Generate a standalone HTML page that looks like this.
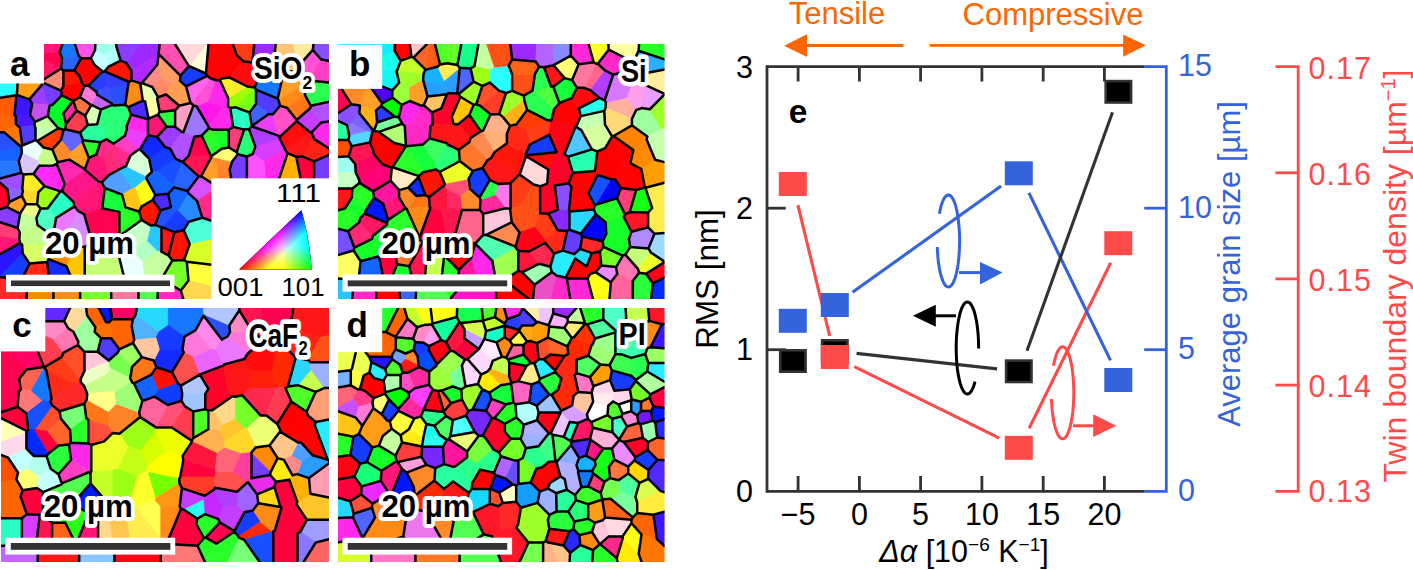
<!DOCTYPE html>
<html><head><meta charset="utf-8"><style>
html,body{margin:0;padding:0;background:#fff;}
body{width:1413px;height:570px;overflow:hidden;position:relative;font-family:"Liberation Sans",sans-serif;}
svg{position:absolute;left:0;top:0;}
</style></head><body>
<svg width="1413" height="570" viewBox="0 0 1413 570" shape-rendering="geometricPrecision">
<clipPath id="clipa"><rect x="0" y="44" width="329" height="255"/></clipPath>
<g clip-path="url(#clipa)">
<polygon points="59.7,52.1 33.9,55.3 16.3,52.8 8.9,44.0 62.4,44.0" fill="#ff1677" stroke="#ff1677" stroke-width="0.8"/>
<polygon points="62.0,58.5 61.1,68.7 60.8,68.7 33.9,55.3 59.7,52.1" fill="#ff0250" stroke="#ff0250" stroke-width="0.8"/>
<polygon points="19.0,59.3 42.0,80.5 60.8,68.7 33.9,55.3 16.3,52.8" fill="#ff1664" stroke="#ff1664" stroke-width="0.8"/>
<polygon points="62.0,58.5 61.1,68.7 63.4,70.4 74.3,70.4 81.1,58.3 78.3,55.2" fill="#2964ff" stroke="#2964ff" stroke-width="0.8"/>
<polygon points="62.0,58.5 78.3,55.2 74.9,44.0 62.4,44.0 59.7,52.1" fill="#1677ff" stroke="#1677ff" stroke-width="0.8"/>
<polygon points="78.3,55.2 74.9,44.0 95.4,44.0 95.0,50.2 90.9,58.3 81.1,58.3" fill="#ff50ec" stroke="#ff50ec" stroke-width="0.8"/>
<polygon points="106.4,54.7 108.6,66.7 104.6,71.4 104.4,71.5 102.4,71.3 94.8,65.1 90.9,58.3 95.0,50.2" fill="#c5ffff" stroke="#c5ffff" stroke-width="0.8"/>
<polygon points="116.4,44.0 95.4,44.0 95.0,50.2 106.4,54.7 116.2,46.0" fill="#9effec" stroke="#9effec" stroke-width="0.8"/>
<polygon points="79.7,76.4 81.9,83.0 84.5,85.8 88.2,85.6 102.4,71.3 94.8,65.1" fill="#ff0202" stroke="#ff0202" stroke-width="0.8"/>
<polygon points="74.3,70.4 81.1,58.3 90.9,58.3 94.8,65.1 79.7,76.4" fill="#ff0202" stroke="#ff0202" stroke-width="0.8"/>
<polygon points="74.3,70.4 63.4,70.4 63.4,86.1 81.9,83.0 79.7,76.4" fill="#ff1600" stroke="#ff1600" stroke-width="0.8"/>
<polygon points="73.0,100.9 61.9,95.3 60.9,90.6 63.4,86.1 81.9,83.0 84.5,85.8 79.8,97.1 73.3,100.9" fill="#ff0200" stroke="#ff0200" stroke-width="0.8"/>
<polygon points="60.8,68.7 61.1,68.7 63.4,70.4 63.4,86.1 60.9,90.6 42.5,82.4 42.0,80.5" fill="#ff8a77" stroke="#ff8a77" stroke-width="0.8"/>
<polygon points="107.5,86.4 104.4,71.5 102.4,71.3 88.2,85.6 96.6,91.9" fill="#293dff" stroke="#293dff" stroke-width="0.8"/>
<polygon points="107.5,86.4 96.6,91.9 97.2,94.8 111.8,103.5 110.1,88.6" fill="#3d50ff" stroke="#3d50ff" stroke-width="0.8"/>
<polygon points="97.2,94.8 92.0,105.1 91.2,105.3 79.8,97.1 84.5,85.8 88.2,85.6 96.6,91.9" fill="#ff77d8" stroke="#ff77d8" stroke-width="0.8"/>
<polygon points="111.8,103.5 112.5,104.9 100.9,109.5 92.0,105.1 97.2,94.8" fill="#c564ff" stroke="#c564ff" stroke-width="0.8"/>
<polygon points="0.0,44.0 8.9,44.0 16.3,52.8 19.0,59.3 16.9,94.9 16.4,95.3 0.0,97.7" fill="#29ffff" stroke="#29ffff" stroke-width="0.8"/>
<polygon points="19.0,59.3 16.9,94.9 29.4,99.4 41.8,84.9 42.5,82.4 42.0,80.5" fill="#ff9e16" stroke="#ff9e16" stroke-width="0.8"/>
<polygon points="0.0,97.7 16.4,95.3 14.4,114.9 0.0,114.9" fill="#ff5c02" stroke="#ff5c02" stroke-width="0.8"/>
<polygon points="15.8,124.1 15.8,116.5 14.4,114.9 0.0,114.9 -0.0,132.3 4.5,132.6" fill="#ff6402" stroke="#ff6402" stroke-width="0.8"/>
<polygon points="30.1,114.9 32.2,103.6 29.4,99.4 16.9,94.9 16.4,95.3 14.4,114.9 15.8,116.5" fill="#3d16ff" stroke="#3d16ff" stroke-width="0.8"/>
<polygon points="19.8,127.6 34.5,125.0 35.0,121.9 30.1,114.9 15.8,116.5 15.8,124.1" fill="#4916ff" stroke="#4916ff" stroke-width="0.8"/>
<polygon points="48.6,105.2 41.8,84.9 29.4,99.4 32.2,103.6" fill="#9e3dff" stroke="#9e3dff" stroke-width="0.8"/>
<polygon points="48.6,105.2 41.8,84.9 42.5,82.4 60.9,90.6 61.9,95.3 52.4,104.8 49.6,105.8" fill="#773dff" stroke="#773dff" stroke-width="0.8"/>
<polygon points="35.0,121.9 47.8,116.2 49.6,105.8 48.6,105.2 32.2,103.6 30.1,114.9" fill="#c550ec" stroke="#c550ec" stroke-width="0.8"/>
<polygon points="63.4,113.6 52.4,104.8 61.9,95.3 73.0,100.9" fill="#02ff29" stroke="#02ff29" stroke-width="0.8"/>
<polygon points="49.6,105.8 52.4,104.8 63.4,113.6 66.0,123.9 65.2,129.3 63.7,130.0 58.4,128.3 58.3,128.2 47.8,116.2" fill="#02ff29" stroke="#02ff29" stroke-width="0.8"/>
<polygon points="63.4,113.6 73.0,100.9 73.3,100.9 76.5,110.7 66.0,123.9" fill="#ff299e" stroke="#ff299e" stroke-width="0.8"/>
<polygon points="76.5,110.7 85.2,115.7 91.2,105.3 79.8,97.1 73.3,100.9" fill="#ff773d" stroke="#ff773d" stroke-width="0.8"/>
<polygon points="100.9,109.5 97.2,124.3 87.8,124.9 85.2,115.7 91.2,105.3 92.0,105.1" fill="#d8ffb1" stroke="#d8ffb1" stroke-width="0.8"/>
<polygon points="100.9,109.5 97.2,124.3 104.2,128.1 111.4,123.2 113.5,105.4 112.5,104.9" fill="#29ff77" stroke="#29ff77" stroke-width="0.8"/>
<polygon points="66.0,123.9 65.2,129.3 80.2,132.7 87.8,124.9 85.2,115.7 76.5,110.7" fill="#ff3d50" stroke="#ff3d50" stroke-width="0.8"/>
<polygon points="34.5,125.0 35.5,128.2 58.3,128.2 47.8,116.2 35.0,121.9" fill="#c5ff9e" stroke="#c5ff9e" stroke-width="0.8"/>
<polygon points="116.2,46.0 120.6,60.7 108.6,66.7 106.4,54.7" fill="#b1ffff" stroke="#b1ffff" stroke-width="0.8"/>
<polygon points="126.1,62.8 139.5,44.0 159.6,44.0 158.6,53.8 131.4,70.8" fill="#9e29ff" stroke="#9e29ff" stroke-width="0.8"/>
<polygon points="131.4,80.4 140.3,83.2 142.0,83.0 157.3,64.7 158.6,53.9 158.6,53.8 131.4,70.8" fill="#b129ff" stroke="#b129ff" stroke-width="0.8"/>
<polygon points="116.2,46.0 120.6,60.7 126.1,62.8 139.5,44.0 116.4,44.0" fill="#8a3dff" stroke="#8a3dff" stroke-width="0.8"/>
<polygon points="104.6,71.4 129.3,82.0 131.4,80.4 131.4,70.8 126.1,62.8 120.6,60.7 108.6,66.7" fill="#ff1602" stroke="#ff1602" stroke-width="0.8"/>
<polygon points="110.1,88.6 128.5,83.3 125.2,104.7 113.5,105.4 112.5,104.9 111.8,103.5" fill="#2950ff" stroke="#2950ff" stroke-width="0.8"/>
<polygon points="107.5,86.4 104.4,71.5 104.6,71.4 129.3,82.0 128.5,83.3 110.1,88.6" fill="#353dff" stroke="#353dff" stroke-width="0.8"/>
<polygon points="157.3,64.7 158.6,53.9 180.4,75.6 180.0,80.9 171.2,84.3 161.3,78.2" fill="#ff9e64" stroke="#ff9e64" stroke-width="0.8"/>
<polygon points="152.4,87.1 158.0,97.2 166.1,94.5 171.2,84.3 161.3,78.2" fill="#ff8a64" stroke="#ff8a64" stroke-width="0.8"/>
<polygon points="190.5,103.0 186.1,86.4 180.0,80.9 171.2,84.3 166.1,94.5 179.2,105.8" fill="#ff9e50" stroke="#ff9e50" stroke-width="0.8"/>
<polygon points="142.0,83.0 157.3,64.7 161.3,78.2 152.4,87.1" fill="#ff8a8a" stroke="#ff8a8a" stroke-width="0.8"/>
<polygon points="158.6,53.9 180.4,75.6 188.9,66.1 175.0,44.0 159.6,44.0 158.6,53.8" fill="#ff50b1" stroke="#ff50b1" stroke-width="0.8"/>
<polygon points="180.0,80.9 186.1,86.4 207.1,75.9 205.9,73.5 189.2,66.1 188.9,66.1 180.4,75.6" fill="#163dff" stroke="#163dff" stroke-width="0.8"/>
<polygon points="208.4,44.0 208.5,44.6 205.9,73.5 189.2,66.1 206.8,44.0" fill="#ffffd8" stroke="#ffffd8" stroke-width="0.8"/>
<polygon points="189.2,66.1 206.8,44.0 175.0,44.0 188.9,66.1" fill="#ffd8d8" stroke="#ffd8d8" stroke-width="0.8"/>
<polygon points="219.9,80.0 221.8,78.5 223.2,63.9 208.5,44.6 205.9,73.5 207.1,75.9 210.4,78.2 216.0,80.2" fill="#ff0202" stroke="#ff0202" stroke-width="0.8"/>
<polygon points="193.5,105.4 191.4,103.5 210.4,78.2 216.0,80.2 208.4,102.1 196.8,106.5" fill="#ff50d8" stroke="#ff50d8" stroke-width="0.8"/>
<polygon points="190.5,103.0 186.1,86.4 207.1,75.9 210.4,78.2 191.4,103.5" fill="#ff64ec" stroke="#ff64ec" stroke-width="0.8"/>
<polygon points="196.8,106.5 208.4,102.1 223.3,107.4 208.6,126.8" fill="#ff16ec" stroke="#ff16ec" stroke-width="0.8"/>
<polygon points="142.8,100.7 140.3,83.2 142.0,83.0 152.4,87.1 158.0,97.2 157.2,98.7 145.1,101.4" fill="#ecffb1" stroke="#ecffb1" stroke-width="0.8"/>
<polygon points="148.6,118.7 158.1,114.7 159.7,112.0 157.2,98.7 145.1,101.4" fill="#ffff9e" stroke="#ffff9e" stroke-width="0.8"/>
<polygon points="142.8,100.7 140.3,83.2 131.4,80.4 129.3,82.0 128.5,83.3 125.2,104.7 128.3,107.2" fill="#ff8a16" stroke="#ff8a16" stroke-width="0.8"/>
<polygon points="148.0,119.2 131.1,114.6 128.3,107.2 142.8,100.7 145.1,101.4 148.6,118.7" fill="#5029ff" stroke="#5029ff" stroke-width="0.8"/>
<polygon points="131.1,114.6 126.5,126.6 111.4,123.2 113.5,105.4 125.2,104.7 128.3,107.2" fill="#29ff77" stroke="#29ff77" stroke-width="0.8"/>
<polygon points="175.1,126.7 175.1,110.3 159.7,112.0 158.1,114.7 166.7,126.7" fill="#29ff3d" stroke="#29ff3d" stroke-width="0.8"/>
<polygon points="193.5,105.4 191.4,103.5 190.5,103.0 179.2,105.8 175.1,110.3 175.1,126.7 182.0,132.1 183.5,132.0" fill="#ff9ec5" stroke="#ff9ec5" stroke-width="0.8"/>
<polygon points="194.4,136.8 183.5,132.0 193.5,105.4 196.8,106.5 208.6,126.8 208.8,128.4 201.7,135.7" fill="#9e77ff" stroke="#9e77ff" stroke-width="0.8"/>
<polygon points="175.1,110.3 159.7,112.0 157.2,98.7 158.0,97.2 166.1,94.5 179.2,105.8" fill="#ff3d77" stroke="#ff3d77" stroke-width="0.8"/>
<polygon points="148.0,119.2 148.0,134.2 127.0,128.7 126.5,126.6 131.1,114.6" fill="#ff29ec" stroke="#ff29ec" stroke-width="0.8"/>
<polygon points="148.4,135.1 148.0,134.2 148.0,119.2 148.6,118.7 158.1,114.7 166.7,126.7 157.0,136.9" fill="#ff1677" stroke="#ff1677" stroke-width="0.8"/>
<polygon points="236.6,54.9 223.2,63.9 221.8,78.5 229.6,77.6 243.5,61.3" fill="#ff0202" stroke="#ff0202" stroke-width="0.8"/>
<polygon points="236.6,54.9 223.2,63.9 208.5,44.6 208.4,44.0 232.7,44.0" fill="#ff0202" stroke="#ff0202" stroke-width="0.8"/>
<polygon points="252.4,62.8 261.3,70.1 254.7,87.4 247.3,86.5 229.6,77.6 243.5,61.3" fill="#ff0c0c" stroke="#ff0c0c" stroke-width="0.8"/>
<polygon points="232.7,44.0 254.2,44.0 252.4,62.8 243.5,61.3 236.6,54.9" fill="#ff3d16" stroke="#ff3d16" stroke-width="0.8"/>
<polygon points="252.4,62.8 254.2,44.0 275.7,44.0 273.2,66.2 261.3,70.1" fill="#9e29ff" stroke="#9e29ff" stroke-width="0.8"/>
<polygon points="313.5,44.0 292.6,44.0 298.2,66.3 312.8,49.9" fill="#ffec9e" stroke="#ffec9e" stroke-width="0.8"/>
<polygon points="273.2,66.2 283.8,71.0 296.3,71.5 298.2,66.3 292.6,44.0 275.7,44.0" fill="#ffc577" stroke="#ffc577" stroke-width="0.8"/>
<polygon points="329.0,44.0 313.5,44.0 312.8,49.9 320.9,59.3 329.0,61.1" fill="#8a50ff" stroke="#8a50ff" stroke-width="0.8"/>
<polygon points="308.1,80.5 320.9,59.3 329.0,61.1 329.0,82.6" fill="#ff3dc5" stroke="#ff3dc5" stroke-width="0.8"/>
<polygon points="305.7,80.8 308.1,80.5 320.9,59.3 312.8,49.9 298.2,66.3 296.3,71.5" fill="#ff50d8" stroke="#ff50d8" stroke-width="0.8"/>
<polygon points="230.3,108.1 228.1,106.5 228.1,98.0 247.3,86.5 254.7,87.4 254.9,88.1 235.7,107.3" fill="#9eff02" stroke="#9eff02" stroke-width="0.8"/>
<polygon points="228.1,98.0 219.9,80.0 221.8,78.5 229.6,77.6 247.3,86.5" fill="#ffec29" stroke="#ffec29" stroke-width="0.8"/>
<polygon points="235.7,107.3 254.9,88.1 256.0,89.6 256.0,103.8 249.5,112.5" fill="#77ff16" stroke="#77ff16" stroke-width="0.8"/>
<polygon points="249.0,129.1 251.8,126.4 251.9,125.9 249.5,112.5 235.7,107.3 230.3,108.1 233.2,126.9 244.1,129.6" fill="#29ffc5" stroke="#29ffc5" stroke-width="0.8"/>
<polygon points="268.4,114.2 273.0,114.2 280.1,105.6 278.3,99.6 277.7,98.7 256.0,89.6 256.0,103.8" fill="#503dff" stroke="#503dff" stroke-width="0.8"/>
<polygon points="251.9,125.9 268.4,114.2 256.0,103.8 249.5,112.5" fill="#3d64ff" stroke="#3d64ff" stroke-width="0.8"/>
<polygon points="278.3,99.6 305.0,83.5 305.0,95.1 287.0,107.9 280.1,105.6" fill="#ff8a16" stroke="#ff8a16" stroke-width="0.8"/>
<polygon points="278.3,99.6 305.0,83.5 305.7,80.8 296.3,71.5 283.8,71.0 277.7,98.7" fill="#ff9e29" stroke="#ff9e29" stroke-width="0.8"/>
<polygon points="310.7,105.7 305.0,95.1 287.0,107.9 296.7,120.0 310.4,108.0" fill="#ff7716" stroke="#ff7716" stroke-width="0.8"/>
<polygon points="310.7,105.7 305.0,95.1 305.0,83.5 305.7,80.8 308.1,80.5 329.0,82.6 329.0,101.6" fill="#29ff50" stroke="#29ff50" stroke-width="0.8"/>
<polygon points="228.1,106.5 228.1,98.0 219.9,80.0 216.0,80.2 208.4,102.1 223.3,107.4" fill="#ff29ec" stroke="#ff29ec" stroke-width="0.8"/>
<polygon points="230.3,108.1 228.1,106.5 223.3,107.4 208.6,126.8 208.8,128.4 213.4,129.8 228.8,129.8 233.2,126.9" fill="#ff29ec" stroke="#ff29ec" stroke-width="0.8"/>
<polygon points="251.9,125.9 268.4,114.2 273.0,114.2 278.3,135.6 251.8,126.4" fill="#ec3dff" stroke="#ec3dff" stroke-width="0.8"/>
<polygon points="278.3,135.6 279.5,137.1 296.7,121.1 296.7,120.0 287.0,107.9 280.1,105.6 273.0,114.2" fill="#ff50c5" stroke="#ff50c5" stroke-width="0.8"/>
<polygon points="321.2,122.5 311.5,132.5 310.1,132.2 296.7,121.1 296.7,120.0 310.4,108.0" fill="#c53dff" stroke="#c53dff" stroke-width="0.8"/>
<polygon points="329.0,121.5 329.0,101.6 310.7,105.7 310.4,108.0 321.2,122.5" fill="#b150ff" stroke="#b150ff" stroke-width="0.8"/>
<polygon points="273.2,66.2 283.8,71.0 277.7,98.7 256.0,89.6 254.9,88.1 254.7,87.4 261.3,70.1" fill="#1677ff" stroke="#1677ff" stroke-width="0.8"/>
<polygon points="22.3,145.5 19.8,127.6 15.8,124.1 4.5,132.6 20.1,146.0 21.4,146.3" fill="#ff7702" stroke="#ff7702" stroke-width="0.8"/>
<polygon points="22.3,145.5 35.5,140.2 35.5,128.2 34.5,125.0 19.8,127.6" fill="#503dff" stroke="#503dff" stroke-width="0.8"/>
<polygon points="35.5,140.2 37.2,141.0 58.4,128.3 58.3,128.2 35.5,128.2" fill="#c5ffb1" stroke="#c5ffb1" stroke-width="0.8"/>
<polygon points="21.4,146.3 21.8,152.8 18.8,161.2 0.0,161.2 0.0,151.0 20.1,146.0" fill="#1664ff" stroke="#1664ff" stroke-width="0.8"/>
<polygon points="20.1,146.0 0.0,151.0 -0.0,132.3 4.5,132.6" fill="#2950ff" stroke="#2950ff" stroke-width="0.8"/>
<polygon points="18.8,161.2 0.0,161.2 0.0,178.6 21.3,172.8" fill="#2977ff" stroke="#2977ff" stroke-width="0.8"/>
<polygon points="22.3,145.5 35.5,140.2 37.2,141.0 43.6,147.5 37.9,160.9 21.8,152.8 21.4,146.3" fill="#ecffff" stroke="#ecffff" stroke-width="0.8"/>
<polygon points="39.3,165.7 37.9,160.9 43.6,147.5 52.3,149.5 57.6,162.3 56.7,164.0 52.7,165.7" fill="#c5ff8a" stroke="#c5ff8a" stroke-width="0.8"/>
<polygon points="18.8,161.2 21.3,172.8 23.5,174.5 33.6,173.8 39.3,165.7 37.9,160.9 21.8,152.8" fill="#d8c5ff" stroke="#d8c5ff" stroke-width="0.8"/>
<polygon points="37.2,141.0 43.6,147.5 52.3,149.5 60.9,139.8 63.7,130.0 58.4,128.3" fill="#ff3d02" stroke="#ff3d02" stroke-width="0.8"/>
<polygon points="83.0,140.2 80.2,132.7 65.2,129.3 63.7,130.0 60.9,139.8 70.9,152.3 82.7,142.4" fill="#6464ff" stroke="#6464ff" stroke-width="0.8"/>
<polygon points="70.9,152.3 69.4,159.6 57.6,162.3 52.3,149.5 60.9,139.8" fill="#ff8a29" stroke="#ff8a29" stroke-width="0.8"/>
<polygon points="88.9,157.8 84.8,169.3 69.4,159.6 70.9,152.3 82.7,142.4" fill="#ff9e29" stroke="#ff9e29" stroke-width="0.8"/>
<polygon points="83.0,140.2 80.2,132.7 87.8,124.9 97.2,124.3 104.2,128.1 106.6,139.2 100.3,142.3" fill="#29ff9e" stroke="#29ff9e" stroke-width="0.8"/>
<polygon points="109.1,174.8 101.8,182.4 98.6,181.6 84.9,169.6 84.8,169.3 88.9,157.8 96.3,154.5 103.6,156.6" fill="#ff1677" stroke="#ff1677" stroke-width="0.8"/>
<polygon points="112.5,148.5 113.6,144.3 113.5,143.7 106.6,139.2 100.3,142.3 96.3,154.5 103.6,156.6" fill="#ff298a" stroke="#ff298a" stroke-width="0.8"/>
<polygon points="96.3,154.5 100.3,142.3 83.0,140.2 82.7,142.4 88.9,157.8" fill="#29ff29" stroke="#29ff29" stroke-width="0.8"/>
<polygon points="60.4,191.4 62.0,191.1 64.6,183.8 56.7,164.0 52.7,165.7 44.5,186.1" fill="#ff29ec" stroke="#ff29ec" stroke-width="0.8"/>
<polygon points="33.6,173.8 39.3,165.7 52.7,165.7 44.5,186.1" fill="#ff29ff" stroke="#ff29ff" stroke-width="0.8"/>
<polygon points="73.4,201.8 62.0,191.1 64.6,183.8 84.9,169.6 98.6,181.6" fill="#ff168a" stroke="#ff168a" stroke-width="0.8"/>
<polygon points="57.6,162.3 69.4,159.6 84.8,169.3 84.9,169.6 64.6,183.8 56.7,164.0" fill="#ff29b1" stroke="#ff29b1" stroke-width="0.8"/>
<polygon points="78.4,211.2 84.1,214.2 102.3,208.0 104.7,188.0 101.8,182.4 98.6,181.6 73.4,201.8 74.4,206.4" fill="#ff1677" stroke="#ff1677" stroke-width="0.8"/>
<polygon points="7.4,189.1 0.0,182.6 0.0,178.6 21.3,172.8 23.5,174.5 22.3,189.1" fill="#9e50ff" stroke="#9e50ff" stroke-width="0.8"/>
<polygon points="21.9,195.9 9.3,202.2 7.4,189.1 22.3,189.1 22.9,190.4" fill="#8a64ff" stroke="#8a64ff" stroke-width="0.8"/>
<polygon points="6.9,207.0 9.3,202.2 7.4,189.1 0.0,182.6 0.0,209.4" fill="#ff0229" stroke="#ff0229" stroke-width="0.8"/>
<polygon points="38.3,192.3 22.9,190.4 22.3,189.1 23.5,174.5 33.6,173.8 44.5,186.1" fill="#ffec29" stroke="#ffec29" stroke-width="0.8"/>
<polygon points="38.3,192.3 22.9,190.4 21.9,195.9 26.0,204.2 37.1,204.2" fill="#ffd829" stroke="#ffd829" stroke-width="0.8"/>
<polygon points="60.4,191.4 47.5,208.5 40.7,208.6 37.1,204.2 38.3,192.3 44.5,186.1" fill="#9eff16" stroke="#9eff16" stroke-width="0.8"/>
<polygon points="60.4,191.4 62.0,191.1 73.4,201.8 74.4,206.4 56.0,218.0 47.5,208.5" fill="#29ffc5" stroke="#29ffc5" stroke-width="0.8"/>
<polygon points="21.9,195.9 9.3,202.2 6.9,207.0 20.1,213.7 26.0,204.2" fill="#ff9e29" stroke="#ff9e29" stroke-width="0.8"/>
<polygon points="37.1,204.2 26.0,204.2 20.1,213.7 20.1,213.8 36.4,218.1 40.7,208.6" fill="#ecff8a" stroke="#ecff8a" stroke-width="0.8"/>
<polygon points="127.0,128.7 126.5,126.6 111.4,123.2 104.2,128.1 106.6,139.2 113.5,143.7 124.8,135.8" fill="#29ff77" stroke="#29ff77" stroke-width="0.8"/>
<polygon points="130.5,155.6 138.7,149.6 124.8,135.8 113.5,143.7 113.6,144.3" fill="#ff3dc5" stroke="#ff3dc5" stroke-width="0.8"/>
<polygon points="140.0,149.5 138.7,149.6 124.8,135.8 127.0,128.7 148.0,134.2 148.4,135.1" fill="#ec3dff" stroke="#ec3dff" stroke-width="0.8"/>
<polygon points="118.5,169.7 126.1,166.1 130.5,155.6 113.6,144.3 112.5,148.5" fill="#ff298a" stroke="#ff298a" stroke-width="0.8"/>
<polygon points="165.2,147.1 149.1,158.6 151.8,171.8 157.5,171.8 175.8,159.0 170.3,148.8" fill="#163dff" stroke="#163dff" stroke-width="0.8"/>
<polygon points="165.2,147.1 157.0,136.9 148.4,135.1 140.0,149.5 149.1,158.6" fill="#0f29ff" stroke="#0f29ff" stroke-width="0.8"/>
<polygon points="175.8,159.0 182.5,161.9 173.5,185.8 157.5,171.8" fill="#1650ff" stroke="#1650ff" stroke-width="0.8"/>
<polygon points="157.5,171.8 173.5,185.8 174.1,187.4 168.2,193.8 155.3,194.9 146.4,178.7 147.0,176.5 151.8,171.8" fill="#1664ff" stroke="#1664ff" stroke-width="0.8"/>
<polygon points="173.5,185.8 182.5,161.9 182.7,161.9 198.6,176.4 187.7,191.0 174.1,187.4" fill="#2964ff" stroke="#2964ff" stroke-width="0.8"/>
<polygon points="165.2,147.1 157.0,136.9 166.7,126.7 175.1,126.7 182.0,132.1 170.3,148.8" fill="#9e3dff" stroke="#9e3dff" stroke-width="0.8"/>
<polygon points="170.3,148.8 182.0,132.1 183.5,132.0 194.4,136.8 188.7,155.9 182.7,161.9 182.5,161.9 175.8,159.0" fill="#b150ff" stroke="#b150ff" stroke-width="0.8"/>
<polygon points="210.9,155.9 201.7,135.7 194.4,136.8 188.7,155.9" fill="#ff0250" stroke="#ff0250" stroke-width="0.8"/>
<polygon points="198.6,176.4 201.1,176.2 211.3,157.5 211.4,156.5 211.3,156.3 210.9,155.9 188.7,155.9 182.7,161.9" fill="#ff1650" stroke="#ff1650" stroke-width="0.8"/>
<polygon points="211.3,156.3 210.9,155.9 201.7,135.7 208.8,128.4 213.4,129.8 221.7,148.7" fill="#29ff29" stroke="#29ff29" stroke-width="0.8"/>
<polygon points="211.3,157.5 201.1,176.2 217.8,186.9 217.8,164.8" fill="#ff9e29" stroke="#ff9e29" stroke-width="0.8"/>
<polygon points="147.0,176.5 126.1,166.1 118.5,169.7 118.2,170.0 132.8,188.2 135.0,188.1 146.4,178.7" fill="#29c5ff" stroke="#29c5ff" stroke-width="0.8"/>
<polygon points="151.8,171.8 147.0,176.5 126.1,166.1 130.5,155.6 138.7,149.6 140.0,149.5 149.1,158.6" fill="#d8ffd8" stroke="#d8ffd8" stroke-width="0.8"/>
<polygon points="118.2,170.0 132.8,188.2 122.1,194.7 104.7,188.0 101.8,182.4 109.1,174.8" fill="#509eff" stroke="#509eff" stroke-width="0.8"/>
<polygon points="146.4,178.7 135.0,188.1 141.8,206.3 152.7,200.0 155.3,194.9" fill="#ffff16" stroke="#ffff16" stroke-width="0.8"/>
<polygon points="132.8,188.2 122.1,194.7 125.5,207.4 139.0,211.5 141.8,206.3 135.0,188.1" fill="#ffc516" stroke="#ffc516" stroke-width="0.8"/>
<polygon points="118.5,169.7 112.5,148.5 103.6,156.6 109.1,174.8 118.2,170.0" fill="#ff2977" stroke="#ff2977" stroke-width="0.8"/>
<polygon points="104.7,188.0 122.1,194.7 125.5,207.4 119.4,211.9 102.9,208.5 102.3,208.0" fill="#16ff3d" stroke="#16ff3d" stroke-width="0.8"/>
<polygon points="174.1,187.4 187.7,191.0 188.5,193.3 178.2,211.3 175.6,210.8 170.9,207.1 168.2,193.8" fill="#1664ff" stroke="#1664ff" stroke-width="0.8"/>
<polygon points="178.2,211.3 188.5,193.3 197.0,200.9 202.2,217.7 188.9,221.7" fill="#298aff" stroke="#298aff" stroke-width="0.8"/>
<polygon points="168.2,193.8 170.9,207.1 160.5,210.4 152.7,200.0 155.3,194.9" fill="#5029ff" stroke="#5029ff" stroke-width="0.8"/>
<polygon points="187.7,191.0 188.5,193.3 197.0,200.9 217.9,187.0 217.8,186.9 201.1,176.2 198.6,176.4" fill="#d850ff" stroke="#d850ff" stroke-width="0.8"/>
<polygon points="246.9,206.1 265.4,232.7 266.4,235.4 248.3,232.5 202.2,217.7 197.0,200.9 217.9,187.0 233.8,193.8" fill="#ff298a" stroke="#ff298a" stroke-width="0.8"/>
<polygon points="160.5,210.4 155.0,224.9 150.6,225.4 141.5,219.9 139.0,211.5 141.8,206.3 152.7,200.0" fill="#ff1602" stroke="#ff1602" stroke-width="0.8"/>
<polygon points="221.7,148.7 213.4,129.8 228.8,129.8 228.8,147.4" fill="#16ff29" stroke="#16ff29" stroke-width="0.8"/>
<polygon points="236.6,152.3 228.8,147.4 228.8,129.8 233.2,126.9 244.1,129.6" fill="#ff3d77" stroke="#ff3d77" stroke-width="0.8"/>
<polygon points="237.9,154.2 246.9,156.5 252.7,154.0 255.3,146.6 249.0,129.1 244.1,129.6 236.6,152.3" fill="#29ff77" stroke="#29ff77" stroke-width="0.8"/>
<polygon points="252.7,154.0 263.8,161.0 285.3,150.3 285.0,148.9 279.6,138.5 255.3,146.6" fill="#d83dff" stroke="#d83dff" stroke-width="0.8"/>
<polygon points="255.3,146.6 279.6,138.5 279.5,137.1 278.3,135.6 251.8,126.4 249.0,129.1" fill="#b13dff" stroke="#b13dff" stroke-width="0.8"/>
<polygon points="268.1,211.7 287.6,153.2 285.3,150.3 263.8,161.0" fill="#ff29ec" stroke="#ff29ec" stroke-width="0.8"/>
<polygon points="246.9,156.5 246.9,206.1 265.4,232.7 268.1,211.7 263.8,161.0 252.7,154.0" fill="#ff50ff" stroke="#ff50ff" stroke-width="0.8"/>
<polygon points="302.1,156.3 296.3,156.9 287.6,153.2 285.3,150.3 285.0,148.9 310.1,132.2 311.5,132.5 314.3,139.1" fill="#ff1616" stroke="#ff1616" stroke-width="0.8"/>
<polygon points="302.1,156.3 314.3,139.1 329.0,148.5 329.0,155.0 314.1,161.3" fill="#ff2216" stroke="#ff2216" stroke-width="0.8"/>
<polygon points="279.6,138.5 285.0,148.9 310.1,132.2 296.7,121.1 279.5,137.1" fill="#ff0c0c" stroke="#ff0c0c" stroke-width="0.8"/>
<polygon points="321.2,122.5 329.0,121.5 329.0,148.5 314.3,139.1 311.5,132.5" fill="#ff29ec" stroke="#ff29ec" stroke-width="0.8"/>
<polygon points="211.4,156.5 232.1,161.6 229.7,169.5 217.8,164.8 211.3,157.5" fill="#ff8a29" stroke="#ff8a29" stroke-width="0.8"/>
<polygon points="237.9,154.2 232.1,161.6 211.4,156.5 211.3,156.3 221.7,148.7 228.8,147.4 236.6,152.3" fill="#ffff77" stroke="#ffff77" stroke-width="0.8"/>
<polygon points="217.8,164.8 217.8,186.9 217.9,187.0 233.8,193.8 229.7,169.5" fill="#ff8329" stroke="#ff8329" stroke-width="0.8"/>
<polygon points="237.9,154.2 232.1,161.6 229.7,169.5 233.8,193.8 246.9,206.1 246.9,156.5" fill="#773dff" stroke="#773dff" stroke-width="0.8"/>
<polygon points="302.1,156.3 296.3,156.9 314.1,245.7 314.1,161.3" fill="#ff023d" stroke="#ff023d" stroke-width="0.8"/>
<polygon points="314.1,161.3 314.1,245.7 318.7,291.9 324.8,299.0 329.0,299.0 329.0,155.0" fill="#773dff" stroke="#773dff" stroke-width="0.8"/>
<polygon points="268.1,211.7 287.6,153.2 296.3,156.9 314.1,245.7 318.7,291.9 300.3,275.2 266.4,235.4 265.4,232.7" fill="#ffb102" stroke="#ffb102" stroke-width="0.8"/>
<polygon points="6.9,207.0 0.0,209.4 -0.0,222.2 17.6,228.0 20.1,213.8 20.1,213.7" fill="#8a3dff" stroke="#8a3dff" stroke-width="0.8"/>
<polygon points="17.6,228.0 -0.0,222.2 0.0,236.4 19.2,239.2 19.9,232.7" fill="#ff3d77" stroke="#ff3d77" stroke-width="0.8"/>
<polygon points="20.2,242.9 19.2,239.2 0.0,236.4 0.0,254.1" fill="#ff1677" stroke="#ff1677" stroke-width="0.8"/>
<polygon points="22.7,253.4 22.1,244.8 20.2,242.9 0.0,254.1 -0.0,276.1" fill="#2916ff" stroke="#2916ff" stroke-width="0.8"/>
<polygon points="21.3,280.1 29.5,263.6 22.7,253.4 -0.0,276.1 0.0,277.0" fill="#163dff" stroke="#163dff" stroke-width="0.8"/>
<polygon points="55.0,240.6 51.4,244.8 22.1,244.8 20.2,242.9 19.2,239.2 19.9,232.7 37.5,224.9 53.1,236.3" fill="#c5ff8a" stroke="#c5ff8a" stroke-width="0.8"/>
<polygon points="48.6,259.1 51.4,244.8 22.1,244.8 22.7,253.4 29.5,263.6 47.1,262.0" fill="#d8ff64" stroke="#d8ff64" stroke-width="0.8"/>
<polygon points="20.1,213.8 17.6,228.0 19.9,232.7 37.5,224.9 36.4,218.1" fill="#c5ff9e" stroke="#c5ff9e" stroke-width="0.8"/>
<polygon points="61.5,240.9 78.4,211.2 74.4,206.4 56.0,218.0 53.1,236.3 55.0,240.6" fill="#ec77ff" stroke="#ec77ff" stroke-width="0.8"/>
<polygon points="61.5,240.9 74.6,245.7 84.7,246.9 92.2,242.5 84.1,214.2 78.4,211.2" fill="#d88aff" stroke="#d88aff" stroke-width="0.8"/>
<polygon points="84.1,214.2 92.2,242.5 109.8,242.5 102.9,208.5 102.3,208.0" fill="#ff0250" stroke="#ff0250" stroke-width="0.8"/>
<polygon points="47.5,208.5 56.0,218.0 53.1,236.3 37.5,224.9 36.4,218.1 40.7,208.6" fill="#50ffc5" stroke="#50ffc5" stroke-width="0.8"/>
<polygon points="84.7,246.9 84.7,278.0 80.1,280.9 72.4,280.1 66.4,266.2 74.6,245.7" fill="#ffc502" stroke="#ffc502" stroke-width="0.8"/>
<polygon points="61.5,240.9 74.6,245.7 66.4,266.2 48.6,259.1 51.4,244.8 55.0,240.6" fill="#ff8a02" stroke="#ff8a02" stroke-width="0.8"/>
<polygon points="53.4,285.4 72.4,280.1 66.4,266.2 48.6,259.1 47.1,262.0 49.5,282.1" fill="#1629ff" stroke="#1629ff" stroke-width="0.8"/>
<polygon points="84.7,246.9 84.7,278.0 99.4,280.8 114.4,244.2 114.3,244.0 109.8,242.5 92.2,242.5" fill="#c5ff77" stroke="#c5ff77" stroke-width="0.8"/>
<polygon points="49.5,282.1 47.1,262.0 29.5,263.6 21.3,280.1 27.1,284.9" fill="#ff2916" stroke="#ff2916" stroke-width="0.8"/>
<polygon points="27.1,284.9 26.6,299.0 0.0,299.0 0.0,277.0 21.3,280.1" fill="#ff2929" stroke="#ff2929" stroke-width="0.8"/>
<polygon points="53.4,285.4 49.5,282.1 27.1,284.9 26.6,299.0 53.4,299.0" fill="#ff8a02" stroke="#ff8a02" stroke-width="0.8"/>
<polygon points="53.4,285.4 53.4,299.0 80.1,299.0 80.1,280.9 72.4,280.1" fill="#ff8a16" stroke="#ff8a16" stroke-width="0.8"/>
<polygon points="80.1,280.9 80.1,299.0 111.3,299.0 111.1,290.3 99.4,280.8 84.7,278.0" fill="#77ff29" stroke="#77ff29" stroke-width="0.8"/>
<polygon points="119.4,211.9 119.4,235.9 114.3,244.0 109.8,242.5 102.9,208.5" fill="#ff0250" stroke="#ff0250" stroke-width="0.8"/>
<polygon points="139.0,211.5 125.5,207.4 119.4,211.9 119.4,235.9 141.5,219.9" fill="#29ff29" stroke="#29ff29" stroke-width="0.8"/>
<polygon points="178.2,211.3 188.9,221.7 183.8,230.2 174.3,232.2 162.5,227.3 175.6,210.8" fill="#163dff" stroke="#163dff" stroke-width="0.8"/>
<polygon points="175.6,210.8 170.9,207.1 160.5,210.4 155.0,224.9 161.4,227.3 162.5,227.3" fill="#2250ff" stroke="#2250ff" stroke-width="0.8"/>
<polygon points="158.0,251.3 142.0,261.3 129.6,248.9 146.9,240.2" fill="#b1ffc5" stroke="#b1ffc5" stroke-width="0.8"/>
<polygon points="161.4,251.7 158.0,251.3 146.9,240.2 150.6,225.4 155.0,224.9 161.4,227.3" fill="#29c5ff" stroke="#29c5ff" stroke-width="0.8"/>
<polygon points="150.6,225.4 146.9,240.2 129.6,248.9 116.2,245.5 114.4,244.2 114.3,244.0 119.4,235.9 141.5,219.9" fill="#c5ffc5" stroke="#c5ffc5" stroke-width="0.8"/>
<polygon points="161.4,251.7 158.0,251.3 142.0,261.3 144.1,277.4 158.1,280.7 161.4,279.2 172.4,260.4 168.5,255.5" fill="#c5ff9e" stroke="#c5ff9e" stroke-width="0.8"/>
<polygon points="129.6,248.9 116.2,245.5 124.9,280.3 138.5,280.3 144.1,277.4 142.0,261.3" fill="#ecffff" stroke="#ecffff" stroke-width="0.8"/>
<polygon points="183.8,230.2 189.7,244.2 184.1,259.9 172.4,260.4 168.5,255.5 174.3,232.2" fill="#ff1602" stroke="#ff1602" stroke-width="0.8"/>
<polygon points="174.3,232.2 168.5,255.5 161.4,251.7 161.4,227.3 162.5,227.3" fill="#ff1616" stroke="#ff1616" stroke-width="0.8"/>
<polygon points="188.9,221.7 202.2,217.7 248.3,232.5 189.7,244.2 183.8,230.2" fill="#50ffd8" stroke="#50ffd8" stroke-width="0.8"/>
<polygon points="189.7,244.2 184.1,259.9 186.8,261.8 300.3,275.2 266.4,235.4 248.3,232.5" fill="#d8ff29" stroke="#d8ff29" stroke-width="0.8"/>
<polygon points="188.5,280.6 262.2,299.0 324.8,299.0 318.7,291.9 300.3,275.2 186.8,261.8" fill="#ffff3d" stroke="#ffff3d" stroke-width="0.8"/>
<polygon points="180.8,290.5 188.5,280.6 262.2,299.0 183.4,299.0" fill="#ffd850" stroke="#ffd850" stroke-width="0.8"/>
<polygon points="111.1,290.3 124.9,280.3 116.2,245.5 114.4,244.2 99.4,280.8" fill="#c5ff77" stroke="#c5ff77" stroke-width="0.8"/>
<polygon points="180.8,290.5 161.4,279.2 172.4,260.4 184.1,259.9 186.8,261.8 188.5,280.6" fill="#77ff29" stroke="#77ff29" stroke-width="0.8"/>
<polygon points="138.5,299.0 111.3,299.0 111.1,290.3 124.9,280.3 138.5,280.3" fill="#ff779e" stroke="#ff779e" stroke-width="0.8"/>
<polygon points="138.5,299.0 138.5,280.3 144.1,277.4 158.1,280.7 157.5,299.0" fill="#50ff50" stroke="#50ff50" stroke-width="0.8"/>
<polygon points="157.5,299.0 183.4,299.0 180.8,290.5 161.4,279.2 158.1,280.7" fill="#ff29c5" stroke="#ff29c5" stroke-width="0.8"/>
<path d="M20.2,242.9L19.2,239.2M20.2,242.9L0.0,254.1M22.1,244.8L20.2,242.9M22.1,244.8L22.7,253.4M138.5,280.3L144.1,277.4M138.5,280.3L124.9,280.3M124.9,280.3L116.2,245.5M320.9,59.3L312.8,49.9M298.2,66.3L312.8,49.9M308.1,80.5L305.7,80.8M298.2,66.3L296.3,71.5M296.3,71.5L305.7,80.8M320.9,59.3L329.0,61.1M308.1,80.5L329.0,82.6M29.5,263.6L21.3,280.1M22.7,253.4L29.5,263.6M21.3,280.1L0.0,277.0M287.0,107.9L280.1,105.6M305.0,83.5L305.0,95.1M280.1,105.6L278.3,99.6M296.3,71.5L283.8,71.0M283.8,71.0L277.7,98.7M305.0,83.5L305.7,80.8M277.7,98.7L278.3,99.6M114.3,244.0L119.4,235.9M114.3,244.0L109.8,242.5M119.4,235.9L119.4,211.9M102.9,208.5L119.4,211.9M29.5,263.6L47.1,262.0M51.4,244.8L48.6,259.1M47.1,262.0L48.6,259.1M266.4,235.4L300.3,275.2M266.4,235.4L248.3,232.5M300.3,275.2L186.8,261.8M186.8,261.8L184.1,259.9M184.1,259.9L189.7,244.2M124.9,280.3L111.1,290.3M114.4,244.2L116.2,245.5M99.4,280.8L111.1,290.3M312.8,49.9L313.5,44.0M27.1,284.9L26.6,299.0M27.1,284.9L49.5,282.1M49.5,282.1L53.4,285.4M53.4,285.4L53.4,299.0M21.3,280.1L27.1,284.9M47.1,262.0L49.5,282.1M72.4,280.1L66.4,266.2M48.6,259.1L66.4,266.2M72.4,280.1L53.4,285.4M80.1,280.9L80.1,299.0M72.4,280.1L80.1,280.9M186.1,86.4L207.1,75.9M205.9,73.5L207.1,75.9M189.2,66.1L205.9,73.5M188.9,66.1L189.2,66.1M188.9,66.1L180.4,75.6M186.1,86.4L180.0,80.9M180.4,75.6L180.0,80.9M208.5,44.6L205.9,73.5M210.4,78.2L207.1,75.9M221.8,78.5L219.9,80.0M210.4,78.2L216.0,80.2M216.0,80.2L219.9,80.0M159.7,112.0L175.1,110.3M159.7,112.0L157.2,98.7M157.2,98.7L158.0,97.2M166.1,94.5L158.0,97.2M166.1,94.5L179.2,105.8M179.2,105.8L175.1,110.3M186.1,86.4L190.5,103.0M179.2,105.8L190.5,103.0M191.4,103.5L190.5,103.0M19.2,239.2L19.9,232.7M17.6,228.0L-0.0,222.2M19.9,232.7L17.6,228.0M125.5,207.4L139.0,211.5M119.4,235.9L141.5,219.9M141.5,219.9L139.0,211.5M114.4,244.2L114.3,244.0M141.5,219.9L150.6,225.4M84.7,278.0L80.1,280.9M84.7,278.0L84.7,246.9M74.6,245.7L84.7,246.9M109.8,242.5L92.2,242.5M99.4,280.8L84.7,278.0M92.2,242.5L84.7,246.9M300.3,275.2L318.7,291.9M318.7,291.9L324.8,299.0M186.8,261.8L188.5,280.6M161.4,279.2L180.8,290.5M161.4,279.2L172.4,260.4M172.4,260.4L184.1,259.9M188.5,280.6L180.8,290.5M155.0,224.9L150.6,225.4M155.0,224.9L161.4,227.3M161.4,227.3L161.4,251.7M158.1,280.7L144.1,277.4M172.4,260.4L168.5,255.5M158.1,280.7L161.4,279.2M168.5,255.5L161.4,251.7M69.4,159.6L57.6,162.3M69.4,159.6L84.8,169.3M84.8,169.3L84.9,169.6M64.6,183.8L56.7,164.0M56.7,164.0L57.6,162.3M314.1,161.3L329.0,155.0M314.3,139.1L329.0,148.5M314.1,161.3L302.1,156.3M314.1,245.7L314.1,161.3M314.1,245.7L318.7,291.9M311.5,132.5L314.3,139.1M311.5,132.5L310.1,132.2M285.0,148.9L285.3,150.3M287.6,153.2L285.3,150.3M296.3,156.9L302.1,156.3M296.3,156.9L287.6,153.2M314.1,245.7L296.3,156.9M310.7,105.7L329.0,101.6M310.4,108.0L310.7,105.7M321.2,122.5L329.0,121.5M305.0,95.1L310.7,105.7M296.7,120.0L287.0,107.9M296.7,120.0L310.4,108.0M311.5,132.5L321.2,122.5M310.1,132.2L296.7,121.1M296.7,120.0L296.7,121.1M219.9,80.0L228.1,98.0M229.6,77.6L221.8,78.5M229.6,77.6L247.3,86.5M175.0,44.0L188.9,66.1M159.6,44.0L158.6,53.8M180.4,75.6L158.6,53.9M158.6,53.8L158.6,53.9M158.1,114.7L166.7,126.7M159.7,112.0L158.1,114.7M175.1,110.3L175.1,126.7M166.7,126.7L175.1,126.7M296.7,121.1L279.5,137.1M285.0,148.9L279.6,138.5M279.5,137.1L279.6,138.5M287.6,153.2L268.1,211.7M266.4,235.4L265.4,232.7M265.4,232.7L268.1,211.7M37.5,224.9L36.4,218.1M17.6,228.0L20.1,213.8M102.9,208.5L102.3,208.0M92.2,242.5L84.1,214.2M125.5,207.4L122.1,194.7M122.1,194.7L104.7,188.0M102.3,208.0L104.7,188.0M84.9,169.6L98.6,181.6M62.0,191.1L73.4,201.8M62.0,191.1L64.6,183.8M180.8,290.5L183.4,299.0M141.8,206.3L139.0,211.5M141.8,206.3L152.7,200.0M155.0,224.9L160.5,210.4M152.7,200.0L160.5,210.4M162.5,227.3L174.3,232.2M174.3,232.2L183.8,230.2M183.8,230.2L188.9,221.7M161.4,227.3L162.5,227.3M168.5,255.5L174.3,232.2M160.5,210.4L170.9,207.1M189.7,244.2L183.8,230.2M248.3,232.5L202.2,217.7M202.2,217.7L188.9,221.7M197.0,200.9L188.5,193.3M202.2,217.7L197.0,200.9M97.2,124.3L100.9,109.5M113.5,105.4L112.5,104.9M112.5,104.9L100.9,109.5M91.2,105.3L92.0,105.1M91.2,105.3L85.2,115.7M85.2,115.7L87.8,124.9M87.8,124.9L97.2,124.3M92.0,105.1L100.9,109.5M57.6,162.3L52.3,149.5M43.6,147.5L52.3,149.5M56.7,164.0L52.7,165.7M52.7,165.7L39.3,165.7M52.3,149.5L60.9,139.8M42.0,80.5L60.8,68.7M42.0,80.5L19.0,59.3M16.3,52.8L19.0,59.3M63.4,70.4L61.1,68.7M61.1,68.7L60.8,68.7M42.5,82.4L60.9,90.6M42.5,82.4L42.0,80.5M63.4,86.1L60.9,90.6M63.4,86.1L63.4,70.4M41.8,84.9L29.4,99.4M16.9,94.9L29.4,99.4M42.5,82.4L41.8,84.9M16.9,94.9L19.0,59.3M208.5,44.6L208.4,44.0M256.0,89.6L254.9,88.1M277.7,98.7L256.0,89.6M283.8,71.0L273.2,66.2M254.7,87.4L254.9,88.1M254.7,87.4L261.3,70.1M261.3,70.1L273.2,66.2M273.2,66.2L275.7,44.0M39.3,165.7L33.6,173.8M23.5,174.5L33.6,173.8M23.5,174.5L21.3,172.8M21.3,172.8L18.8,161.2M21.8,152.8L18.8,161.2M21.3,172.8L0.0,178.6M228.1,98.0L228.1,106.5M157.3,64.7L142.0,83.0M152.4,87.1L142.0,83.0M158.6,53.9L157.3,64.7M158.0,97.2L152.4,87.1M131.4,70.8L131.4,80.4M131.4,70.8L126.1,62.8M129.3,82.0L131.4,80.4M129.3,82.0L104.6,71.4M126.1,62.8L120.6,60.7M120.6,60.7L108.6,66.7M108.6,66.7L104.6,71.4M140.3,83.2L142.0,83.0M140.3,83.2L131.4,80.4M126.5,126.6L127.0,128.7M106.6,139.2L113.5,143.7M113.5,143.7L124.8,135.8M124.8,135.8L127.0,128.7M128.3,107.2L142.8,100.7M128.3,107.2L131.1,114.6M131.1,114.6L148.0,119.2M145.1,101.4L142.8,100.7M145.1,101.4L148.6,118.7M148.6,118.7L148.0,119.2M125.2,104.7L128.3,107.2M125.2,104.7L128.5,83.3M140.3,83.2L142.8,100.7M128.5,83.3L129.3,82.0M113.5,105.4L125.2,104.7M126.5,126.6L131.1,114.6M148.0,134.2L148.0,119.2M158.1,114.7L148.6,118.7M94.8,65.1L90.9,58.3M90.9,58.3L81.1,58.3M81.1,58.3L74.3,70.4M79.7,76.4L74.3,70.4M84.5,85.8L88.2,85.6M81.9,83.0L84.5,85.8M81.9,83.0L79.7,76.4M88.2,85.6L102.4,71.3M102.4,71.3L94.8,65.1M63.4,70.4L74.3,70.4M95.0,50.2L95.4,44.0M116.2,46.0L116.4,44.0M102.4,71.3L104.4,71.5M104.4,71.5L104.6,71.4M90.9,58.3L95.0,50.2M120.6,60.7L116.2,46.0M73.3,100.9L73.0,100.9M73.3,100.9L76.5,110.7M73.0,100.9L63.4,113.6M76.5,110.7L66.0,123.9M66.0,123.9L63.4,113.6M60.9,90.6L61.9,95.3M79.8,97.1L84.5,85.8M79.8,97.1L73.3,100.9M61.9,95.3L73.0,100.9M85.2,115.7L76.5,110.7M91.2,105.3L79.8,97.1M52.4,104.8L61.9,95.3M65.2,129.3L80.2,132.7M87.8,124.9L80.2,132.7M65.2,129.3L66.0,123.9M78.3,55.2L74.9,44.0M59.7,52.1L62.4,44.0M59.7,52.1L62.0,58.5M81.1,58.3L78.3,55.2M61.1,68.7L62.0,58.5M8.9,44.0L16.3,52.8M280.1,105.6L273.0,114.2M279.5,137.1L278.3,135.6M265.4,232.7L246.9,206.1M217.9,187.0L233.8,193.8M233.8,193.8L246.9,206.1M7.4,189.1L0.0,182.6M7.4,189.1L9.3,202.2M9.3,202.2L6.9,207.0M6.9,207.0L0.0,209.4M23.5,174.5L22.3,189.1M20.1,213.8L20.1,213.7M20.1,213.7L6.9,207.0M9.3,202.2L21.9,195.9M20.1,213.7L26.0,204.2M26.0,204.2L21.9,195.9M22.3,189.1L22.9,190.4M22.9,190.4L21.9,195.9M74.4,206.4L78.4,211.2M74.4,206.4L56.0,218.0M56.0,218.0L53.1,236.3M53.1,236.3L55.0,240.6M55.0,240.6L61.5,240.9M104.7,188.0L101.8,182.4M84.1,214.2L78.4,211.2M101.8,182.4L98.6,181.6M73.4,201.8L74.4,206.4M74.6,245.7L61.5,240.9M51.4,244.8L55.0,240.6M37.5,224.9L53.1,236.3M96.6,91.9L97.2,94.8M97.2,94.8L111.8,103.5M88.2,85.6L96.6,91.9M112.5,104.9L111.8,103.5M100.3,142.3L96.3,154.5M100.3,142.3L83.0,140.2M82.7,142.4L83.0,140.2M82.7,142.4L88.9,157.8M88.9,157.8L96.3,154.5M80.2,132.7L83.0,140.2M106.6,139.2L100.3,142.3M60.9,139.8L63.7,130.0M65.2,129.3L63.7,130.0M84.8,169.3L88.9,157.8M138.7,149.6L130.5,155.6M16.4,95.3L14.4,114.9M16.4,95.3L0.0,97.7M16.9,94.9L16.4,95.3M63.7,130.0L58.4,128.3M43.6,147.5L37.2,141.0M58.4,128.3L37.2,141.0M29.4,99.4L32.2,103.6M58.4,128.3L58.3,128.2M58.3,128.2L47.8,116.2M52.4,104.8L49.6,105.8M47.8,116.2L49.6,105.8M37.2,141.0L35.5,140.2M35.5,128.2L35.5,140.2M111.1,290.3L111.3,299.0M166.7,126.7L157.0,136.9M148.0,134.2L148.4,135.1M157.0,136.9L148.4,135.1M138.7,149.6L140.0,149.5M148.4,135.1L140.0,149.5M182.0,132.1L183.5,132.0M175.1,126.7L182.0,132.1M191.4,103.5L193.5,105.4M183.5,132.0L193.5,105.4M208.6,126.8L196.8,106.5M196.8,106.5L193.5,105.4M208.8,128.4L208.6,126.8M208.8,128.4L201.7,135.7M201.7,135.7L194.4,136.8M194.4,136.8L188.7,155.9M201.7,135.7L210.9,155.9M256.0,89.6L256.0,103.8M273.0,114.2L268.4,114.2M40.7,208.6L37.1,204.2M40.7,208.6L47.5,208.5M37.1,204.2L38.3,192.3M47.5,208.5L60.4,191.4M38.3,192.3L44.5,186.1M60.4,191.4L44.5,186.1M36.4,218.1L40.7,208.6M26.0,204.2L37.1,204.2M62.0,191.1L60.4,191.4M33.6,173.8L44.5,186.1M109.1,174.8L118.2,170.0M118.2,170.0L118.5,169.7M101.8,182.4L109.1,174.8M126.1,166.1L118.5,169.7M130.5,155.6L126.1,166.1M14.4,114.9L15.8,116.5M32.2,103.6L30.1,114.9M47.8,116.2L35.0,121.9M30.1,114.9L35.0,121.9M35.5,128.2L34.5,125.0M35.0,121.9L34.5,125.0M4.5,132.6L20.1,146.0M15.8,124.1L19.8,127.6M19.8,127.6L22.3,145.5M20.1,146.0L21.4,146.3M21.4,146.3L22.3,145.5M-0.0,132.3L4.5,132.6M15.8,116.5L15.8,124.1M35.5,140.2L22.3,145.5M21.8,152.8L21.4,146.3M252.4,62.8L254.2,44.0M243.5,61.3L236.6,54.9M243.5,61.3L252.4,62.8M236.6,54.9L232.7,44.0M261.3,70.1L252.4,62.8M254.7,87.4L247.3,86.5M158.1,280.7L157.5,299.0M138.5,280.3L138.5,299.0M213.4,129.8L228.8,129.8M228.8,129.8L228.8,147.4M228.8,147.4L221.7,148.7M213.4,129.8L208.8,128.4M210.9,155.9L211.3,156.3M221.7,148.7L211.3,156.3M256.0,103.8L249.5,112.5M268.4,114.2L251.9,125.9M249.5,112.5L251.9,125.9M249.5,112.5L235.7,107.3M228.1,106.5L230.3,108.1M228.8,129.8L233.2,126.9M233.2,126.9L230.3,108.1M235.7,107.3L230.3,108.1M278.3,135.6L251.8,126.4M251.8,126.4L251.9,125.9M229.7,169.5L232.1,161.6M211.3,157.5L211.4,156.5M217.9,187.0L217.8,186.9M233.8,193.8L229.7,169.5M201.1,176.2L211.3,157.5M217.8,186.9L201.1,176.2M211.3,156.3L211.4,156.5M188.7,155.9L182.7,161.9M201.1,176.2L198.6,176.4M182.7,161.9L198.6,176.4M188.5,193.3L187.7,191.0M198.6,176.4L187.7,191.0M152.7,200.0L155.3,194.9M170.9,207.1L168.2,193.8M155.3,194.9L168.2,193.8M155.3,194.9L146.4,178.7M187.7,191.0L174.1,187.4M168.2,193.8L174.1,187.4M146.4,178.7L147.0,176.5M182.7,161.9L182.5,161.9M149.1,158.6L151.8,171.8M175.8,159.0L170.3,148.8M170.3,148.8L165.2,147.1M157.0,136.9L165.2,147.1M140.0,149.5L149.1,158.6M147.0,176.5L151.8,171.8M182.5,161.9L175.8,159.0M244.1,129.6L249.0,129.1M244.1,129.6L236.6,152.3M249.0,129.1L255.3,146.6M255.3,146.6L252.7,154.0M252.7,154.0L246.9,156.5M246.9,156.5L237.9,154.2M236.6,152.3L237.9,154.2M233.2,126.9L244.1,129.6M251.8,126.4L249.0,129.1M228.8,147.4L236.6,152.3M246.9,206.1L246.9,156.5M232.1,161.6L237.9,154.2" fill="none" stroke="#000" stroke-width="2.5" stroke-linecap="round"/>
</g>
<clipPath id="clipb"><rect x="338" y="44" width="326.5" height="255"/></clipPath>
<g clip-path="url(#clipb)">
<polygon points="394.5,50.6 360.4,65.2 363.8,68.8 396.5,70.9 397.3,70.1 400.6,60.8" fill="#16ffec" stroke="#16ffec" stroke-width="0.8"/>
<polygon points="392.3,90.3 399.1,82.7 396.5,70.9 363.8,68.8 368.2,81.2" fill="#16f5f5" stroke="#16f5f5" stroke-width="0.8"/>
<polygon points="395.0,44.0 338.0,44.0 338.0,49.5 360.4,65.2 394.5,50.6" fill="#16ecff" stroke="#16ecff" stroke-width="0.8"/>
<polygon points="409.8,44.0 411.4,56.9 400.6,60.8 394.5,50.6 395.0,44.0" fill="#ff0202" stroke="#ff0202" stroke-width="0.8"/>
<polygon points="409.8,44.0 427.0,44.0 413.4,57.6 411.4,56.9" fill="#ffc5c5" stroke="#ffc5c5" stroke-width="0.8"/>
<polygon points="437.8,66.5 425.2,69.9 424.8,68.9 428.9,44.0 434.9,44.0 440.1,64.5" fill="#ff5c16" stroke="#ff5c16" stroke-width="0.8"/>
<polygon points="427.0,44.0 413.4,57.6 424.8,68.9 428.9,44.0" fill="#ff6429" stroke="#ff6429" stroke-width="0.8"/>
<polygon points="440.1,64.5 434.9,44.0 447.3,44.0 447.3,63.3" fill="#50ff29" stroke="#50ff29" stroke-width="0.8"/>
<polygon points="423.5,73.9 397.3,70.1 396.5,70.9 399.1,82.7 409.7,87.5 423.1,80.2" fill="#9eff29" stroke="#9eff29" stroke-width="0.8"/>
<polygon points="392.3,97.6 401.7,104.9 409.7,101.0 409.7,87.5 399.1,82.7 392.3,90.3" fill="#9eff3d" stroke="#9eff3d" stroke-width="0.8"/>
<polygon points="411.4,56.9 413.4,57.6 424.8,68.9 425.2,69.9 423.5,73.9 397.3,70.1 400.6,60.8" fill="#c5ff29" stroke="#c5ff29" stroke-width="0.8"/>
<polygon points="409.7,101.0 409.7,87.5 423.1,80.2 423.2,80.3 427.6,96.6 423.7,105.2 421.1,105.7" fill="#ff9e29" stroke="#ff9e29" stroke-width="0.8"/>
<polygon points="437.8,66.5 425.2,69.9 423.5,73.9 423.1,80.2 423.2,80.3 444.3,86.3 444.3,80.5" fill="#16b1ff" stroke="#16b1ff" stroke-width="0.8"/>
<polygon points="448.5,92.9 446.9,94.3 427.6,96.6 423.2,80.3 444.3,86.3" fill="#299eff" stroke="#299eff" stroke-width="0.8"/>
<polygon points="441.4,108.3 446.9,94.3 427.6,96.6 423.7,105.2 431.9,112.3" fill="#ffc564" stroke="#ffc564" stroke-width="0.8"/>
<polygon points="451.8,116.8 441.4,108.3 431.9,112.3 432.8,123.7 451.4,125.4 453.5,123.9" fill="#ff0229" stroke="#ff0229" stroke-width="0.8"/>
<polygon points="404.8,126.2 402.2,123.7 398.8,117.4 401.7,104.9 409.7,101.0 421.1,105.7 412.6,122.5" fill="#ff29ec" stroke="#ff29ec" stroke-width="0.8"/>
<polygon points="430.4,126.6 432.8,123.7 431.9,112.3 423.7,105.2 421.1,105.7 412.6,122.5" fill="#ff29c5" stroke="#ff29c5" stroke-width="0.8"/>
<polygon points="382.1,103.3 392.3,97.6 392.3,90.3 368.2,81.2 368.2,83.8" fill="#5002ff" stroke="#5002ff" stroke-width="0.8"/>
<polygon points="382.1,103.3 392.3,97.6 401.7,104.9 398.8,117.4 394.7,116.6 381.2,105.9" fill="#02ff02" stroke="#02ff02" stroke-width="0.8"/>
<polygon points="351.3,104.3 359.8,105.5 368.2,83.8 368.2,81.2 363.8,68.8 360.4,65.2 338.0,49.5 338.0,83.1" fill="#ff8a29" stroke="#ff8a29" stroke-width="0.8"/>
<polygon points="360.0,105.7 376.0,110.5 381.2,105.9 382.1,103.3 368.2,83.8 359.8,105.5" fill="#ff9e29" stroke="#ff9e29" stroke-width="0.8"/>
<polygon points="360.0,105.7 376.0,110.5 377.1,122.5 373.9,130.8 373.6,130.9 359.3,113.1" fill="#ffb116" stroke="#ffb116" stroke-width="0.8"/>
<polygon points="338.0,113.2 338.0,83.1 351.3,104.3" fill="#ff0250" stroke="#ff0250" stroke-width="0.8"/>
<polygon points="351.3,104.3 359.8,105.5 360.0,105.7 359.3,113.1 352.0,123.4 347.1,125.2 338.0,120.9 338.0,113.2" fill="#8a50ff" stroke="#8a50ff" stroke-width="0.8"/>
<polygon points="352.0,123.4 367.3,131.4 372.2,132.5 373.6,130.9 359.3,113.1" fill="#7764ff" stroke="#7764ff" stroke-width="0.8"/>
<polygon points="373.9,130.8 377.1,122.5 394.7,116.6 398.8,117.4 402.2,123.7 378.8,131.9" fill="#77ff9e" stroke="#77ff9e" stroke-width="0.8"/>
<polygon points="381.2,105.9 394.7,116.6 377.1,122.5 376.0,110.5" fill="#293dff" stroke="#293dff" stroke-width="0.8"/>
<polygon points="447.3,63.3 447.3,44.0 461.3,44.0 457.4,65.1" fill="#64ff29" stroke="#64ff29" stroke-width="0.8"/>
<polygon points="459.7,67.7 459.8,67.7 470.6,68.4 474.4,66.2 478.4,44.0 461.3,44.0 457.4,65.1" fill="#16ff8a" stroke="#16ff8a" stroke-width="0.8"/>
<polygon points="494.5,67.2 490.8,70.4 474.4,66.2 478.4,44.0 486.7,44.0" fill="#c5ff9e" stroke="#c5ff9e" stroke-width="0.8"/>
<polygon points="470.6,68.4 474.4,66.2 490.8,70.4 489.9,82.6 482.3,86.0 473.6,81.7" fill="#9eff16" stroke="#9eff16" stroke-width="0.8"/>
<polygon points="512.1,74.2 508.7,65.5 494.5,67.2 490.8,70.4 489.9,82.6 498.9,90.6 506.1,93.0 512.1,90.8" fill="#29ffff" stroke="#29ffff" stroke-width="0.8"/>
<polygon points="512.1,59.6 510.4,44.0 486.7,44.0 494.5,67.2 508.7,65.5" fill="#ff5016" stroke="#ff5016" stroke-width="0.8"/>
<polygon points="512.1,59.6 510.4,44.0 536.8,44.0 535.7,61.6" fill="#9e29ff" stroke="#9e29ff" stroke-width="0.8"/>
<polygon points="544.0,67.2 553.6,65.2 553.6,44.0 536.8,44.0 535.7,61.6 539.2,66.7" fill="#b164ff" stroke="#b164ff" stroke-width="0.8"/>
<polygon points="534.9,74.2 512.1,74.2 512.1,90.8 523.8,95.7 532.5,90.6" fill="#ff5016" stroke="#ff5016" stroke-width="0.8"/>
<polygon points="539.2,66.7 535.7,61.6 512.1,59.6 508.7,65.5 512.1,74.2 534.9,74.2" fill="#ff6416" stroke="#ff6416" stroke-width="0.8"/>
<polygon points="544.0,67.2 550.9,86.2 536.4,91.7 532.5,90.6 534.9,74.2 539.2,66.7" fill="#29ff50" stroke="#29ff50" stroke-width="0.8"/>
<polygon points="536.4,91.7 554.0,109.3 551.5,120.0 550.7,120.6 547.8,120.3 527.1,109.9 524.3,100.1 523.8,95.7 532.5,90.6" fill="#29ff50" stroke="#29ff50" stroke-width="0.8"/>
<polygon points="550.9,86.2 553.3,86.8 559.4,103.0 554.0,109.3 536.4,91.7" fill="#50ff3d" stroke="#50ff3d" stroke-width="0.8"/>
<polygon points="544.0,67.2 553.6,65.2 553.6,65.2 564.6,78.1 553.3,86.8 550.9,86.2" fill="#ff1616" stroke="#ff1616" stroke-width="0.8"/>
<polygon points="444.3,80.5 444.3,86.3 448.5,92.9 457.2,93.4 459.8,67.7 459.7,67.7" fill="#299eff" stroke="#299eff" stroke-width="0.8"/>
<polygon points="437.8,66.5 444.3,80.5 459.7,67.7 457.4,65.1 447.3,63.3 440.1,64.5" fill="#ffec50" stroke="#ffec50" stroke-width="0.8"/>
<polygon points="459.8,67.7 457.2,93.4 458.5,94.2 473.6,81.7 470.6,68.4" fill="#5064ff" stroke="#5064ff" stroke-width="0.8"/>
<polygon points="473.7,104.7 460.4,96.7 458.5,94.2 473.6,81.7 482.3,86.0 476.2,104.3" fill="#9eff29" stroke="#9eff29" stroke-width="0.8"/>
<polygon points="480.1,105.7 498.9,90.6 506.1,93.0 499.2,113.9 490.5,114.4" fill="#ff3d29" stroke="#ff3d29" stroke-width="0.8"/>
<polygon points="476.2,104.3 482.3,86.0 489.9,82.6 498.9,90.6 480.1,105.7" fill="#ff5029" stroke="#ff5029" stroke-width="0.8"/>
<polygon points="460.4,96.7 458.5,94.2 457.2,93.4 448.5,92.9 446.9,94.3 441.4,108.3 451.8,116.8" fill="#ff0229" stroke="#ff0229" stroke-width="0.8"/>
<polygon points="473.7,104.7 460.4,96.7 451.8,116.8 453.5,123.9 458.0,124.4 469.4,115.0" fill="#ffc502" stroke="#ffc502" stroke-width="0.8"/>
<polygon points="523.8,95.7 524.3,100.1 503.0,117.1 499.2,113.9 506.1,93.0 512.1,90.8" fill="#9eff29" stroke="#9eff29" stroke-width="0.8"/>
<polygon points="510.0,125.8 516.3,124.4 527.1,109.9 524.3,100.1 503.0,117.1" fill="#ffb116" stroke="#ffb116" stroke-width="0.8"/>
<polygon points="473.7,104.7 469.4,115.0 480.8,131.2 482.7,130.8 483.2,130.4 490.5,114.4 480.1,105.7 476.2,104.3" fill="#16ff29" stroke="#16ff29" stroke-width="0.8"/>
<polygon points="480.8,131.2 470.4,138.1 458.0,124.4 469.4,115.0" fill="#ff0216" stroke="#ff0216" stroke-width="0.8"/>
<polygon points="547.8,120.3 527.1,109.9 516.3,124.4 527.1,131.1" fill="#ff3d02" stroke="#ff3d02" stroke-width="0.8"/>
<polygon points="483.2,130.4 506.9,133.9 510.0,125.8 503.0,117.1 499.2,113.9 490.5,114.4" fill="#ffb18a" stroke="#ffb18a" stroke-width="0.8"/>
<polygon points="553.6,65.2 570.8,55.7 570.8,44.0 553.6,44.0 553.6,65.2" fill="#8a8aff" stroke="#8a8aff" stroke-width="0.8"/>
<polygon points="564.6,78.1 572.1,80.1 578.7,64.3 570.8,55.7 553.6,65.2" fill="#ffff77" stroke="#ffff77" stroke-width="0.8"/>
<polygon points="578.7,64.3 593.6,62.2 588.6,44.0 570.8,44.0 570.8,55.7" fill="#ff29d8" stroke="#ff29d8" stroke-width="0.8"/>
<polygon points="639.1,44.0 608.3,44.0 608.7,49.7 633.4,62.1 638.6,50.7" fill="#ffff9e" stroke="#ffff9e" stroke-width="0.8"/>
<polygon points="608.7,49.7 608.3,44.0 588.6,44.0 593.6,62.2 596.1,63.6 597.8,63.8" fill="#ffff29" stroke="#ffff29" stroke-width="0.8"/>
<polygon points="638.6,50.7 639.1,44.0 664.5,44.0 664.5,59.4" fill="#29ff29" stroke="#29ff29" stroke-width="0.8"/>
<polygon points="633.4,62.1 632.4,70.8 613.2,74.6 605.1,70.5 597.8,63.8 608.7,49.7" fill="#ff29c5" stroke="#ff29c5" stroke-width="0.8"/>
<polygon points="590.3,90.2 605.1,70.5 597.8,63.8 596.1,63.6 584.0,87.8" fill="#ff648a" stroke="#ff648a" stroke-width="0.8"/>
<polygon points="590.3,90.2 605.1,70.5 613.2,74.6 604.6,100.5 599.5,97.9" fill="#b13dff" stroke="#b13dff" stroke-width="0.8"/>
<polygon points="578.7,64.3 593.6,62.2 596.1,63.6 584.0,87.8 576.9,87.8 572.1,80.1" fill="#ff779e" stroke="#ff779e" stroke-width="0.8"/>
<polygon points="559.4,103.0 571.7,98.1 576.9,87.8 572.1,80.1 564.6,78.1 553.3,86.8" fill="#16ff3d" stroke="#16ff3d" stroke-width="0.8"/>
<polygon points="559.4,103.0 571.7,98.1 578.8,108.3 580.8,116.1 576.1,126.9 575.3,127.2 551.5,120.0 554.0,109.3" fill="#ff0202" stroke="#ff0202" stroke-width="0.8"/>
<polygon points="590.3,90.2 584.0,87.8 576.9,87.8 571.7,98.1 578.8,108.3 599.5,97.9" fill="#ff0c0c" stroke="#ff0c0c" stroke-width="0.8"/>
<polygon points="599.5,97.9 604.6,100.5 605.8,102.5 605.6,107.7 604.3,110.9 580.8,116.1 578.8,108.3" fill="#29ffec" stroke="#29ffec" stroke-width="0.8"/>
<polygon points="576.1,126.9 580.8,116.1 604.3,110.9 605.0,124.7 581.3,130.1" fill="#c5ffb1" stroke="#c5ffb1" stroke-width="0.8"/>
<polygon points="605.8,102.5 605.6,107.7 631.9,119.0 636.2,110.0 626.4,97.7" fill="#ffb19e" stroke="#ffb19e" stroke-width="0.8"/>
<polygon points="631.9,125.3 631.9,119.0 605.6,107.7 604.3,110.9 605.0,124.7 612.1,136.3 613.6,136.0" fill="#ffd877" stroke="#ffd877" stroke-width="0.8"/>
<polygon points="626.4,97.7 636.2,110.0 641.8,108.1 645.1,84.8 636.2,75.1 635.2,74.7" fill="#ff9eec" stroke="#ff9eec" stroke-width="0.8"/>
<polygon points="645.1,84.8 664.5,93.8 664.5,94.4 649.7,109.3 641.8,108.1" fill="#ec9eff" stroke="#ec9eff" stroke-width="0.8"/>
<polygon points="605.8,102.5 626.4,97.7 635.2,74.7 632.4,70.8 613.2,74.6 604.6,100.5" fill="#d877ff" stroke="#d877ff" stroke-width="0.8"/>
<polygon points="638.6,50.7 664.5,59.4 664.5,69.5 636.2,75.1 635.2,74.7 632.4,70.8 633.4,62.1" fill="#29b1ff" stroke="#29b1ff" stroke-width="0.8"/>
<polygon points="664.5,69.5 636.2,75.1 645.1,84.8 664.5,93.8" fill="#ffec9e" stroke="#ffec9e" stroke-width="0.8"/>
<polygon points="631.9,125.3 631.9,119.0 636.2,110.0 641.8,108.1 649.7,109.3 661.5,129.0 647.3,136.6" fill="#9eff9e" stroke="#9eff9e" stroke-width="0.8"/>
<polygon points="649.7,109.3 664.5,94.4 664.5,129.0 661.5,129.0" fill="#9eff29" stroke="#9eff29" stroke-width="0.8"/>
<polygon points="347.1,125.2 352.0,123.4 367.3,131.4 349.2,135.9" fill="#8a77ff" stroke="#8a77ff" stroke-width="0.8"/>
<polygon points="348.5,140.1 349.2,135.9 367.3,131.4 372.2,132.5 369.9,142.4 351.8,146.1" fill="#50d8ff" stroke="#50d8ff" stroke-width="0.8"/>
<polygon points="404.8,126.2 402.2,123.7 378.8,131.9 394.3,143.0 405.9,145.9" fill="#b1ff77" stroke="#b1ff77" stroke-width="0.8"/>
<polygon points="406.6,146.2 423.1,144.4 429.6,138.4 430.4,126.6 412.6,122.5 404.8,126.2 405.9,145.9 405.9,146.0" fill="#ff29c5" stroke="#ff29c5" stroke-width="0.8"/>
<polygon points="429.6,138.4 446.6,143.1 451.4,125.4 432.8,123.7 430.4,126.6" fill="#ff1616" stroke="#ff1616" stroke-width="0.8"/>
<polygon points="348.5,140.1 338.0,140.1 338.0,120.9 347.1,125.2 349.2,135.9" fill="#29ff9e" stroke="#29ff9e" stroke-width="0.8"/>
<polygon points="338.0,140.1 338.0,156.9 348.7,156.2 351.8,146.1 348.5,140.1" fill="#ff5002" stroke="#ff5002" stroke-width="0.8"/>
<polygon points="348.7,156.2 355.2,164.0 355.7,172.5 338.0,172.5 338.0,156.9" fill="#9effec" stroke="#9effec" stroke-width="0.8"/>
<polygon points="352.5,188.4 359.4,182.9 359.3,180.1 355.7,172.5 338.0,172.5 338.0,188.4" fill="#c5ffc5" stroke="#c5ffc5" stroke-width="0.8"/>
<polygon points="355.2,164.0 373.6,153.8 382.0,163.9 359.3,180.1 355.7,172.5" fill="#ff0264" stroke="#ff0264" stroke-width="0.8"/>
<polygon points="351.8,146.1 369.9,142.4 373.5,151.4 373.6,153.8 355.2,164.0 348.7,156.2" fill="#ff1650" stroke="#ff1650" stroke-width="0.8"/>
<polygon points="391.8,167.9 382.0,163.9 359.3,180.1 359.4,182.9 373.1,191.4 390.5,180.7" fill="#ff0277" stroke="#ff0277" stroke-width="0.8"/>
<polygon points="392.6,167.3 405.9,146.0 405.9,145.9 394.3,143.0 373.5,151.4 373.6,153.8 382.0,163.9 391.8,167.9" fill="#ff0200" stroke="#ff0200" stroke-width="0.8"/>
<polygon points="373.9,130.8 373.6,130.9 372.2,132.5 369.9,142.4 373.5,151.4 394.3,143.0 378.8,131.9" fill="#ff0200" stroke="#ff0200" stroke-width="0.8"/>
<polygon points="406.6,146.2 423.1,144.4 435.6,163.1 436.0,169.4 422.9,172.3" fill="#16ff3d" stroke="#16ff3d" stroke-width="0.8"/>
<polygon points="392.6,167.3 405.9,146.0 406.6,146.2 422.9,172.3 418.9,176.1" fill="#29ff29" stroke="#29ff29" stroke-width="0.8"/>
<polygon points="435.6,163.1 447.4,144.5 446.6,143.1 429.6,138.4 423.1,144.4" fill="#3dff64" stroke="#3dff64" stroke-width="0.8"/>
<polygon points="408.2,187.6 399.1,190.1 390.5,180.7 391.8,167.9 392.6,167.3 418.9,176.1 418.6,177.2" fill="#ffecc5" stroke="#ffecc5" stroke-width="0.8"/>
<polygon points="425.2,194.9 429.0,197.3 444.5,184.9 444.6,183.6 439.7,172.0 436.0,169.4 422.9,172.3 418.9,176.1 418.6,177.2" fill="#ff1602" stroke="#ff1602" stroke-width="0.8"/>
<polygon points="416.5,196.0 408.2,187.6 418.6,177.2 425.2,194.9" fill="#1629ff" stroke="#1629ff" stroke-width="0.8"/>
<polygon points="416.5,196.0 406.5,208.6 406.6,208.7 429.7,206.8 429.0,197.3 425.2,194.9" fill="#ff7716" stroke="#ff7716" stroke-width="0.8"/>
<polygon points="416.5,196.0 406.5,208.6 405.5,208.3 399.1,197.3 399.1,190.1 408.2,187.6" fill="#ff8a29" stroke="#ff8a29" stroke-width="0.8"/>
<polygon points="390.5,180.7 373.1,191.4 374.1,197.6 383.4,204.0 399.1,197.3 399.1,190.1" fill="#ff169e" stroke="#ff169e" stroke-width="0.8"/>
<polygon points="383.4,204.0 388.1,219.9 405.5,208.3 399.1,197.3" fill="#ff1677" stroke="#ff1677" stroke-width="0.8"/>
<polygon points="351.8,197.6 365.4,211.2 374.1,197.6 373.1,191.4 359.4,182.9 352.5,188.4" fill="#29ff29" stroke="#29ff29" stroke-width="0.8"/>
<polygon points="344.9,208.5 360.1,218.2 364.9,213.6 365.4,211.2 351.8,197.6" fill="#16ff29" stroke="#16ff29" stroke-width="0.8"/>
<polygon points="338.0,210.2 338.0,188.4 352.5,188.4 351.8,197.6 344.9,208.5" fill="#ff1616" stroke="#ff1616" stroke-width="0.8"/>
<polygon points="447.3,207.5 442.0,211.0 430.4,208.0 429.7,206.8 429.0,197.3 444.5,184.9 447.3,189.5" fill="#ff163d" stroke="#ff163d" stroke-width="0.8"/>
<polygon points="374.1,197.6 365.4,211.2 364.9,213.6 386.9,222.9 388.1,219.9 383.4,204.0" fill="#0216ff" stroke="#0216ff" stroke-width="0.8"/>
<polygon points="458.9,149.8 447.4,144.5 446.6,143.1 451.4,125.4 453.5,123.9 458.0,124.4 470.4,138.1 469.5,141.9" fill="#ff1616" stroke="#ff1616" stroke-width="0.8"/>
<polygon points="482.7,130.8 494.8,151.9 491.1,158.1 487.6,160.0 469.5,141.9 470.4,138.1 480.8,131.2" fill="#ff8a50" stroke="#ff8a50" stroke-width="0.8"/>
<polygon points="483.2,130.4 506.9,133.9 506.9,143.3 494.8,151.9 482.7,130.8" fill="#ffb177" stroke="#ffb177" stroke-width="0.8"/>
<polygon points="459.7,161.1 458.9,149.8 469.5,141.9 487.6,160.0 482.6,168.0 472.8,170.9" fill="#ff7729" stroke="#ff7729" stroke-width="0.8"/>
<polygon points="526.1,155.3 525.7,154.0 506.9,143.3 494.8,151.9 491.1,158.1 518.9,174.8 519.6,174.6 526.0,156.1" fill="#ff160c" stroke="#ff160c" stroke-width="0.8"/>
<polygon points="506.9,133.9 506.9,143.3 525.7,154.0 529.8,144.5 527.1,131.1 516.3,124.4 510.0,125.8" fill="#ff2916" stroke="#ff2916" stroke-width="0.8"/>
<polygon points="487.6,160.0 491.1,158.1 518.9,174.8 510.6,183.1 498.1,184.0 489.8,179.8 482.6,168.0" fill="#ff1616" stroke="#ff1616" stroke-width="0.8"/>
<polygon points="529.8,144.5 527.1,131.1 547.8,120.3 550.7,120.6 549.1,134.8" fill="#ff3d16" stroke="#ff3d16" stroke-width="0.8"/>
<polygon points="526.1,155.3 525.7,154.0 529.8,144.5 549.1,134.8 556.6,152.2" fill="#163dff" stroke="#163dff" stroke-width="0.8"/>
<polygon points="526.1,155.3 556.6,152.2 558.0,153.3 548.3,169.5 526.0,156.1" fill="#ff0c0c" stroke="#ff0c0c" stroke-width="0.8"/>
<polygon points="526.0,156.1 519.6,174.6 533.6,184.5 540.1,186.3 547.2,183.6 548.3,169.5" fill="#ffd8d8" stroke="#ffd8d8" stroke-width="0.8"/>
<polygon points="439.7,172.0 436.0,169.4 435.6,163.1 447.4,144.5 458.9,149.8 459.7,161.1" fill="#29ff77" stroke="#29ff77" stroke-width="0.8"/>
<polygon points="444.6,183.6 444.5,184.9 447.3,189.5 460.4,196.1 470.2,189.1 468.7,178.8" fill="#ff5077" stroke="#ff5077" stroke-width="0.8"/>
<polygon points="444.6,183.6 468.7,178.8 472.8,170.9 459.7,161.1 439.7,172.0" fill="#ecff29" stroke="#ecff29" stroke-width="0.8"/>
<polygon points="462.0,210.1 479.9,209.9 480.5,199.7 479.7,197.5 470.2,189.1 460.4,196.1" fill="#ff8a29" stroke="#ff8a29" stroke-width="0.8"/>
<polygon points="462.0,210.1 460.4,196.1 447.3,189.5 447.3,207.5 461.9,210.2" fill="#ff2964" stroke="#ff2964" stroke-width="0.8"/>
<polygon points="495.0,194.8 498.1,184.0 510.6,183.1 510.6,208.2 510.1,208.7 505.8,208.3" fill="#ff77ec" stroke="#ff77ec" stroke-width="0.8"/>
<polygon points="479.9,209.9 480.5,199.7 495.0,194.8 505.8,208.3 483.2,213.9" fill="#ff299e" stroke="#ff299e" stroke-width="0.8"/>
<polygon points="495.0,194.8 498.1,184.0 489.8,179.8 479.7,197.5 480.5,199.7" fill="#29ff50" stroke="#29ff50" stroke-width="0.8"/>
<polygon points="533.6,184.5 518.7,206.9 540.1,213.1 540.1,186.3" fill="#ff5016" stroke="#ff5016" stroke-width="0.8"/>
<polygon points="518.9,174.8 519.6,174.6 533.6,184.5 518.7,206.9 510.6,208.2 510.6,183.1" fill="#ff3d16" stroke="#ff3d16" stroke-width="0.8"/>
<polygon points="547.2,183.6 554.8,185.4 557.8,209.6 548.3,213.7 540.1,213.2 540.1,213.1 540.1,186.3" fill="#ff0229" stroke="#ff0229" stroke-width="0.8"/>
<polygon points="472.8,170.9 482.6,168.0 489.8,179.8 479.7,197.5 470.2,189.1 468.7,178.8" fill="#163dff" stroke="#163dff" stroke-width="0.8"/>
<polygon points="556.6,152.2 549.1,134.8 550.7,120.6 551.5,120.0 575.3,127.2 564.4,154.2 558.0,153.3" fill="#ff0216" stroke="#ff0216" stroke-width="0.8"/>
<polygon points="575.3,127.2 564.4,154.2 568.0,156.8 591.9,149.4 581.3,130.1 576.1,126.9" fill="#50c5ff" stroke="#50c5ff" stroke-width="0.8"/>
<polygon points="581.3,130.1 605.0,124.7 612.1,136.3 605.2,148.1 597.3,151.5 591.9,149.4" fill="#d8ff9e" stroke="#d8ff9e" stroke-width="0.8"/>
<polygon points="605.2,148.1 597.3,151.5 594.9,170.9 597.6,174.9 610.8,179.3 615.1,179.3 622.5,165.4" fill="#ff0000" stroke="#ff0000" stroke-width="0.8"/>
<polygon points="568.6,183.3 571.4,186.8 588.4,193.3 597.6,174.9 594.9,170.9 572.7,172.7" fill="#ff0202" stroke="#ff0202" stroke-width="0.8"/>
<polygon points="613.6,136.0 612.1,136.3 605.2,148.1 622.5,165.4 630.3,163.2 633.3,150.1" fill="#ff0202" stroke="#ff0202" stroke-width="0.8"/>
<polygon points="630.3,163.2 641.3,169.0 644.8,187.5 636.1,190.1 620.9,188.0 615.1,179.3 622.5,165.4" fill="#ff0202" stroke="#ff0202" stroke-width="0.8"/>
<polygon points="568.9,211.1 571.4,186.8 588.4,193.3 594.7,205.3 593.8,209.5 569.5,211.6" fill="#ff0202" stroke="#ff0202" stroke-width="0.8"/>
<polygon points="620.9,188.0 615.1,179.3 610.8,179.3 595.5,204.8 617.0,198.4" fill="#0202ff" stroke="#0202ff" stroke-width="0.8"/>
<polygon points="594.7,205.3 595.5,204.8 610.8,179.3 597.6,174.9 588.4,193.3" fill="#1650ff" stroke="#1650ff" stroke-width="0.8"/>
<polygon points="633.3,150.1 630.3,163.2 641.3,169.0 655.1,159.8 646.6,139.5" fill="#ff8a02" stroke="#ff8a02" stroke-width="0.8"/>
<polygon points="645.4,187.8 644.8,187.5 641.3,169.0 655.1,159.8 664.5,162.1 664.5,182.7" fill="#ff9e02" stroke="#ff9e02" stroke-width="0.8"/>
<polygon points="631.9,125.3 647.3,136.6 646.6,139.5 633.3,150.1 613.6,136.0" fill="#ff8302" stroke="#ff8302" stroke-width="0.8"/>
<polygon points="664.5,182.7 664.5,208.9 652.1,208.0 645.4,187.8" fill="#ffec50" stroke="#ffec50" stroke-width="0.8"/>
<polygon points="647.3,136.6 661.5,129.0 664.5,129.0 664.5,162.1 655.1,159.8 646.6,139.5" fill="#c5ffb1" stroke="#c5ffb1" stroke-width="0.8"/>
<polygon points="548.3,169.5 547.2,183.6 554.8,185.4 568.6,183.3 572.7,172.7 568.0,156.8 564.4,154.2 558.0,153.3" fill="#ff0229" stroke="#ff0229" stroke-width="0.8"/>
<polygon points="557.8,209.6 554.8,185.4 568.6,183.3 571.4,186.8 568.9,211.1" fill="#8a50ff" stroke="#8a50ff" stroke-width="0.8"/>
<polygon points="629.8,212.0 636.1,190.1 644.8,187.5 645.4,187.8 652.1,208.0 648.1,212.6" fill="#16ff16" stroke="#16ff16" stroke-width="0.8"/>
<polygon points="625.0,214.4 617.0,198.4 595.5,204.8 594.7,205.3 593.8,209.5 595.8,214.3 605.6,222.2 623.7,216.7" fill="#29ff29" stroke="#29ff29" stroke-width="0.8"/>
<polygon points="625.0,214.4 617.0,198.4 620.9,188.0 636.1,190.1 629.8,212.0" fill="#ff3d77" stroke="#ff3d77" stroke-width="0.8"/>
<polygon points="568.0,156.8 572.7,172.7 594.9,170.9 597.3,151.5 591.9,149.4" fill="#29ffb1" stroke="#29ffb1" stroke-width="0.8"/>
<polygon points="344.9,208.5 338.0,210.2 338.0,228.8 348.1,231.3 359.1,222.4 360.1,218.2" fill="#29ff29" stroke="#29ff29" stroke-width="0.8"/>
<polygon points="354.4,247.7 372.0,238.9 372.6,235.9 359.1,222.4 348.1,231.3" fill="#ff2977" stroke="#ff2977" stroke-width="0.8"/>
<polygon points="364.9,213.6 360.1,218.2 359.1,222.4 372.6,235.9 387.0,224.4 386.9,222.9" fill="#ff1664" stroke="#ff1664" stroke-width="0.8"/>
<polygon points="381.6,252.5 394.5,250.1 403.6,241.0 387.0,224.4 372.6,235.9 372.0,238.9" fill="#16ff29" stroke="#16ff29" stroke-width="0.8"/>
<polygon points="353.6,250.5 360.6,261.3 378.9,256.3 381.6,252.5 372.0,238.9 354.4,247.7" fill="#16ff29" stroke="#16ff29" stroke-width="0.8"/>
<polygon points="406.5,208.6 406.6,208.7 419.7,237.5 419.8,239.8 403.6,241.0 387.0,224.4 386.9,222.9 388.1,219.9 405.5,208.3" fill="#29ff29" stroke="#29ff29" stroke-width="0.8"/>
<polygon points="338.0,228.8 348.1,231.3 354.4,247.7 353.6,250.5 338.0,255.0" fill="#7750ff" stroke="#7750ff" stroke-width="0.8"/>
<polygon points="353.6,250.5 360.6,261.3 358.7,277.9 353.9,280.0 338.0,278.4 338.0,255.0" fill="#ffff64" stroke="#ffff64" stroke-width="0.8"/>
<polygon points="381.6,252.5 394.5,250.1 397.1,264.2 390.8,279.8 383.8,280.5 378.9,256.3" fill="#ff023d" stroke="#ff023d" stroke-width="0.8"/>
<polygon points="409.2,266.2 397.1,264.2 394.5,250.1 403.6,241.0 419.8,239.8 422.9,242.1" fill="#ff7729" stroke="#ff7729" stroke-width="0.8"/>
<polygon points="378.9,256.3 383.8,280.5 376.2,285.3 358.7,277.9 360.6,261.3" fill="#1664ff" stroke="#1664ff" stroke-width="0.8"/>
<polygon points="399.3,283.8 390.8,279.8 397.1,264.2 409.2,266.2 412.9,281.3" fill="#16ff29" stroke="#16ff29" stroke-width="0.8"/>
<polygon points="416.5,282.3 424.8,280.1 427.6,244.1 422.9,242.1 409.2,266.2 412.9,281.3" fill="#ff1650" stroke="#ff1650" stroke-width="0.8"/>
<polygon points="430.4,208.0 442.0,211.0 447.7,240.0 440.4,244.1 427.6,244.1 422.9,242.1 419.8,239.8 419.7,237.5" fill="#ff023d" stroke="#ff023d" stroke-width="0.8"/>
<polygon points="429.7,206.8 406.6,208.7 419.7,237.5 430.4,208.0" fill="#ff8a16" stroke="#ff8a16" stroke-width="0.8"/>
<polygon points="424.8,280.1 427.6,244.1 440.4,244.1 444.2,255.4 440.7,287.1" fill="#c5ff50" stroke="#c5ff50" stroke-width="0.8"/>
<polygon points="376.2,299.0 352.2,299.0 353.9,280.0 358.7,277.9 376.2,285.3" fill="#ff29c5" stroke="#ff29c5" stroke-width="0.8"/>
<polygon points="400.0,299.0 376.2,299.0 376.2,285.3 383.8,280.5 390.8,279.8 399.3,283.8" fill="#ff0202" stroke="#ff0202" stroke-width="0.8"/>
<polygon points="415.7,299.0 416.5,282.3 412.9,281.3 399.3,283.8 400.0,299.0" fill="#3d64ff" stroke="#3d64ff" stroke-width="0.8"/>
<polygon points="415.7,299.0 451.1,299.0 451.1,297.6 440.7,287.1 424.8,280.1 416.5,282.3" fill="#50ff50" stroke="#50ff50" stroke-width="0.8"/>
<polygon points="338.0,299.0 338.0,278.4 353.9,280.0 352.2,299.0" fill="#29c5ff" stroke="#29c5ff" stroke-width="0.8"/>
<polygon points="462.0,210.1 479.9,209.9 483.2,213.9 483.2,234.9 475.2,243.7 475.2,243.7 454.0,238.9 461.9,210.2" fill="#ff648a" stroke="#ff648a" stroke-width="0.8"/>
<polygon points="461.9,210.2 454.0,238.9 447.7,240.0 442.0,211.0 447.3,207.5" fill="#ff1650" stroke="#ff1650" stroke-width="0.8"/>
<polygon points="483.2,213.9 483.2,234.9 486.2,234.9 511.7,222.2 510.1,208.7 505.8,208.3" fill="#ffc5d8" stroke="#ffc5d8" stroke-width="0.8"/>
<polygon points="519.6,232.4 511.7,222.2 510.1,208.7 510.6,208.2 518.7,206.9 540.1,213.1 540.1,213.2 534.8,227.3" fill="#ff5016" stroke="#ff5016" stroke-width="0.8"/>
<polygon points="548.3,213.7 540.1,213.2 534.8,227.3 545.0,239.8 557.6,230.2" fill="#ff3d16" stroke="#ff3d16" stroke-width="0.8"/>
<polygon points="515.9,247.9 518.3,250.8 529.2,251.5 545.2,242.7 545.0,239.8 534.8,227.3 519.6,232.4 515.6,246.7" fill="#ff0216" stroke="#ff0216" stroke-width="0.8"/>
<polygon points="475.2,243.7 492.4,261.0 515.9,247.9 515.6,246.7 486.2,234.9 483.2,234.9" fill="#50ffb1" stroke="#50ffb1" stroke-width="0.8"/>
<polygon points="515.9,247.9 518.3,250.8 518.3,270.8 504.3,280.1 496.1,282.0 492.4,261.0" fill="#9eff50" stroke="#9eff50" stroke-width="0.8"/>
<polygon points="515.6,246.7 519.6,232.4 511.7,222.2 486.2,234.9" fill="#ff8a50" stroke="#ff8a50" stroke-width="0.8"/>
<polygon points="475.2,243.7 492.4,261.0 496.1,282.0 496.1,282.0 477.1,280.9 471.3,257.5 475.2,243.7" fill="#ff29ec" stroke="#ff29ec" stroke-width="0.8"/>
<polygon points="458.7,288.7 458.7,270.0 471.3,257.5 477.1,280.9" fill="#ff169e" stroke="#ff169e" stroke-width="0.8"/>
<polygon points="475.2,243.7 471.3,257.5 458.7,270.0 444.2,255.4 440.4,244.1 447.7,240.0 454.0,238.9" fill="#ff0202" stroke="#ff0202" stroke-width="0.8"/>
<polygon points="458.7,288.7 451.1,297.6 440.7,287.1 444.2,255.4 458.7,270.0" fill="#29ff29" stroke="#29ff29" stroke-width="0.8"/>
<polygon points="518.3,250.8 518.3,270.8 522.1,272.3 539.3,263.7 529.2,251.5" fill="#ff163d" stroke="#ff163d" stroke-width="0.8"/>
<polygon points="529.2,251.5 539.3,263.7 550.3,266.7 554.1,253.5 545.2,242.7" fill="#ff2950" stroke="#ff2950" stroke-width="0.8"/>
<polygon points="522.1,272.3 539.3,263.7 550.3,266.7 551.9,272.1 534.5,284.7" fill="#9effb1" stroke="#9effb1" stroke-width="0.8"/>
<polygon points="522.1,272.3 518.3,270.8 504.3,280.1 528.9,299.0 532.9,299.0 534.5,284.7" fill="#ff0202" stroke="#ff0202" stroke-width="0.8"/>
<polygon points="534.5,284.7 532.9,299.0 551.2,299.0 556.9,275.7 551.9,272.1" fill="#ec50c5" stroke="#ec50c5" stroke-width="0.8"/>
<polygon points="451.1,297.6 458.7,288.7 477.1,280.9 496.1,282.0 496.1,299.0 451.1,299.0" fill="#ff16c5" stroke="#ff16c5" stroke-width="0.8"/>
<polygon points="496.1,299.0 496.1,282.0 496.1,282.0 504.3,280.1 528.9,299.0" fill="#ff0202" stroke="#ff0202" stroke-width="0.8"/>
<polygon points="567.1,231.0 557.6,230.2 548.3,213.7 557.8,209.6 568.9,211.1 569.5,211.6 569.5,229.7" fill="#8a29ff" stroke="#8a29ff" stroke-width="0.8"/>
<polygon points="567.1,231.0 562.8,250.6 554.1,253.5 545.2,242.7 545.0,239.8 557.6,230.2" fill="#ff2916" stroke="#ff2916" stroke-width="0.8"/>
<polygon points="569.5,229.7 580.7,233.7 595.8,214.3 593.8,209.5 569.5,211.6" fill="#29d8ff" stroke="#29d8ff" stroke-width="0.8"/>
<polygon points="602.7,241.2 582.2,236.6 580.7,233.7 595.8,214.3 605.6,222.2 606.3,233.6" fill="#0202ff" stroke="#0202ff" stroke-width="0.8"/>
<polygon points="623.7,216.7 605.6,222.2 606.3,233.6 628.9,239.2 631.3,231.8" fill="#16ff29" stroke="#16ff29" stroke-width="0.8"/>
<polygon points="602.7,241.2 603.4,246.9 622.8,255.7 625.4,254.7 630.2,247.0 628.9,239.2 606.3,233.6" fill="#16ff29" stroke="#16ff29" stroke-width="0.8"/>
<polygon points="625.0,214.4 629.8,212.0 648.1,212.6 648.1,227.3 631.3,231.8 623.7,216.7" fill="#ff1629" stroke="#ff1629" stroke-width="0.8"/>
<polygon points="631.3,231.8 628.9,239.2 630.2,247.0 648.4,248.4 654.5,233.7 648.1,227.3" fill="#b18aff" stroke="#b18aff" stroke-width="0.8"/>
<polygon points="648.1,227.3 654.5,233.7 664.5,233.1 664.5,208.9 652.1,208.0 648.1,212.6" fill="#ffec50" stroke="#ffec50" stroke-width="0.8"/>
<polygon points="664.5,261.6 664.5,233.1 654.5,233.7 648.4,248.4 650.9,252.5" fill="#9ed8ff" stroke="#9ed8ff" stroke-width="0.8"/>
<polygon points="567.1,231.0 562.8,250.6 574.2,254.1 580.2,248.8 582.2,236.6 580.7,233.7 569.5,229.7" fill="#643dff" stroke="#643dff" stroke-width="0.8"/>
<polygon points="602.7,241.2 582.2,236.6 580.2,248.8 591.8,253.2 599.9,251.5 603.4,246.9" fill="#ff2929" stroke="#ff2929" stroke-width="0.8"/>
<polygon points="554.1,253.5 550.3,266.7 551.9,272.1 556.9,275.7 565.7,277.5 575.2,258.5 574.2,254.1 562.8,250.6" fill="#29ecff" stroke="#29ecff" stroke-width="0.8"/>
<polygon points="575.2,258.5 574.2,254.1 580.2,248.8 591.8,253.2 586.5,266.5" fill="#29d8ff" stroke="#29d8ff" stroke-width="0.8"/>
<polygon points="590.2,274.0 586.5,266.5 575.2,258.5 565.7,277.5 566.8,278.4 587.5,278.4" fill="#ff0202" stroke="#ff0202" stroke-width="0.8"/>
<polygon points="590.2,274.0 586.5,266.5 591.8,253.2 599.9,251.5 601.3,265.5 595.5,272.1" fill="#ff0202" stroke="#ff0202" stroke-width="0.8"/>
<polygon points="603.4,246.9 599.9,251.5 601.3,265.5 616.1,267.1 622.8,255.7" fill="#77ff29" stroke="#77ff29" stroke-width="0.8"/>
<polygon points="637.9,268.8 625.4,254.7 622.8,255.7 616.1,267.1 617.2,274.0 632.8,280.9 639.1,272.7" fill="#ff77b1" stroke="#ff77b1" stroke-width="0.8"/>
<polygon points="610.8,282.2 617.2,274.0 632.8,280.9 632.8,299.0 609.5,299.0" fill="#ff649e" stroke="#ff649e" stroke-width="0.8"/>
<polygon points="595.5,272.1 601.3,265.5 616.1,267.1 617.2,274.0 610.8,282.2" fill="#ec8aff" stroke="#ec8aff" stroke-width="0.8"/>
<polygon points="637.9,268.8 625.4,254.7 630.2,247.0 648.4,248.4 650.9,252.5" fill="#c5ff77" stroke="#c5ff77" stroke-width="0.8"/>
<polygon points="664.5,261.6 664.5,262.1 646.0,273.7 639.1,272.7 637.9,268.8 650.9,252.5" fill="#ecff29" stroke="#ecff29" stroke-width="0.8"/>
<polygon points="639.1,272.7 632.8,280.9 632.8,299.0 651.2,299.0 652.8,283.3 646.0,273.7" fill="#29ff3d" stroke="#29ff3d" stroke-width="0.8"/>
<polygon points="590.2,274.0 587.5,278.4 593.0,299.0 609.5,299.0 610.8,282.2 595.5,272.1" fill="#ffff16" stroke="#ffff16" stroke-width="0.8"/>
<polygon points="587.5,278.4 566.8,278.4 570.3,299.0 593.0,299.0" fill="#ff29d8" stroke="#ff29d8" stroke-width="0.8"/>
<polygon points="570.3,299.0 551.2,299.0 556.9,275.7 565.7,277.5 566.8,278.4" fill="#ff29c5" stroke="#ff29c5" stroke-width="0.8"/>
<polygon points="664.5,299.0 651.2,299.0 652.8,283.3 664.5,277.4" fill="#0229ff" stroke="#0229ff" stroke-width="0.8"/>
<polygon points="646.0,273.7 652.8,283.3 664.5,277.4 664.5,262.1" fill="#ff0216" stroke="#ff0216" stroke-width="0.8"/>
<path d="M396.5,70.9L397.3,70.1M399.1,82.7L396.5,70.9M423.1,80.2L423.5,73.9M363.8,68.8L360.4,65.2M397.3,70.1L400.6,60.8M400.6,60.8L394.5,50.6M425.2,69.9L423.5,73.9M425.2,69.9L424.8,68.9M424.8,68.9L413.4,57.6M413.4,57.6L411.4,56.9M400.6,60.8L411.4,56.9M597.6,174.9L588.4,193.3M610.8,179.3L597.6,174.9M595.5,204.8L594.7,205.3M588.4,193.3L594.7,205.3M353.9,280.0L352.2,299.0M353.9,280.0L358.7,277.9M358.7,277.9L376.2,285.3M376.2,285.3L376.2,299.0M427.6,96.6L423.2,80.3M423.1,80.2L423.2,80.3M423.7,105.2L427.6,96.6M423.7,105.2L421.1,105.7M421.1,105.7L409.7,101.0M399.1,82.7L392.3,90.3M363.8,68.8L368.2,81.2M368.2,81.2L392.3,90.3M401.7,104.9L409.7,101.0M401.7,104.9L392.3,97.6M392.3,90.3L392.3,97.6M413.4,57.6L427.0,44.0M474.4,66.2L478.4,44.0M394.5,250.1L403.6,241.0M403.6,241.0L419.8,239.8M419.8,239.8L422.9,242.1M397.1,264.2L409.2,266.2M394.5,250.1L397.1,264.2M422.9,242.1L409.2,266.2M615.1,179.3L620.9,188.0M615.1,179.3L610.8,179.3M595.5,204.8L617.0,198.4M617.0,198.4L620.9,188.0M644.8,187.5L636.1,190.1M644.8,187.5L641.3,169.0M620.9,188.0L636.1,190.1M641.3,169.0L630.3,163.2M594.9,170.9L597.3,151.5M597.3,151.5L605.2,148.1M383.8,280.5L376.2,285.3M383.8,280.5L378.9,256.3M358.7,277.9L360.6,261.3M360.6,261.3L378.9,256.3M372.6,235.9L387.0,224.4M372.6,235.9L372.0,238.9M394.5,250.1L381.6,252.5M390.8,279.8L397.1,264.2M383.8,280.5L390.8,279.8M378.9,256.3L381.6,252.5M353.9,280.0L338.0,278.4M402.2,123.7L398.8,117.4M402.2,123.7L378.8,131.9M377.1,122.5L373.9,130.8M377.1,122.5L394.7,116.6M394.7,116.6L398.8,117.4M378.8,131.9L373.9,130.8M394.3,143.0L378.8,131.9M369.9,142.4L373.5,151.4M369.9,142.4L372.2,132.5M372.2,132.5L373.6,130.9M373.6,130.9L373.9,130.8M427.6,96.6L446.9,94.3M446.9,94.3L448.5,92.9M423.7,105.2L431.9,112.3M446.9,94.3L441.4,108.3M431.9,112.3L441.4,108.3M392.3,97.6L382.1,103.3M368.2,81.2L368.2,83.8M368.2,83.8L382.1,103.3M394.7,116.6L381.2,105.9M377.1,122.5L376.0,110.5M376.0,110.5L381.2,105.9M401.7,104.9L398.8,117.4M381.2,105.9L382.1,103.3M373.6,130.9L359.3,113.1M359.3,113.1L360.0,105.7M359.8,105.5L360.0,105.7M411.4,56.9L409.8,44.0M394.5,50.6L395.0,44.0M360.4,65.2L338.0,49.5M427.6,244.1L424.8,280.1M427.6,244.1L440.4,244.1M440.4,244.1L444.2,255.4M444.2,255.4L440.7,287.1M440.7,287.1L424.8,280.1M471.3,257.5L458.7,270.0M458.7,270.0L458.7,288.7M477.1,280.9L458.7,288.7M451.1,297.6L458.7,288.7M444.2,255.4L458.7,270.0M580.2,248.8L574.2,254.1M580.2,248.8L591.8,253.2M591.8,253.2L586.5,266.5M586.5,266.5L575.2,258.5M551.9,272.1L550.3,266.7M551.9,272.1L534.5,284.7M550.3,266.7L539.3,263.7M539.3,263.7L522.1,272.3M534.5,284.7L522.1,272.3M575.2,258.5L565.7,277.5M556.9,275.7L565.7,277.5M556.9,275.7L551.9,272.1M574.2,254.1L562.8,250.6M550.3,266.7L554.1,253.5M562.8,250.6L554.1,253.5M510.1,208.7L511.7,222.2M511.7,222.2L519.6,232.4M510.6,208.2L510.1,208.7M540.1,213.2L540.1,213.1M554.1,253.5L545.2,242.7M545.2,242.7L529.2,251.5M518.3,270.8L522.1,272.3M518.3,270.8L518.3,250.8M529.2,251.5L518.3,250.8M594.9,170.9L572.7,172.7M571.4,186.8L568.6,183.3M572.7,172.7L568.6,183.3M557.6,230.2L567.1,231.0M557.6,230.2L548.3,213.7M569.5,211.6L568.9,211.1M569.5,211.6L569.5,229.7M548.3,213.7L557.8,209.6M569.5,229.7L567.1,231.0M562.8,250.6L567.1,231.0M540.1,213.2L548.3,213.7M593.8,209.5L594.7,205.3M593.8,209.5L569.5,211.6M571.4,186.8L568.9,211.1M593.8,209.5L595.8,214.3M595.8,214.3L580.7,233.7M580.7,233.7L569.5,229.7M568.6,183.3L554.8,185.4M554.8,185.4L557.8,209.6M580.7,233.7L582.2,236.6M580.2,248.8L582.2,236.6M518.3,270.8L504.3,280.1M496.1,282.0L504.3,280.1M518.3,250.8L515.9,247.9M496.1,282.0L492.4,261.0M519.6,232.4L515.6,246.7M511.7,222.2L486.2,234.9M486.2,234.9L515.6,246.7M515.6,246.7L515.9,247.9M591.9,149.4L568.0,156.8M591.9,149.4L581.3,130.1M581.3,130.1L576.1,126.9M568.0,156.8L564.4,154.2M564.4,154.2L575.3,127.2M576.1,126.9L575.3,127.2M597.3,151.5L591.9,149.4M572.7,172.7L568.0,156.8M605.2,148.1L612.1,136.3M605.0,124.7L612.1,136.3M580.8,116.1L604.3,110.9M605.0,124.7L604.3,110.9M580.8,116.1L576.1,126.9M516.3,124.4L527.1,109.9M527.1,109.9L547.8,120.3M625.4,254.7L630.2,247.0M625.4,254.7L622.8,255.7M622.8,255.7L603.4,246.9M630.2,247.0L628.9,239.2M603.4,246.9L602.7,241.2M606.3,233.6L602.7,241.2M616.1,267.1L622.8,255.7M616.1,267.1L601.3,265.5M601.3,265.5L599.9,251.5M599.9,251.5L603.4,246.9M582.2,236.6L602.7,241.2M591.8,253.2L599.9,251.5M605.6,222.2L595.8,214.3M605.6,222.2L606.3,233.6M504.3,280.1L528.9,299.0M532.9,299.0L534.5,284.7M652.1,208.0L645.4,187.8M645.4,187.8L664.5,182.7M664.5,162.1L655.1,159.8M644.8,187.5L645.4,187.8M648.1,212.6L648.1,227.3M648.1,212.6L629.8,212.0M648.1,227.3L631.3,231.8M631.3,231.8L623.7,216.7M629.8,212.0L625.0,214.4M623.7,216.7L625.0,214.4M636.1,190.1L629.8,212.0M652.1,208.0L648.1,212.6M648.4,248.4L654.5,233.7M654.5,233.7L648.1,227.3M628.9,239.2L631.3,231.8M630.2,247.0L648.4,248.4M617.0,198.4L625.0,214.4M645.1,84.8L664.5,93.8M649.7,109.3L641.8,108.1M649.7,109.3L664.5,94.4M645.1,84.8L636.2,75.1M636.2,75.1L664.5,69.5M646.6,139.5L647.3,136.6M647.3,136.6L631.9,125.3M633.3,150.1L613.6,136.0M613.6,136.0L631.9,125.3M655.1,159.8L646.6,139.5M630.3,163.2L633.3,150.1M631.9,119.0L636.2,110.0M631.9,119.0L631.9,125.3M641.8,108.1L636.2,110.0M612.1,136.3L613.6,136.0M604.3,110.9L605.6,107.7M458.5,94.2L457.2,93.4M458.5,94.2L473.6,81.7M457.2,93.4L459.8,67.7M473.6,81.7L470.6,68.4M470.6,68.4L459.8,67.7M474.4,66.2L470.6,68.4M482.3,86.0L489.9,82.6M482.3,86.0L473.6,81.7M457.4,65.1L447.3,63.3M457.4,65.1L459.7,67.7M447.3,63.3L440.1,64.5M440.1,64.5L437.8,66.5M461.3,44.0L457.4,65.1M459.8,67.7L459.7,67.7M448.5,92.9L457.2,93.4M434.9,44.0L440.1,64.5M425.2,69.9L437.8,66.5M432.8,123.7L431.9,112.3M453.5,123.9L451.8,116.8M458.5,94.2L460.4,96.7M451.8,116.8L460.4,96.7M382.0,163.9L373.6,153.8M359.3,180.1L355.7,172.5M355.7,172.5L355.2,164.0M349.2,135.9L347.1,125.2M359.1,222.4L360.1,218.2M360.1,218.2L364.9,213.6M387.0,224.4L386.9,222.9M386.9,222.9L364.9,213.6M394.3,143.0L405.9,145.9M402.2,123.7L404.8,126.2M405.9,145.9L404.8,126.2M432.8,123.7L430.4,126.6M446.6,143.1L429.6,138.4M430.4,126.6L429.6,138.4M419.7,237.5L430.4,208.0M419.7,237.5L406.6,208.7M430.4,208.0L429.7,206.8M427.6,244.1L422.9,242.1M419.8,239.8L419.7,237.5M447.7,240.0L440.4,244.1M406.6,208.7L406.5,208.6M386.9,222.9L388.1,219.9M388.1,219.9L405.5,208.3M405.5,208.3L406.5,208.6M409.2,266.2L412.9,281.3M424.8,280.1L416.5,282.3M412.9,281.3L416.5,282.3M390.8,279.8L399.3,283.8M412.9,281.3L399.3,283.8M540.1,213.1L540.1,186.3M540.1,186.3L533.6,184.5M540.1,186.3L547.2,183.6M510.6,208.2L510.6,183.1M533.6,184.5L519.6,174.6M519.6,174.6L518.9,174.8M510.6,183.1L518.9,174.8M566.8,278.4L565.7,277.5M566.8,278.4L570.3,299.0M566.8,278.4L587.5,278.4M587.5,278.4L593.0,299.0M587.5,278.4L590.2,274.0M601.3,265.5L595.5,272.1M617.2,274.0L610.8,282.2M616.1,267.1L617.2,274.0M610.8,282.2L595.5,272.1M595.5,272.1L590.2,274.0M652.8,283.3L651.2,299.0M652.8,283.3L664.5,277.4M648.4,248.4L650.9,252.5M625.4,254.7L637.9,268.8M632.8,280.9L639.1,272.7M639.1,272.7L637.9,268.8M652.8,283.3L646.0,273.7M646.0,273.7L664.5,262.1M635.2,74.7L632.4,70.8M632.4,70.8L613.2,74.6M613.2,74.6L604.6,100.5M604.6,100.5L605.8,102.5M636.2,75.1L635.2,74.7M605.6,107.7L605.8,102.5M576.9,87.8L584.0,87.8M576.9,87.8L571.7,98.1M578.8,108.3L599.5,97.9M584.0,87.8L590.3,90.2M599.5,97.9L590.3,90.2M604.6,100.5L599.5,97.9M580.8,116.1L578.8,108.3M605.1,70.5L597.8,63.8M597.8,63.8L596.1,63.6M613.2,74.6L605.1,70.5M593.6,62.2L596.1,63.6M593.6,62.2L578.7,64.3M576.9,87.8L572.1,80.1M572.1,80.1L578.7,64.3M593.6,62.2L588.6,44.0M570.8,44.0L570.8,55.7M570.8,55.7L578.7,64.3M372.0,238.9L354.4,247.7M359.1,222.4L348.1,231.3M348.1,231.3L354.4,247.7M360.6,261.3L353.6,250.5M354.4,247.7L353.6,250.5M348.7,156.2L338.0,156.9M348.7,156.2L351.8,146.1M351.8,146.1L348.5,140.1M348.5,140.1L338.0,140.1M355.2,164.0L348.7,156.2M373.5,151.4L373.6,153.8M369.9,142.4L351.8,146.1M349.2,135.9L348.5,140.1M347.1,125.2L338.0,120.9M351.3,104.3L338.0,83.1M351.3,104.3L338.0,113.2M359.8,105.5L351.3,104.3M446.6,143.1L447.4,144.5M429.6,138.4L423.1,144.4M405.5,208.3L399.1,197.3M388.1,219.9L383.4,204.0M365.4,211.2L364.9,213.6M365.4,211.2L374.1,197.6M383.4,204.0L374.1,197.6M416.5,282.3L415.7,299.0M399.3,283.8L400.0,299.0M547.8,120.3L550.7,120.6M549.1,134.8L529.8,144.5M492.4,261.0L475.2,243.7M486.2,234.9L483.2,234.9M483.2,234.9L475.2,243.7M447.7,240.0L454.0,238.9M471.3,257.5L475.2,243.7M454.0,238.9L475.2,243.7M496.1,282.0L477.1,280.9M496.1,282.0L496.1,282.0M475.2,243.7L475.2,243.7M480.5,199.7L479.9,209.9M505.8,208.3L483.2,213.9M483.2,213.9L479.9,209.9M489.8,179.8L498.1,184.0M479.7,197.5L480.5,199.7M479.7,197.5L489.8,179.8M510.1,208.7L505.8,208.3M483.2,234.9L483.2,213.9M498.1,184.0L510.6,183.1M491.1,158.1L487.6,160.0M489.8,179.8L482.6,168.0M482.6,168.0L487.6,160.0M458.0,124.4L453.5,123.9M470.4,138.1L469.5,141.9M447.4,144.5L458.9,149.8M469.5,141.9L458.9,149.8M527.1,109.9L524.3,100.1M516.3,124.4L510.0,125.8M503.0,117.1L510.0,125.8M506.9,143.3L506.9,133.9M529.8,144.5L525.7,154.0M510.0,125.8L506.9,133.9M632.8,280.9L632.8,299.0M610.8,282.2L609.5,299.0M646.0,273.7L639.1,272.7M496.1,282.0L496.1,299.0M451.1,297.6L451.1,299.0M654.5,233.7L664.5,233.1M650.9,252.5L664.5,261.6M608.7,49.7L608.3,44.0M608.7,49.7L633.4,62.1M633.4,62.1L638.6,50.7M638.6,50.7L639.1,44.0M597.8,63.8L608.7,49.7M632.4,70.8L633.4,62.1M664.5,59.4L638.6,50.7M512.1,59.6L510.4,44.0M512.1,59.6L535.7,61.6M508.7,65.5L512.1,59.6M506.1,93.0L499.2,113.9M506.1,93.0L512.1,90.8M524.3,100.1L523.8,95.7M499.2,113.9L503.0,117.1M512.1,90.8L523.8,95.7M498.9,90.6L506.1,93.0M489.9,82.6L498.9,90.6M508.7,65.5L512.1,74.2M512.1,90.8L512.1,74.2M353.6,250.5L338.0,255.0M359.4,182.9L359.3,180.1M359.4,182.9L352.5,188.4M352.5,188.4L338.0,188.4M359.4,182.9L373.1,191.4M373.1,191.4L374.1,197.6M352.5,188.4L351.8,197.6M351.8,197.6L344.9,208.5M344.9,208.5L338.0,210.2M348.1,231.3L338.0,228.8M423.1,144.4L406.6,146.2M436.0,169.4L422.9,172.3M405.9,145.9L405.9,146.0M405.9,146.0L406.6,146.2M556.6,152.2L526.1,155.3M548.3,169.5L526.0,156.1M547.2,183.6L548.3,169.5M551.5,120.0L550.7,120.6M549.1,134.8L556.6,152.2M525.7,154.0L526.1,155.3M519.6,174.6L526.0,156.1M506.9,143.3L494.8,151.9M491.1,158.1L494.8,151.9M461.9,210.2L462.0,210.1M429.0,197.3L429.7,206.8M429.0,197.3L444.5,184.9M479.7,197.5L470.2,189.1M479.9,209.9L462.0,210.1M454.0,238.9L461.9,210.2M468.7,178.8L472.8,170.9M472.8,170.9L459.7,161.1M459.7,161.1L439.7,172.0M439.7,172.0L444.6,183.6M444.5,184.9L444.6,183.6M470.2,189.1L468.7,178.8M482.6,168.0L472.8,170.9M458.9,149.8L459.7,161.1M436.0,169.4L439.7,172.0M490.5,114.4L483.2,130.4M490.5,114.4L480.1,105.7M469.4,115.0L473.7,104.7M469.4,115.0L480.8,131.2M480.8,131.2L482.7,130.8M480.1,105.7L476.2,104.3M482.7,130.8L483.2,130.4M476.2,104.3L473.7,104.7M499.2,113.9L490.5,114.4M458.0,124.4L469.4,115.0M460.4,96.7L473.7,104.7M470.4,138.1L480.8,131.2M482.3,86.0L476.2,104.3M570.8,55.7L553.6,65.2M553.6,65.2L553.6,65.2M572.1,80.1L564.6,78.1M553.6,65.2L564.6,78.1M399.1,197.3L399.1,190.1M373.1,191.4L390.5,180.7M399.1,190.1L390.5,180.7M405.9,146.0L392.6,167.3M422.9,172.3L418.9,176.1M418.9,176.1L392.6,167.3M382.0,163.9L391.8,167.9M390.5,180.7L391.8,167.9M391.8,167.9L392.6,167.3M571.7,98.1L559.4,103.0M564.6,78.1L553.3,86.8M553.3,86.8L559.4,103.0M551.5,120.0L554.0,109.3M554.0,109.3L559.4,103.0M418.6,177.2L408.2,187.6M418.6,177.2L425.2,194.9M408.2,187.6L416.5,196.0M425.2,194.9L416.5,196.0M399.1,190.1L408.2,187.6M418.9,176.1L418.6,177.2M429.0,197.3L425.2,194.9M532.5,90.6L534.9,74.2M550.9,86.2L544.0,67.2M534.9,74.2L539.2,66.7M539.2,66.7L544.0,67.2M523.8,95.7L532.5,90.6M553.3,86.8L550.9,86.2M553.6,65.2L544.0,67.2M535.7,61.6L539.2,66.7" fill="none" stroke="#000" stroke-width="2.5" stroke-linecap="round"/>
</g>
<clipPath id="clipc"><rect x="1" y="308" width="328" height="254"/></clipPath>
<g clip-path="url(#clipc)">
<polygon points="64.0,321.2 70.0,308.0 1.4,308.0 21.5,321.2" fill="#6429ff" stroke="#6429ff" stroke-width="0.8"/>
<polygon points="68.1,328.2 53.7,339.7 28.9,329.4 21.5,321.2 64.0,321.2" fill="#ff8ac5" stroke="#ff8ac5" stroke-width="0.8"/>
<polygon points="28.9,329.4 44.0,367.1 44.4,367.3 61.5,357.1 63.7,352.6 53.7,339.7" fill="#ff3d50" stroke="#ff3d50" stroke-width="0.8"/>
<polygon points="78.3,341.6 73.4,331.8 68.1,328.2 53.7,339.7 63.7,352.6 77.8,345.0" fill="#ff77b1" stroke="#ff77b1" stroke-width="0.8"/>
<polygon points="78.3,341.6 73.4,331.8 87.1,315.3 95.3,327.1 94.7,331.8" fill="#9eff9e" stroke="#9eff9e" stroke-width="0.8"/>
<polygon points="68.1,328.2 73.4,331.8 87.1,315.3 86.2,308.0 70.0,308.0 64.0,321.2" fill="#ffd89e" stroke="#ffd89e" stroke-width="0.8"/>
<polygon points="97.7,351.8 84.5,351.8 77.8,345.0 78.3,341.6 94.7,331.8 101.1,338.2" fill="#9eff9e" stroke="#9eff9e" stroke-width="0.8"/>
<polygon points="106.0,322.3 95.3,327.1 87.1,315.3 86.2,308.0 98.8,308.0" fill="#ff6402" stroke="#ff6402" stroke-width="0.8"/>
<polygon points="106.0,322.3 95.3,327.1 94.7,331.8 101.1,338.2 111.2,338.2 113.0,332.5 108.9,322.3" fill="#ff7002" stroke="#ff7002" stroke-width="0.8"/>
<polygon points="106.0,322.3 98.8,308.0 110.6,308.0 112.1,319.3 108.9,322.3" fill="#0216ff" stroke="#0216ff" stroke-width="0.8"/>
<polygon points="119.3,349.3 111.2,338.2 101.1,338.2 97.7,351.8 108.7,360.6 117.8,352.5" fill="#503dff" stroke="#503dff" stroke-width="0.8"/>
<polygon points="1.0,371.5 19.2,378.7 26.6,369.4 1.0,340.1" fill="#ff0250" stroke="#ff0250" stroke-width="0.8"/>
<polygon points="28.9,329.4 44.0,367.1 26.6,369.4 1.0,340.1 1.0,308.0 1.4,308.0 21.5,321.2" fill="#ff0264" stroke="#ff0264" stroke-width="0.8"/>
<polygon points="19.2,378.7 20.7,389.6 18.8,391.5 1.0,391.5 1.0,371.5" fill="#ff0250" stroke="#ff0250" stroke-width="0.8"/>
<polygon points="44.5,367.6 44.4,367.3 61.5,357.1 80.7,379.0 80.7,382.1 72.6,383.5 46.4,370.4" fill="#ff3d16" stroke="#ff3d16" stroke-width="0.8"/>
<polygon points="84.5,351.8 77.8,345.0 63.7,352.6 61.5,357.1 80.7,379.0 84.5,370.9" fill="#ff5029" stroke="#ff5029" stroke-width="0.8"/>
<polygon points="51.5,398.7 72.6,383.5 46.4,370.4" fill="#ff2916" stroke="#ff2916" stroke-width="0.8"/>
<polygon points="108.7,360.6 110.6,368.5 107.8,374.1 84.1,385.9 80.7,382.1 80.7,379.0 84.5,370.9" fill="#ecffc5" stroke="#ecffc5" stroke-width="0.8"/>
<polygon points="97.7,351.8 84.5,351.8 84.5,370.9 108.7,360.6 108.7,360.6" fill="#ffc5d8" stroke="#ffc5d8" stroke-width="0.8"/>
<polygon points="107.8,374.1 112.4,391.6 87.2,393.8 84.1,385.9" fill="#c5ff8a" stroke="#c5ff8a" stroke-width="0.8"/>
<polygon points="44.5,367.6 44.4,367.3 44.0,367.1 26.6,369.4 19.2,378.7 20.7,389.6 31.1,391.1" fill="#ff6450" stroke="#ff6450" stroke-width="0.8"/>
<polygon points="51.5,398.7 46.4,370.4 44.5,367.6 31.1,391.1 41.5,400.8 50.3,401.7" fill="#1677ff" stroke="#1677ff" stroke-width="0.8"/>
<polygon points="112.1,319.3 132.8,319.3 135.4,315.3 136.9,308.0 110.6,308.0" fill="#ff0264" stroke="#ff0264" stroke-width="0.8"/>
<polygon points="119.3,349.3 132.9,343.0 134.2,340.0 131.7,326.2 113.0,332.5 111.2,338.2" fill="#ff6402" stroke="#ff6402" stroke-width="0.8"/>
<polygon points="108.9,322.3 113.0,332.5 131.7,326.2 132.8,319.3 112.1,319.3" fill="#ff6402" stroke="#ff6402" stroke-width="0.8"/>
<polygon points="135.4,315.3 158.8,332.0 168.4,325.2 168.4,308.0 136.9,308.0" fill="#29d8ff" stroke="#29d8ff" stroke-width="0.8"/>
<polygon points="203.6,315.7 195.6,330.2 184.4,336.7 168.4,325.2 168.4,308.0 203.5,308.0 203.9,314.3" fill="#1677ff" stroke="#1677ff" stroke-width="0.8"/>
<polygon points="156.4,367.3 153.8,360.5 159.3,349.5 182.5,349.5 183.7,352.3 172.1,372.2" fill="#1629ff" stroke="#1629ff" stroke-width="0.8"/>
<polygon points="132.8,319.3 131.7,326.2 134.2,340.0 156.0,338.1 158.8,332.0 135.4,315.3" fill="#50b1ff" stroke="#50b1ff" stroke-width="0.8"/>
<polygon points="184.4,336.7 168.4,325.2 158.8,332.0 156.0,338.1 159.3,349.5 182.5,349.5" fill="#163dff" stroke="#163dff" stroke-width="0.8"/>
<polygon points="132.9,343.0 141.9,357.1 153.8,360.5 159.3,349.5 156.0,338.1 134.2,340.0" fill="#ffc59e" stroke="#ffc59e" stroke-width="0.8"/>
<polygon points="184.4,336.7 182.5,349.5 183.7,352.3 193.6,357.6 211.7,348.6 195.6,330.2" fill="#ff77d8" stroke="#ff77d8" stroke-width="0.8"/>
<polygon points="178.0,383.3 180.8,385.6 199.9,374.7 200.0,374.4 193.6,357.6 183.7,352.3 172.1,372.2" fill="#ff5050" stroke="#ff5050" stroke-width="0.8"/>
<polygon points="211.7,348.6 216.0,349.3 224.2,364.4 223.8,365.3 200.0,374.4 193.6,357.6" fill="#ec64ff" stroke="#ec64ff" stroke-width="0.8"/>
<polygon points="203.6,315.7 195.6,330.2 211.7,348.6 216.0,349.3 221.8,339.6" fill="#ff8aec" stroke="#ff8aec" stroke-width="0.8"/>
<polygon points="117.8,352.5 132.1,366.8 130.2,378.3 110.6,368.5 108.7,360.6 108.7,360.6" fill="#77ff50" stroke="#77ff50" stroke-width="0.8"/>
<polygon points="119.3,349.3 132.9,343.0 141.9,357.1 132.1,366.8 117.8,352.5" fill="#9eff64" stroke="#9eff64" stroke-width="0.8"/>
<polygon points="110.6,368.5 130.2,378.3 132.2,382.4 114.9,392.8 112.4,391.6 107.8,374.1" fill="#c5ff8a" stroke="#c5ff8a" stroke-width="0.8"/>
<polygon points="156.4,367.3 153.8,360.5 141.9,357.1 132.1,366.8 130.2,378.3 132.2,382.4 133.9,383.3 151.4,374.6" fill="#ff7716" stroke="#ff7716" stroke-width="0.8"/>
<polygon points="156.4,367.3 172.1,372.2 178.0,383.3 158.1,390.2 151.4,374.6" fill="#ff0f02" stroke="#ff0f02" stroke-width="0.8"/>
<polygon points="154.5,396.6 158.1,390.2 151.4,374.6 133.9,383.3 142.4,401.0" fill="#1664ff" stroke="#1664ff" stroke-width="0.8"/>
<polygon points="208.4,388.8 228.4,390.6 223.8,365.3 200.0,374.4 199.9,374.7" fill="#ff0229" stroke="#ff0229" stroke-width="0.8"/>
<polygon points="205.3,393.8 182.2,393.8 180.8,385.6 199.9,374.7 208.4,388.8" fill="#b1c5ff" stroke="#b1c5ff" stroke-width="0.8"/>
<polygon points="230.0,332.1 227.5,336.5 221.8,339.6 203.6,315.7 203.9,314.3 229.4,325.2" fill="#2950ff" stroke="#2950ff" stroke-width="0.8"/>
<polygon points="229.4,325.2 203.9,314.3 203.5,308.0 239.4,308.0 239.4,310.3" fill="#b1c5ff" stroke="#b1c5ff" stroke-width="0.8"/>
<polygon points="230.0,332.1 227.5,336.5 247.8,353.5 263.8,340.2 263.6,340.1 252.5,332.1" fill="#ff77d8" stroke="#ff77d8" stroke-width="0.8"/>
<polygon points="227.5,336.5 221.8,339.6 216.0,349.3 224.2,364.4 244.5,359.0 247.8,353.5" fill="#ec77ff" stroke="#ec77ff" stroke-width="0.8"/>
<polygon points="230.0,332.1 252.5,332.1 239.4,310.3 229.4,325.2" fill="#ff8ac5" stroke="#ff8ac5" stroke-width="0.8"/>
<polygon points="263.6,340.1 263.8,340.2 275.9,342.1 279.3,341.1 290.0,327.7 293.3,308.0 260.4,308.0" fill="#ff0250" stroke="#ff0250" stroke-width="0.8"/>
<polygon points="252.5,332.1 263.6,340.1 260.4,308.0 239.4,308.0 239.4,310.3" fill="#ff1650" stroke="#ff1650" stroke-width="0.8"/>
<polygon points="320.0,337.6 329.0,335.4 329.0,308.0 293.3,308.0 290.0,327.7" fill="#ff1616" stroke="#ff1616" stroke-width="0.8"/>
<polygon points="308.6,360.4 295.7,357.6 279.3,341.1 290.0,327.7 320.0,337.6" fill="#ff2216" stroke="#ff2216" stroke-width="0.8"/>
<polygon points="310.4,362.3 308.6,360.4 320.0,337.6 329.0,335.4 329.0,362.3" fill="#ff5016" stroke="#ff5016" stroke-width="0.8"/>
<polygon points="249.9,370.6 272.1,370.6 277.6,387.3 275.5,388.5 249.9,388.5" fill="#ff200c" stroke="#ff200c" stroke-width="0.8"/>
<polygon points="272.1,370.6 275.9,342.1 279.3,341.1 295.7,357.6 287.9,386.5 285.5,388.2 277.6,387.3" fill="#ff2902" stroke="#ff2902" stroke-width="0.8"/>
<polygon points="232.9,396.0 234.9,396.7 242.4,395.3 249.9,388.5 249.9,370.6 244.5,359.0 224.2,364.4 223.8,365.3 228.4,390.6" fill="#ff1616" stroke="#ff1616" stroke-width="0.8"/>
<polygon points="249.9,370.6 244.5,359.0 247.8,353.5 263.8,340.2 275.9,342.1 272.1,370.6" fill="#ff0c0c" stroke="#ff0c0c" stroke-width="0.8"/>
<polygon points="324.6,387.9 315.6,391.9 297.9,385.2 310.9,369.6" fill="#c5ff50" stroke="#c5ff50" stroke-width="0.8"/>
<polygon points="310.4,362.3 308.6,360.4 295.7,357.6 287.9,386.5 297.9,385.2 310.9,369.6" fill="#29d8ff" stroke="#29d8ff" stroke-width="0.8"/>
<polygon points="329.0,388.1 329.0,362.3 310.4,362.3 310.9,369.6 324.6,387.9" fill="#9eb1ff" stroke="#9eb1ff" stroke-width="0.8"/>
<polygon points="1.0,391.5 1.0,412.3 17.6,406.8 18.8,391.5" fill="#ff0250" stroke="#ff0250" stroke-width="0.8"/>
<polygon points="28.2,429.7 26.0,412.9 17.6,406.8 1.0,412.3 1.0,418.1 26.7,431.0" fill="#ff023d" stroke="#ff023d" stroke-width="0.8"/>
<polygon points="35.2,429.3 52.3,405.4 59.6,411.3 60.9,418.6 48.1,431.4" fill="#ff5029" stroke="#ff5029" stroke-width="0.8"/>
<polygon points="35.2,429.3 52.3,405.4 50.3,401.7 41.5,400.8 26.0,412.9 28.2,429.7 33.8,429.7" fill="#1650ff" stroke="#1650ff" stroke-width="0.8"/>
<polygon points="35.2,429.3 48.1,431.4 58.7,445.6 48.2,453.7 33.8,429.7" fill="#ff023d" stroke="#ff023d" stroke-width="0.8"/>
<polygon points="46.5,456.1 48.2,453.7 33.8,429.7 28.2,429.7 26.7,431.0 26.4,431.5 26.4,448.6 33.9,456.1" fill="#0229ff" stroke="#0229ff" stroke-width="0.8"/>
<polygon points="48.1,431.4 60.9,418.6 70.1,429.9 70.9,442.7 68.9,444.5 58.7,445.6" fill="#ff6429" stroke="#ff6429" stroke-width="0.8"/>
<polygon points="41.5,400.8 26.0,412.9 17.6,406.8 18.8,391.5 20.7,389.6 31.1,391.1" fill="#ff7777" stroke="#ff7777" stroke-width="0.8"/>
<polygon points="52.3,405.4 50.3,401.7 51.5,398.7 72.6,383.5 80.7,382.1 84.1,385.9 87.2,393.8 86.8,399.5 84.4,403.7 59.6,411.3" fill="#ff2929" stroke="#ff2929" stroke-width="0.8"/>
<polygon points="70.1,429.9 60.9,418.6 59.6,411.3 84.4,403.7 86.2,417.9" fill="#77ff77" stroke="#77ff77" stroke-width="0.8"/>
<polygon points="88.3,443.6 88.3,419.9 86.2,417.9 70.1,429.9 70.9,442.7" fill="#29ff29" stroke="#29ff29" stroke-width="0.8"/>
<polygon points="88.3,419.9 109.1,426.2 109.1,411.9 86.8,399.5 84.4,403.7 86.2,417.9" fill="#ff7716" stroke="#ff7716" stroke-width="0.8"/>
<polygon points="88.3,443.6 91.3,445.0 104.2,441.4 112.9,432.9 109.1,426.2 88.3,419.9" fill="#ff503d" stroke="#ff503d" stroke-width="0.8"/>
<polygon points="86.8,399.5 109.1,411.9 116.5,403.9 114.9,392.8 112.4,391.6 87.2,393.8" fill="#ffff8a" stroke="#ffff8a" stroke-width="0.8"/>
<polygon points="26.4,448.6 26.4,431.5 1.0,441.7 1.0,455.0 8.1,457.7" fill="#ffd8ec" stroke="#ffd8ec" stroke-width="0.8"/>
<polygon points="26.7,431.0 1.0,418.1 1.0,441.7 26.4,431.5" fill="#ffffb1" stroke="#ffffb1" stroke-width="0.8"/>
<polygon points="33.9,456.1 26.4,448.6 8.1,457.7 18.1,472.7 27.5,469.0" fill="#c5ffff" stroke="#c5ffff" stroke-width="0.8"/>
<polygon points="46.5,456.1 33.9,456.1 27.5,469.0 38.1,475.9 50.7,468.7" fill="#b1ffec" stroke="#b1ffec" stroke-width="0.8"/>
<polygon points="46.5,456.1 48.2,453.7 58.7,445.6 68.9,444.5 71.1,459.8 58.4,474.3 50.7,468.7" fill="#29ff3d" stroke="#29ff3d" stroke-width="0.8"/>
<polygon points="71.1,459.8 89.4,472.0 90.5,472.1 91.3,471.5 91.3,445.0 88.3,443.6 70.9,442.7 68.9,444.5" fill="#ff29ec" stroke="#ff29ec" stroke-width="0.8"/>
<polygon points="58.4,474.3 61.8,483.4 89.4,472.0 71.1,459.8" fill="#ff3dc5" stroke="#ff3dc5" stroke-width="0.8"/>
<polygon points="112.8,470.4 91.3,471.5 91.3,445.0 104.2,441.4 113.2,470.1" fill="#ecff29" stroke="#ecff29" stroke-width="0.8"/>
<polygon points="16.3,479.3 1.0,482.9 1.0,455.0 8.1,457.7 18.1,472.7" fill="#ff5002" stroke="#ff5002" stroke-width="0.8"/>
<polygon points="140.2,417.1 119.4,433.7 112.9,432.9 109.1,426.2 109.1,411.9 116.5,403.9 139.2,412.2" fill="#ff8329" stroke="#ff8329" stroke-width="0.8"/>
<polygon points="139.2,412.2 116.5,403.9 114.9,392.8 132.2,382.4 133.9,383.3 142.4,401.0" fill="#9eff77" stroke="#9eff77" stroke-width="0.8"/>
<polygon points="154.5,396.6 158.1,390.2 178.0,383.3 180.8,385.6 182.2,393.8 181.5,400.8 167.8,405.0" fill="#0f3dff" stroke="#0f3dff" stroke-width="0.8"/>
<polygon points="184.9,406.3 181.5,400.8 167.8,405.0 155.6,427.1 155.8,427.5 171.7,427.5" fill="#ff5077" stroke="#ff5077" stroke-width="0.8"/>
<polygon points="140.2,417.1 155.6,427.1 167.8,405.0 154.5,396.6 142.4,401.0 139.2,412.2" fill="#ff649e" stroke="#ff649e" stroke-width="0.8"/>
<polygon points="191.9,440.9 171.7,427.5 184.9,406.3 193.2,411.5 193.2,438.3" fill="#ff3d50" stroke="#ff3d50" stroke-width="0.8"/>
<polygon points="193.2,411.5 205.3,409.3 205.3,393.8 182.2,393.8 181.5,400.8 184.9,406.3" fill="#9ec5ff" stroke="#9ec5ff" stroke-width="0.8"/>
<polygon points="208.3,410.4 205.3,409.3 205.3,393.8 208.4,388.8 228.4,390.6 232.9,396.0 212.3,410.1" fill="#ff0229" stroke="#ff0229" stroke-width="0.8"/>
<polygon points="193.2,438.3 208.3,429.3 208.3,410.4 205.3,409.3 193.2,411.5" fill="#50ff29" stroke="#50ff29" stroke-width="0.8"/>
<polygon points="208.3,410.4 208.3,429.3 220.4,430.5 223.1,424.3 212.3,410.1" fill="#ffc564" stroke="#ffc564" stroke-width="0.8"/>
<polygon points="191.9,440.9 191.9,441.6 217.1,453.4 224.3,448.1 225.0,442.0 220.4,430.5 208.3,429.3 193.2,438.3" fill="#ffb150" stroke="#ffb150" stroke-width="0.8"/>
<polygon points="147.4,466.4 140.0,450.4 155.5,431.1 165.8,451.7" fill="#d8ff02" stroke="#d8ff02" stroke-width="0.8"/>
<polygon points="140.2,417.1 119.4,433.7 127.9,446.4 140.0,450.4 155.5,431.1 155.8,427.5 155.6,427.1" fill="#9eff16" stroke="#9eff16" stroke-width="0.8"/>
<polygon points="182.7,455.9 191.9,441.6 191.9,440.9 171.7,427.5 155.8,427.5 155.5,431.1 165.8,451.7" fill="#ecff02" stroke="#ecff02" stroke-width="0.8"/>
<polygon points="146.8,471.3 137.7,475.7 116.5,469.4 127.9,446.4 140.0,450.4 147.4,466.4" fill="#c5ff16" stroke="#c5ff16" stroke-width="0.8"/>
<polygon points="182.7,455.9 165.8,451.7 147.4,466.4 146.8,471.3 148.4,472.5 179.2,478.8 180.2,477.0 183.2,460.4" fill="#ffff02" stroke="#ffff02" stroke-width="0.8"/>
<polygon points="127.9,446.4 119.4,433.7 112.9,432.9 104.2,441.4 113.2,470.1 116.5,469.4" fill="#ecff29" stroke="#ecff29" stroke-width="0.8"/>
<polygon points="182.7,455.9 191.9,441.6 217.1,453.4 215.5,469.6 183.2,460.4" fill="#ff163d" stroke="#ff163d" stroke-width="0.8"/>
<polygon points="183.2,460.4 215.5,469.6 216.1,472.5 214.5,477.0 180.2,477.0" fill="#ff023d" stroke="#ff023d" stroke-width="0.8"/>
<polygon points="242.4,395.3 249.9,388.5 275.5,388.5 266.5,415.4 260.5,415.4" fill="#ff2950" stroke="#ff2950" stroke-width="0.8"/>
<polygon points="277.6,387.3 285.5,388.2 291.3,401.5 277.2,423.9 266.5,415.4 275.5,388.5" fill="#ff3d50" stroke="#ff3d50" stroke-width="0.8"/>
<polygon points="223.1,424.3 234.9,418.4 244.5,428.1 225.0,442.0 220.4,430.5" fill="#ffc529" stroke="#ffc529" stroke-width="0.8"/>
<polygon points="244.5,428.1 247.1,428.8 260.5,415.4 242.4,395.3 234.9,396.7 234.9,418.4" fill="#77ff29" stroke="#77ff29" stroke-width="0.8"/>
<polygon points="260.5,415.4 266.5,415.4 277.2,423.9 280.1,429.7 280.1,431.6 269.5,445.5 255.7,447.4 247.1,428.8" fill="#ecff77" stroke="#ecff77" stroke-width="0.8"/>
<polygon points="241.3,453.7 224.3,448.1 225.0,442.0 244.5,428.1 247.1,428.8 255.7,447.4 251.4,452.6" fill="#ffd829" stroke="#ffd829" stroke-width="0.8"/>
<polygon points="212.3,410.1 232.9,396.0 234.9,396.7 234.9,418.4 223.1,424.3" fill="#ffd88a" stroke="#ffd88a" stroke-width="0.8"/>
<polygon points="306.6,411.7 291.3,401.5 285.5,388.2 287.9,386.5 297.9,385.2 315.6,391.9" fill="#50ff29" stroke="#50ff29" stroke-width="0.8"/>
<polygon points="324.6,387.9 315.6,391.9 306.6,411.7 308.1,415.7 315.8,422.0 329.0,419.6 329.0,388.1" fill="#ff9e77" stroke="#ff9e77" stroke-width="0.8"/>
<polygon points="308.1,415.7 280.1,429.7 280.1,431.6 297.9,442.5 301.1,442.5 314.8,425.4 315.8,422.0" fill="#ff0200" stroke="#ff0200" stroke-width="0.8"/>
<polygon points="306.6,411.7 291.3,401.5 277.2,423.9 280.1,429.7 308.1,415.7" fill="#ff0000" stroke="#ff0000" stroke-width="0.8"/>
<polygon points="314.8,425.4 301.1,442.5 312.6,455.3 327.7,459.7" fill="#ff0202" stroke="#ff0202" stroke-width="0.8"/>
<polygon points="291.2,455.8 297.9,442.5 301.1,442.5 312.6,455.3 301.6,462.1" fill="#509eff" stroke="#509eff" stroke-width="0.8"/>
<polygon points="291.2,455.8 297.9,442.5 280.1,431.6 269.5,445.5 277.6,458.1 283.9,459.9" fill="#ffc58a" stroke="#ffc58a" stroke-width="0.8"/>
<polygon points="327.7,459.7 329.0,460.6 329.0,463.2 309.0,478.1 297.2,474.1 301.6,462.1 312.6,455.3" fill="#299eff" stroke="#299eff" stroke-width="0.8"/>
<polygon points="292.5,475.3 283.9,459.9 291.2,455.8 301.6,462.1 297.2,474.1" fill="#ff8a8a" stroke="#ff8a8a" stroke-width="0.8"/>
<polygon points="270.6,472.2 277.6,458.1 269.5,445.5 255.7,447.4 251.4,452.6 251.5,453.1" fill="#ff8a02" stroke="#ff8a02" stroke-width="0.8"/>
<polygon points="270.6,472.2 251.5,453.1 251.5,478.2 270.1,475.0" fill="#773dff" stroke="#773dff" stroke-width="0.8"/>
<polygon points="241.3,453.7 224.3,448.1 217.1,453.4 215.5,469.6 216.1,472.5 233.2,472.5" fill="#ff6477" stroke="#ff6477" stroke-width="0.8"/>
<polygon points="251.5,453.1 251.4,452.6 241.3,453.7 233.2,472.5 247.2,482.6 248.2,482.4 251.5,478.2" fill="#ff3d9e" stroke="#ff3d9e" stroke-width="0.8"/>
<polygon points="270.6,472.2 277.6,458.1 283.9,459.9 292.5,475.3 289.2,479.8 276.0,481.7 270.1,475.0" fill="#ffec16" stroke="#ffec16" stroke-width="0.8"/>
<polygon points="315.8,422.0 314.8,425.4 327.7,459.7 329.0,460.6 329.0,419.6" fill="#29ecff" stroke="#29ecff" stroke-width="0.8"/>
<polygon points="26.8,514.2 20.6,496.6 1.0,500.5 1.0,518.2 21.9,518.2" fill="#ff6402" stroke="#ff6402" stroke-width="0.8"/>
<polygon points="20.6,496.6 22.6,490.2 16.3,479.3 1.0,482.9 1.0,500.5" fill="#ff6402" stroke="#ff6402" stroke-width="0.8"/>
<polygon points="50.7,468.7 58.4,474.3 61.8,483.4 61.7,484.3 43.0,492.1 36.9,488.0 38.1,475.9" fill="#c5ffff" stroke="#c5ffff" stroke-width="0.8"/>
<polygon points="27.5,469.0 18.1,472.7 16.3,479.3 22.6,490.2 36.9,488.0 38.1,475.9" fill="#ffff77" stroke="#ffff77" stroke-width="0.8"/>
<polygon points="26.8,514.2 39.8,514.8 42.4,514.0 43.0,513.0 43.0,492.1 36.9,488.0 22.6,490.2 20.6,496.6" fill="#ff023d" stroke="#ff023d" stroke-width="0.8"/>
<polygon points="69.7,499.6 74.0,502.3 76.6,506.6 65.3,522.8 52.1,522.8 42.4,514.0 43.0,513.0" fill="#29ff29" stroke="#29ff29" stroke-width="0.8"/>
<polygon points="76.6,506.6 88.7,513.0 76.1,544.5 65.3,522.8" fill="#29ff16" stroke="#29ff16" stroke-width="0.8"/>
<polygon points="69.7,499.6 43.0,513.0 43.0,492.1 61.7,484.3" fill="#50ff50" stroke="#50ff50" stroke-width="0.8"/>
<polygon points="89.4,472.0 90.5,472.1 90.5,483.4 74.0,502.3 69.7,499.6 61.7,484.3 61.8,483.4" fill="#50ff50" stroke="#50ff50" stroke-width="0.8"/>
<polygon points="112.8,470.4 112.8,505.9 110.8,506.6 90.5,483.4 90.5,472.1 91.3,471.5" fill="#c5ff29" stroke="#c5ff29" stroke-width="0.8"/>
<polygon points="110.8,506.6 108.5,508.4 98.1,513.0 88.7,513.0 76.6,506.6 74.0,502.3 90.5,483.4" fill="#0216ff" stroke="#0216ff" stroke-width="0.8"/>
<polygon points="21.9,518.2 21.9,543.8 1.0,546.0 1.0,518.2" fill="#29ffc5" stroke="#29ffc5" stroke-width="0.8"/>
<polygon points="26.8,514.2 39.8,514.8 35.2,551.5 21.9,543.8 21.9,518.2" fill="#d83dff" stroke="#d83dff" stroke-width="0.8"/>
<polygon points="42.4,514.0 39.8,514.8 35.2,551.5 37.7,554.2 52.1,545.4 52.1,522.8" fill="#ff1650" stroke="#ff1650" stroke-width="0.8"/>
<polygon points="65.3,522.8 76.1,544.5 76.2,545.4 52.1,545.4 52.1,522.8" fill="#ff6416" stroke="#ff6416" stroke-width="0.8"/>
<polygon points="79.2,548.6 76.2,545.4 76.1,544.5 88.7,513.0 98.1,513.0 98.1,543.7" fill="#ff1677" stroke="#ff1677" stroke-width="0.8"/>
<polygon points="98.1,543.7 98.1,513.0 108.5,508.4 113.7,547.8" fill="#ffd88a" stroke="#ffd88a" stroke-width="0.8"/>
<polygon points="35.2,551.5 37.7,554.2 37.7,562.0 1.0,562.0 1.0,546.0 21.9,543.8" fill="#c564ff" stroke="#c564ff" stroke-width="0.8"/>
<polygon points="79.2,548.6 76.2,545.4 52.1,545.4 37.7,554.2 37.7,562.0 79.2,562.0" fill="#ff1616" stroke="#ff1616" stroke-width="0.8"/>
<polygon points="79.2,562.0 114.4,562.0 114.4,548.2 113.7,547.8 98.1,543.7 79.2,548.6" fill="#8ac5ff" stroke="#8ac5ff" stroke-width="0.8"/>
<polygon points="116.5,469.4 113.2,470.1 112.8,470.4 112.8,505.9 124.8,507.6 129.7,505.8 137.7,475.7" fill="#9eff16" stroke="#9eff16" stroke-width="0.8"/>
<polygon points="146.8,471.3 137.7,475.7 129.7,505.8 135.6,507.0 155.1,500.5 156.0,498.0 148.4,472.5" fill="#ffff29" stroke="#ffff29" stroke-width="0.8"/>
<polygon points="179.2,478.8 179.5,483.3 156.0,498.0 148.4,472.5" fill="#77ff02" stroke="#77ff02" stroke-width="0.8"/>
<polygon points="155.1,500.5 135.6,507.0 160.8,538.6 160.8,506.2" fill="#ffff50" stroke="#ffff50" stroke-width="0.8"/>
<polygon points="181.0,508.9 169.1,537.5 164.1,543.7 163.0,544.2 160.8,538.6 160.8,506.2 179.7,506.2" fill="#ff8a16" stroke="#ff8a16" stroke-width="0.8"/>
<polygon points="160.6,548.3 129.6,541.3 124.8,507.6 129.7,505.8 135.6,507.0 160.8,538.6 163.0,544.2" fill="#ffec50" stroke="#ffec50" stroke-width="0.8"/>
<polygon points="113.7,547.8 108.5,508.4 110.8,506.6 112.8,505.9 124.8,507.6 129.6,541.3 114.4,548.2" fill="#ffc550" stroke="#ffc550" stroke-width="0.8"/>
<polygon points="179.7,506.2 160.8,506.2 155.1,500.5 156.0,498.0 179.5,483.3 181.9,488.1" fill="#ff9716" stroke="#ff9716" stroke-width="0.8"/>
<polygon points="179.2,478.8 179.5,483.3 181.9,488.1 204.8,495.7 214.1,489.5 215.0,487.7 214.5,477.0 180.2,477.0" fill="#ff3d29" stroke="#ff3d29" stroke-width="0.8"/>
<polygon points="183.9,509.7 204.0,499.7 204.8,495.7 181.9,488.1 179.7,506.2 181.0,508.9" fill="#c53dff" stroke="#c53dff" stroke-width="0.8"/>
<polygon points="197.4,518.7 183.9,509.7 204.0,499.7 205.2,514.2" fill="#29ffec" stroke="#29ffec" stroke-width="0.8"/>
<polygon points="223.5,507.4 218.3,519.2 205.2,514.2 204.0,499.7 204.8,495.7 214.1,489.5" fill="#c529ff" stroke="#c529ff" stroke-width="0.8"/>
<polygon points="204.0,538.0 197.5,545.8 164.1,543.7 169.1,537.5 196.2,524.0" fill="#ff023d" stroke="#ff023d" stroke-width="0.8"/>
<polygon points="197.4,518.7 183.9,509.7 181.0,508.9 169.1,537.5 196.2,524.0" fill="#ff023d" stroke="#ff023d" stroke-width="0.8"/>
<polygon points="216.3,543.7 220.6,562.0 205.0,562.0 197.5,545.8 204.0,538.0 205.7,537.6" fill="#29ff29" stroke="#29ff29" stroke-width="0.8"/>
<polygon points="218.3,519.2 205.2,514.2 197.4,518.7 196.2,524.0 204.0,538.0 205.7,537.6 219.8,522.4" fill="#29ff29" stroke="#29ff29" stroke-width="0.8"/>
<polygon points="160.6,548.3 129.6,541.3 114.4,548.2 114.4,562.0 160.9,562.0" fill="#ff0216" stroke="#ff0216" stroke-width="0.8"/>
<polygon points="197.5,545.8 164.1,543.7 163.0,544.2 160.6,548.3 160.9,562.0 205.0,562.0" fill="#ff7777" stroke="#ff7777" stroke-width="0.8"/>
<polygon points="247.2,482.6 233.2,472.5 216.1,472.5 214.5,477.0 215.0,487.7 237.1,491.7" fill="#ff5050" stroke="#ff5050" stroke-width="0.8"/>
<polygon points="244.6,512.1 234.4,531.1 219.8,522.4 218.3,519.2 223.5,507.4 237.1,504.7" fill="#c53dff" stroke="#c53dff" stroke-width="0.8"/>
<polygon points="252.5,510.7 258.3,503.2 257.1,494.4 248.2,482.4 247.2,482.6 237.1,491.7 237.1,504.7 244.6,512.1" fill="#9e64ff" stroke="#9e64ff" stroke-width="0.8"/>
<polygon points="237.1,504.7 223.5,507.4 214.1,489.5 215.0,487.7 237.1,491.7" fill="#b13dff" stroke="#b13dff" stroke-width="0.8"/>
<polygon points="270.1,475.0 276.0,481.7 274.4,487.0 257.1,494.4 248.2,482.4 251.5,478.2" fill="#ec29ec" stroke="#ec29ec" stroke-width="0.8"/>
<polygon points="258.3,503.2 280.4,506.9 274.4,487.0 257.1,494.4" fill="#ffd816" stroke="#ffd816" stroke-width="0.8"/>
<polygon points="274.8,530.6 281.5,507.7 296.3,504.0 306.8,519.8 300.5,531.6 297.5,533.6" fill="#ff003d" stroke="#ff003d" stroke-width="0.8"/>
<polygon points="289.2,479.8 276.0,481.7 274.4,487.0 280.4,506.9 281.5,507.7 296.3,504.0 297.3,502.0" fill="#ff023d" stroke="#ff023d" stroke-width="0.8"/>
<polygon points="273.3,531.6 273.3,562.0 297.5,562.0 297.5,533.6 274.8,530.6" fill="#ff023d" stroke="#ff023d" stroke-width="0.8"/>
<polygon points="238.0,536.0 259.9,521.4 272.4,531.4 244.2,539.9 239.0,537.7" fill="#ff2902" stroke="#ff2902" stroke-width="0.8"/>
<polygon points="252.5,510.7 259.9,521.4 272.4,531.4 273.3,531.6 274.8,530.6 281.5,507.7 280.4,506.9 258.3,503.2" fill="#ff8a16" stroke="#ff8a16" stroke-width="0.8"/>
<polygon points="273.3,531.6 273.3,562.0 259.7,562.0 244.2,539.9 272.4,531.4" fill="#1650ff" stroke="#1650ff" stroke-width="0.8"/>
<polygon points="252.5,510.7 259.9,521.4 238.0,536.0 234.5,531.5 234.4,531.1 244.6,512.1" fill="#163dff" stroke="#163dff" stroke-width="0.8"/>
<polygon points="329.0,497.4 310.3,493.7 297.3,502.0 296.3,504.0 306.8,519.8 329.0,519.8" fill="#ffc529" stroke="#ffc529" stroke-width="0.8"/>
<polygon points="292.5,475.3 297.2,474.1 309.0,478.1 310.3,493.7 297.3,502.0 289.2,479.8" fill="#ffb102" stroke="#ffb102" stroke-width="0.8"/>
<polygon points="329.0,497.4 310.3,493.7 309.0,478.1 329.0,463.2" fill="#ff9eb1" stroke="#ff9eb1" stroke-width="0.8"/>
<polygon points="315.8,542.5 300.5,531.6 306.8,519.8 329.0,519.8 329.0,539.2" fill="#9e9eff" stroke="#9e9eff" stroke-width="0.8"/>
<polygon points="315.8,542.5 300.5,531.6 297.5,533.6 297.5,562.0 303.6,562.0" fill="#8a77ff" stroke="#8a77ff" stroke-width="0.8"/>
<polygon points="315.8,542.5 303.6,562.0 329.0,562.0 329.0,539.2" fill="#ff6464" stroke="#ff6464" stroke-width="0.8"/>
<polygon points="238.0,536.0 234.5,531.5 216.3,543.7 220.6,562.0 227.8,562.0 239.0,537.7" fill="#29ff29" stroke="#29ff29" stroke-width="0.8"/>
<polygon points="239.0,537.7 244.2,539.9 259.7,562.0 227.8,562.0" fill="#77ff77" stroke="#77ff77" stroke-width="0.8"/>
<polygon points="234.5,531.5 234.4,531.1 219.8,522.4 205.7,537.6 216.3,543.7" fill="#ff0250" stroke="#ff0250" stroke-width="0.8"/>
<path d="M37.7,554.2L37.7,562.0M37.7,554.2L35.2,551.5M1.0,546.0L21.9,543.8M21.9,543.8L35.2,551.5M76.1,544.5L65.3,522.8M76.2,545.4L76.1,544.5M52.1,545.4L76.2,545.4M52.1,545.4L52.1,522.8M52.1,522.8L65.3,522.8M52.1,545.4L37.7,554.2M39.8,514.8L35.2,551.5M39.8,514.8L42.4,514.0M52.1,522.8L42.4,514.0M88.7,513.0L76.6,506.6M76.1,544.5L88.7,513.0M273.3,531.6L273.3,562.0M244.2,539.9L259.7,562.0M306.8,519.8L300.5,531.6M300.5,531.6L297.5,533.6M296.3,504.0L306.8,519.8M281.5,507.7L274.8,530.6M98.1,513.0L108.5,508.4M108.5,508.4L110.8,506.6M74.0,502.3L90.5,483.4M76.6,506.6L74.0,502.3M88.7,513.0L98.1,513.0M90.5,483.4L110.8,506.6M297.5,533.6L297.5,562.0M274.8,530.6L273.3,531.6M315.8,542.5L303.6,562.0M315.8,542.5L329.0,539.2M114.4,548.2L114.4,562.0M114.4,548.2L113.7,547.8M113.7,547.8L98.1,543.7M98.1,543.7L79.2,548.6M79.2,548.6L79.2,562.0M129.6,541.3L114.4,548.2M98.1,513.0L98.1,543.7M76.2,545.4L79.2,548.6M87.2,393.8L86.8,399.5M43.0,492.1L43.0,513.0M43.0,492.1L61.7,484.3M42.4,514.0L43.0,513.0M301.1,442.5L312.6,455.3M297.9,442.5L301.1,442.5M280.1,431.6L269.5,445.5M280.1,431.6L297.9,442.5M269.5,445.5L277.6,458.1M277.6,458.1L283.9,459.9M309.0,478.1L297.2,474.1M309.0,478.1L310.3,493.7M297.3,502.0L289.2,479.8M297.2,474.1L292.5,475.3M276.0,481.7L274.4,487.0M276.0,481.7L289.2,479.8M274.4,487.0L280.4,506.9M281.5,507.7L280.4,506.9M296.3,504.0L297.3,502.0M283.9,459.9L292.5,475.3M312.6,455.3L327.7,459.7M327.7,459.7L314.8,425.4M327.7,459.7L329.0,460.6M309.0,478.1L329.0,463.2M90.5,483.4L90.5,472.1M90.5,472.1L89.4,472.0M61.7,484.3L61.8,483.4M61.8,483.4L89.4,472.0M91.3,471.5L91.3,445.0M104.2,441.4L91.3,445.0M90.5,472.1L91.3,471.5M87.2,393.8L84.1,385.9M132.2,382.4L130.2,378.3M183.7,352.3L182.5,349.5M182.5,349.5L184.4,336.7M195.6,330.2L184.4,336.7M200.0,374.4L223.8,365.3M223.8,365.3L224.2,364.4M129.6,541.3L160.6,548.3M163.0,544.2L160.6,548.3M160.6,548.3L160.9,562.0M287.9,386.5L285.5,388.2M291.3,401.5L285.5,388.2M291.3,401.5L306.6,411.7M297.9,385.2L315.6,391.9M297.9,385.2L287.9,386.5M315.6,391.9L306.6,411.7M314.8,425.4L315.8,422.0M315.8,422.0L329.0,419.6M280.1,431.6L280.1,429.7M315.8,422.0L308.1,415.7M280.1,429.7L277.2,423.9M277.2,423.9L291.3,401.5M308.1,415.7L306.6,411.7M195.6,330.2L203.6,315.7M221.8,339.6L203.6,315.7M244.5,359.0L224.2,364.4M221.8,339.6L227.5,336.5M244.5,359.0L247.8,353.5M295.7,357.6L279.3,341.1M290.0,327.7L279.3,341.1M295.7,357.6L308.6,360.4M26.6,369.4L19.2,378.7M46.4,370.4L44.5,367.6M46.4,370.4L51.5,398.7M50.3,401.7L51.5,398.7M44.4,367.3L44.5,367.6M44.0,367.1L44.4,367.3M20.7,389.6L19.2,378.7M44.0,367.1L26.6,369.4M18.8,391.5L17.6,406.8M18.8,391.5L20.7,389.6M17.6,406.8L26.0,412.9M80.7,382.1L80.7,379.0M61.5,357.1L44.4,367.3M84.4,403.7L86.8,399.5M84.4,403.7L59.6,411.3M84.1,385.9L80.7,382.1M50.3,401.7L52.3,405.4M59.6,411.3L52.3,405.4M86.2,417.9L88.3,419.9M88.3,419.9L88.3,443.6M70.1,429.9L70.9,442.7M70.9,442.7L88.3,443.6M84.4,403.7L86.2,417.9M60.9,418.6L59.6,411.3M60.9,418.6L70.1,429.9M91.3,445.0L88.3,443.6M112.9,432.9L104.2,441.4M290.0,327.7L293.3,308.0M266.5,415.4L277.2,423.9M295.7,357.6L287.9,386.5M275.9,342.1L279.3,341.1M275.9,342.1L263.8,340.2M247.8,353.5L263.8,340.2M269.5,445.5L255.7,447.4M266.5,415.4L260.5,415.4M260.5,415.4L242.4,395.3M242.4,395.3L234.9,396.7M234.9,396.7L232.9,396.0M199.9,374.7L208.4,388.8M199.9,374.7L180.8,385.6M180.8,385.6L182.2,393.8M208.4,388.8L205.3,393.8M200.0,374.4L199.9,374.7M181.9,488.1L179.7,506.2M181.9,488.1L204.8,495.7M179.7,506.2L181.0,508.9M181.0,508.9L183.9,509.7M179.5,483.3L181.9,488.1M163.0,544.2L164.1,543.7M169.1,537.5L164.1,543.7M169.1,537.5L181.0,508.9M205.2,514.2L218.3,519.2M205.2,514.2L197.4,518.7M196.2,524.0L204.0,538.0M196.2,524.0L197.4,518.7M205.7,537.6L219.8,522.4M219.8,522.4L218.3,519.2M183.9,509.7L197.4,518.7M164.1,543.7L197.5,545.8M197.5,545.8L204.0,538.0M204.8,495.7L214.1,489.5M119.4,433.7L112.9,432.9M306.8,519.8L329.0,519.8M310.3,493.7L329.0,497.4M70.9,442.7L68.9,444.5M68.9,444.5L71.1,459.8M61.8,483.4L58.4,474.3M71.1,459.8L58.4,474.3M172.1,372.2L156.4,367.3M172.1,372.2L178.0,383.3M151.4,374.6L156.4,367.3M153.8,360.5L156.4,367.3M183.7,352.3L172.1,372.2M180.8,385.6L178.0,383.3M132.1,366.8L141.9,357.1M153.8,360.5L141.9,357.1M132.2,382.4L133.9,383.3M130.2,378.3L132.1,366.8M133.9,383.3L151.4,374.6M167.8,405.0L154.5,396.6M155.6,427.1L140.2,417.1M142.4,401.0L154.5,396.6M142.4,401.0L139.2,412.2M139.2,412.2L140.2,417.1M181.5,400.8L182.2,393.8M181.5,400.8L167.8,405.0M155.8,427.5L155.6,427.1M119.4,433.7L140.2,417.1M133.9,383.3L142.4,401.0M17.6,406.8L1.0,412.3M26.0,412.9L28.2,429.7M26.7,431.0L1.0,418.1M26.7,431.0L28.2,429.7M197.5,545.8L205.0,562.0M216.3,543.7L234.5,531.5M234.5,531.5L238.0,536.0M239.0,537.7L238.0,536.0M244.2,539.9L239.0,537.7M205.7,537.6L216.3,543.7M234.4,531.1L219.8,522.4M234.4,531.1L234.5,531.5M310.4,362.3L329.0,362.3M324.6,387.9L329.0,388.1M308.6,360.4L310.4,362.3M315.6,391.9L324.6,387.9M263.8,340.2L263.6,340.1M208.3,429.3L208.3,410.4M212.3,410.1L208.3,410.4M232.9,396.0L212.3,410.1M205.3,393.8L205.3,409.3M205.3,409.3L208.3,410.4M255.7,447.4L251.4,452.6M237.1,491.7L247.2,482.6M248.2,482.4L247.2,482.6M248.2,482.4L257.1,494.4M257.1,494.4L258.3,503.2M258.3,503.2L252.5,510.7M244.6,512.1L252.5,510.7M214.1,489.5L215.0,487.7M215.0,487.7L237.1,491.7M280.4,506.9L258.3,503.2M274.4,487.0L257.1,494.4M234.4,531.1L244.6,512.1M171.7,427.5L191.9,440.9M184.9,406.3L193.2,411.5M193.2,411.5L193.2,438.3M193.2,438.3L191.9,440.9M155.8,427.5L171.7,427.5M181.5,400.8L184.9,406.3M205.3,409.3L193.2,411.5M208.3,429.3L193.2,438.3M191.9,441.6L191.9,440.9M180.2,477.0L179.2,478.8M180.2,477.0L183.2,460.4M183.2,460.4L182.7,455.9M191.9,441.6L182.7,455.9M179.5,483.3L179.2,478.8M48.2,453.7L58.7,445.6M68.9,444.5L58.7,445.6M21.5,321.2L64.0,321.2M21.5,321.2L28.9,329.4M64.0,321.2L68.1,328.2M61.5,357.1L63.7,352.6M44.0,367.1L28.9,329.4M1.4,308.0L21.5,321.2M70.0,308.0L64.0,321.2M87.1,315.3L86.2,308.0M73.4,331.8L68.1,328.2M73.4,331.8L78.3,341.6M87.1,315.3L95.3,327.1M95.3,327.1L94.7,331.8M63.7,352.6L77.8,345.0M77.8,345.0L78.3,341.6M141.9,357.1L132.9,343.0M134.2,340.0L132.9,343.0M131.7,326.2L134.2,340.0M131.7,326.2L132.8,319.3M135.4,315.3L132.8,319.3M135.4,315.3L136.9,308.0M33.9,456.1L46.5,456.1M50.7,468.7L46.5,456.1M18.1,472.7L16.3,479.3M36.9,488.0L22.6,490.2M16.3,479.3L22.6,490.2M36.9,488.0L43.0,492.1M58.4,474.3L50.7,468.7M26.4,448.6L33.9,456.1M18.1,472.7L8.1,457.7M48.2,453.7L46.5,456.1M26.4,431.5L26.4,448.6M26.4,431.5L26.7,431.0M21.9,518.2L1.0,518.2M20.6,496.6L26.8,514.2M21.9,518.2L26.8,514.2M21.9,543.8L21.9,518.2M22.6,490.2L20.6,496.6M39.8,514.8L26.8,514.2M8.1,457.7L1.0,455.0M239.4,310.3L252.5,332.1M239.4,310.3L229.4,325.2M229.4,325.2L230.0,332.1M239.4,308.0L239.4,310.3M263.6,340.1L252.5,332.1M227.5,336.5L230.0,332.1M251.5,478.2L251.5,453.1M251.5,478.2L270.1,475.0M270.1,475.0L270.6,472.2M251.4,452.6L251.5,453.1M276.0,481.7L270.1,475.0M277.6,458.1L270.6,472.2M80.7,379.0L84.5,370.9M77.8,345.0L84.5,351.8M84.5,370.9L84.5,351.8M101.1,338.2L97.7,351.8M101.1,338.2L111.2,338.2M111.2,338.2L119.3,349.3M108.7,360.6L97.7,351.8M108.7,360.6L117.8,352.5M117.8,352.5L119.3,349.3M94.7,331.8L101.1,338.2M84.5,351.8L97.7,351.8M132.9,343.0L119.3,349.3M106.0,322.3L98.8,308.0M112.1,319.3L110.6,308.0M112.1,319.3L108.9,322.3M108.9,322.3L106.0,322.3M132.8,319.3L112.1,319.3" fill="none" stroke="#000" stroke-width="2.5" stroke-linecap="round"/>
</g>
<clipPath id="clipd"><rect x="338" y="308" width="326.5" height="254"/></clipPath>
<g clip-path="url(#clipd)">
<polygon points="404.2,308.0 398.1,308.0 386.0,332.1 395.5,336.9 407.5,318.8" fill="#ff6402" stroke="#ff6402" stroke-width="0.8"/>
<polygon points="354.4,332.1 386.0,332.1 398.1,308.0 338.0,308.0 338.0,317.3" fill="#29ff29" stroke="#29ff29" stroke-width="0.8"/>
<polygon points="416.0,308.0 404.2,308.0 407.5,318.8 417.2,327.3 424.5,324.9" fill="#c5ff29" stroke="#c5ff29" stroke-width="0.8"/>
<polygon points="416.0,308.0 424.5,324.9 432.1,324.3 432.5,323.6 430.6,308.0" fill="#ffff16" stroke="#ffff16" stroke-width="0.8"/>
<polygon points="432.5,323.6 456.8,317.0 457.2,308.0 430.6,308.0" fill="#ffff16" stroke="#ffff16" stroke-width="0.8"/>
<polygon points="459.4,322.0 456.8,317.0 457.2,308.0 481.8,308.0 482.9,320.6 482.8,320.7 460.9,322.9" fill="#16ff50" stroke="#16ff50" stroke-width="0.8"/>
<polygon points="441.2,340.0 446.0,342.1 459.4,322.0 456.8,317.0 432.5,323.6 432.1,324.3 432.4,325.4" fill="#16ff9e" stroke="#16ff9e" stroke-width="0.8"/>
<polygon points="423.7,342.8 415.2,341.9 413.1,338.7 417.2,327.3 424.5,324.9 432.1,324.3 432.4,325.4" fill="#ff8ac5" stroke="#ff8ac5" stroke-width="0.8"/>
<polygon points="429.0,346.1 441.2,340.0 432.4,325.4 423.7,342.8" fill="#ff9eec" stroke="#ff9eec" stroke-width="0.8"/>
<polygon points="395.8,337.3 395.5,336.9 407.5,318.8 417.2,327.3 413.1,338.7" fill="#ff77c5" stroke="#ff77c5" stroke-width="0.8"/>
<polygon points="464.5,329.5 484.2,339.4 484.5,339.1 486.1,331.1 482.8,320.7 460.9,322.9" fill="#d8ff50" stroke="#d8ff50" stroke-width="0.8"/>
<polygon points="464.5,338.4 478.7,349.0 479.0,348.8 484.2,339.4 464.5,329.5" fill="#c59eff" stroke="#c59eff" stroke-width="0.8"/>
<polygon points="464.9,359.4 453.9,351.5 464.5,338.4 478.7,349.0 467.5,359.2" fill="#ff023d" stroke="#ff023d" stroke-width="0.8"/>
<polygon points="446.0,342.1 459.4,322.0 460.9,322.9 464.5,329.5 464.5,338.4 453.9,351.5 450.6,350.6" fill="#ff163d" stroke="#ff163d" stroke-width="0.8"/>
<polygon points="354.4,332.1 386.0,332.1 395.5,336.9 395.8,337.3 395.8,349.3 392.6,353.9 356.2,336.5" fill="#ff6402" stroke="#ff6402" stroke-width="0.8"/>
<polygon points="413.7,350.0 405.6,353.5 395.8,349.3 395.8,337.3 413.1,338.7 415.2,341.9" fill="#50ff29" stroke="#50ff29" stroke-width="0.8"/>
<polygon points="400.1,364.8 392.2,359.2 391.8,356.8 392.6,353.9 395.8,349.3 405.6,353.5 405.6,359.3" fill="#779eff" stroke="#779eff" stroke-width="0.8"/>
<polygon points="418.6,365.8 417.6,356.3 413.7,350.0 405.6,353.5 405.6,359.3" fill="#ff8a29" stroke="#ff8a29" stroke-width="0.8"/>
<polygon points="419.1,367.0 408.2,372.7 402.7,372.8 400.1,364.8 405.6,359.3 418.6,365.8" fill="#ff1616" stroke="#ff1616" stroke-width="0.8"/>
<polygon points="419.1,367.0 429.2,371.7 436.2,366.1 436.9,364.3 429.0,350.6 417.6,356.3 418.6,365.8" fill="#0250ff" stroke="#0250ff" stroke-width="0.8"/>
<polygon points="429.0,346.1 429.0,350.6 417.6,356.3 413.7,350.0 415.2,341.9 423.7,342.8" fill="#163dff" stroke="#163dff" stroke-width="0.8"/>
<polygon points="429.0,346.1 429.0,350.6 436.9,364.3 450.6,350.6 446.0,342.1 441.2,340.0" fill="#ff0216" stroke="#ff0216" stroke-width="0.8"/>
<polygon points="461.9,365.5 464.9,359.4 453.9,351.5 450.6,350.6 436.9,364.3 436.2,366.1 450.2,373.8" fill="#9eff50" stroke="#9eff50" stroke-width="0.8"/>
<polygon points="452.7,386.5 450.2,373.8 436.2,366.1 429.2,371.7 429.1,384.7 432.7,389.6 438.0,391.1 441.5,390.6" fill="#9eff3d" stroke="#9eff3d" stroke-width="0.8"/>
<polygon points="452.7,386.5 450.2,373.8 461.9,365.5 465.5,386.5 461.3,389.5" fill="#77ff9e" stroke="#77ff9e" stroke-width="0.8"/>
<polygon points="482.9,320.6 481.8,308.0 496.4,308.0 494.9,317.1" fill="#50ff29" stroke="#50ff29" stroke-width="0.8"/>
<polygon points="522.9,308.2 519.4,314.6 507.2,319.2 504.1,308.0 522.9,308.0" fill="#ff29ec" stroke="#ff29ec" stroke-width="0.8"/>
<polygon points="553.2,313.5 548.7,325.2 538.5,322.1 538.5,308.0 553.2,308.0" fill="#ecc5ff" stroke="#ecc5ff" stroke-width="0.8"/>
<polygon points="538.5,322.1 536.9,322.2 522.9,308.2 522.9,308.0 538.5,308.0" fill="#ffecb1" stroke="#ffecb1" stroke-width="0.8"/>
<polygon points="565.3,316.9 567.4,318.2 576.6,308.0 565.3,308.0" fill="#9e29ff" stroke="#9e29ff" stroke-width="0.8"/>
<polygon points="585.3,323.6 585.1,323.3 580.2,308.0 596.9,308.0 585.7,323.8" fill="#29ff29" stroke="#29ff29" stroke-width="0.8"/>
<polygon points="494.9,317.1 504.6,323.6 507.2,319.2 504.1,308.0 496.4,308.0" fill="#ff8a16" stroke="#ff8a16" stroke-width="0.8"/>
<polygon points="519.2,330.0 504.6,325.8 504.6,323.6 507.2,319.2 519.4,314.6 522.1,325.4" fill="#293dff" stroke="#293dff" stroke-width="0.8"/>
<polygon points="536.9,322.2 522.9,308.2 519.4,314.6 522.1,325.4 532.8,325.4" fill="#503dff" stroke="#503dff" stroke-width="0.8"/>
<polygon points="547.8,337.7 549.3,326.4 548.7,325.2 538.5,322.1 536.9,322.2 532.8,325.4 530.2,341.0 537.0,343.1" fill="#ff9e02" stroke="#ff9e02" stroke-width="0.8"/>
<polygon points="527.0,341.4 519.4,330.9 519.2,330.0 522.1,325.4 532.8,325.4 530.2,341.0" fill="#ffa816" stroke="#ffa816" stroke-width="0.8"/>
<polygon points="504.6,337.3 504.6,325.8 486.1,331.1 484.5,339.1 496.5,342.4" fill="#16ffc5" stroke="#16ffc5" stroke-width="0.8"/>
<polygon points="494.9,317.1 504.6,323.6 504.6,325.8 486.1,331.1 482.8,320.7 482.9,320.6" fill="#c5ff29" stroke="#c5ff29" stroke-width="0.8"/>
<polygon points="547.8,337.7 549.3,326.4 564.4,327.9 571.9,337.9 567.4,346.4 547.9,337.7" fill="#9eff77" stroke="#9eff77" stroke-width="0.8"/>
<polygon points="565.3,316.9 567.4,318.2 567.9,321.9 564.4,327.9 549.3,326.4 548.7,325.2 553.2,313.5" fill="#ffb1ff" stroke="#ffb1ff" stroke-width="0.8"/>
<polygon points="585.3,323.6 585.1,323.3 567.9,321.9 564.4,327.9 571.9,337.9 574.3,336.9" fill="#ffec77" stroke="#ffec77" stroke-width="0.8"/>
<polygon points="519.4,330.9 519.2,330.0 504.6,325.8 504.6,337.3 509.8,340.6" fill="#ff2929" stroke="#ff2929" stroke-width="0.8"/>
<polygon points="527.0,341.4 519.4,330.9 509.8,340.6 512.5,345.0 523.5,345.0" fill="#ffff50" stroke="#ffff50" stroke-width="0.8"/>
<polygon points="506.2,357.6 512.5,345.0 509.8,340.6 504.6,337.3 496.5,342.4 501.9,356.8" fill="#ff8a16" stroke="#ff8a16" stroke-width="0.8"/>
<polygon points="523.5,345.0 512.5,345.0 506.2,357.6 508.2,359.6 523.5,354.5" fill="#ff649e" stroke="#ff649e" stroke-width="0.8"/>
<polygon points="537.0,343.1 530.2,341.0 527.0,341.4 523.5,345.0 523.5,354.5 530.7,363.0 534.3,363.2 538.6,359.3" fill="#ff0216" stroke="#ff0216" stroke-width="0.8"/>
<polygon points="547.8,337.7 537.0,343.1 538.6,359.3 543.8,359.3 550.7,354.4 547.9,337.7" fill="#ff5029" stroke="#ff5029" stroke-width="0.8"/>
<polygon points="547.9,337.7 567.4,346.4 568.3,353.9 564.2,356.1 550.7,354.4" fill="#ff6429" stroke="#ff6429" stroke-width="0.8"/>
<polygon points="523.5,354.5 508.2,359.6 509.3,362.7 526.4,366.1 530.7,363.0" fill="#16ff3d" stroke="#16ff3d" stroke-width="0.8"/>
<polygon points="509.3,362.7 526.4,366.1 518.3,381.1 511.5,382.9 509.1,376.0" fill="#ff0229" stroke="#ff0229" stroke-width="0.8"/>
<polygon points="550.7,354.4 564.2,356.1 555.1,370.6 543.8,359.3" fill="#ff0202" stroke="#ff0202" stroke-width="0.8"/>
<polygon points="538.6,359.3 534.3,363.2 539.9,378.9 555.1,372.1 555.1,370.6 543.8,359.3" fill="#29ecff" stroke="#29ecff" stroke-width="0.8"/>
<polygon points="568.3,353.9 564.2,356.1 555.1,370.6 555.1,372.1 561.3,378.3 569.0,377.0 574.7,375.4 576.6,373.1 576.6,359.7" fill="#ff2916" stroke="#ff2916" stroke-width="0.8"/>
<polygon points="558.2,389.6 551.6,394.8 549.3,394.6 538.9,381.6 539.9,378.9 555.1,372.1 561.3,378.3" fill="#29ff3d" stroke="#29ff3d" stroke-width="0.8"/>
<polygon points="569.0,377.0 561.3,378.3 558.2,389.6 569.0,393.3" fill="#ff2916" stroke="#ff2916" stroke-width="0.8"/>
<polygon points="492.7,360.8 479.0,348.8 484.2,339.4 484.5,339.1 496.5,342.4 501.9,356.8" fill="#ffecff" stroke="#ffecff" stroke-width="0.8"/>
<polygon points="553.2,313.5 553.2,308.0 565.3,308.0 565.3,316.9" fill="#9e29ff" stroke="#9e29ff" stroke-width="0.8"/>
<polygon points="585.7,323.8 596.9,308.0 603.3,308.0 603.3,319.5 587.2,324.4" fill="#29ff29" stroke="#29ff29" stroke-width="0.8"/>
<polygon points="603.3,319.5 603.3,308.0 625.6,308.0 626.6,325.8 616.1,331.0" fill="#50ffc5" stroke="#50ffc5" stroke-width="0.8"/>
<polygon points="649.3,320.9 648.2,308.0 625.6,308.0 626.6,325.8 635.2,329.0" fill="#c5ff50" stroke="#c5ff50" stroke-width="0.8"/>
<polygon points="664.5,324.0 661.9,324.3 649.3,320.9 648.2,308.0 664.5,308.0" fill="#ff1629" stroke="#ff1629" stroke-width="0.8"/>
<polygon points="567.4,318.2 567.9,321.9 585.1,323.3 580.2,308.0 576.6,308.0" fill="#c5ff9e" stroke="#c5ff9e" stroke-width="0.8"/>
<polygon points="591.5,345.5 588.3,355.7 576.6,359.7 568.3,353.9 567.4,346.4 571.9,337.9 574.3,336.9" fill="#ff2902" stroke="#ff2902" stroke-width="0.8"/>
<polygon points="585.3,323.6 574.3,336.9 591.5,345.5 592.6,344.3 595.1,338.5 587.2,324.4 585.7,323.8" fill="#ff3502" stroke="#ff3502" stroke-width="0.8"/>
<polygon points="587.2,324.4 603.3,319.5 616.1,331.0 615.4,332.4 595.1,338.5" fill="#50ff9e" stroke="#50ff9e" stroke-width="0.8"/>
<polygon points="592.6,344.3 615.4,353.4 615.4,332.4 595.1,338.5" fill="#9eff8a" stroke="#9eff8a" stroke-width="0.8"/>
<polygon points="592.6,344.3 615.4,353.4 615.5,354.0 609.6,365.2 600.5,364.6 588.3,355.7 591.5,345.5" fill="#9eff77" stroke="#9eff77" stroke-width="0.8"/>
<polygon points="645.3,354.0 647.2,348.3 638.8,337.4 621.7,354.4 631.2,357.9" fill="#3dffb1" stroke="#3dffb1" stroke-width="0.8"/>
<polygon points="621.7,354.4 615.5,354.0 615.4,353.4 615.4,332.4 616.1,331.0 626.6,325.8 635.2,329.0 638.8,337.4" fill="#50ffb1" stroke="#50ffb1" stroke-width="0.8"/>
<polygon points="647.2,348.3 650.4,347.3 661.9,324.3 649.3,320.9 635.2,329.0 638.8,337.4" fill="#ff8a16" stroke="#ff8a16" stroke-width="0.8"/>
<polygon points="650.4,347.3 661.9,324.3 664.5,324.0 664.5,348.3" fill="#3d16ff" stroke="#3d16ff" stroke-width="0.8"/>
<polygon points="648.3,363.1 664.5,363.1 664.5,348.3 650.4,347.3 647.2,348.3 645.3,354.0" fill="#9eff64" stroke="#9eff64" stroke-width="0.8"/>
<polygon points="647.2,371.5 664.5,381.8 664.5,363.1 648.3,363.1" fill="#29ecff" stroke="#29ecff" stroke-width="0.8"/>
<polygon points="631.2,375.7 611.9,370.4 609.6,365.2 615.5,354.0 621.7,354.4 631.2,357.9" fill="#3dff50" stroke="#3dff50" stroke-width="0.8"/>
<polygon points="631.2,375.7 631.2,357.9 645.3,354.0 648.3,363.1 647.2,371.5 635.9,379.9" fill="#29ff50" stroke="#29ff50" stroke-width="0.8"/>
<polygon points="569.0,377.0 569.0,393.3 573.7,395.7 578.4,391.9 574.7,375.4" fill="#ff2902" stroke="#ff2902" stroke-width="0.8"/>
<polygon points="589.9,377.1 576.6,373.1 576.6,359.7 588.3,355.7 600.5,364.6" fill="#50ff64" stroke="#50ff64" stroke-width="0.8"/>
<polygon points="609.6,365.2 600.5,364.6 589.9,377.1 593.5,386.2 610.0,380.1 611.9,370.4" fill="#ff9e02" stroke="#ff9e02" stroke-width="0.8"/>
<polygon points="589.9,377.1 576.6,373.1 574.7,375.4 578.4,391.9 591.5,393.0 593.5,386.2" fill="#ff77c5" stroke="#ff77c5" stroke-width="0.8"/>
<polygon points="631.2,375.7 611.9,370.4 610.0,380.1 614.4,390.7 629.9,389.3 635.8,381.0 635.9,379.9" fill="#163dff" stroke="#163dff" stroke-width="0.8"/>
<polygon points="635.9,379.9 635.8,381.0 650.4,394.4 664.5,387.1 664.5,381.8 647.2,371.5" fill="#b1ff9e" stroke="#b1ff9e" stroke-width="0.8"/>
<polygon points="593.5,386.2 591.5,393.0 591.9,393.8 613.1,393.8 614.4,390.7 610.0,380.1" fill="#ffd8ec" stroke="#ffd8ec" stroke-width="0.8"/>
<polygon points="338.0,317.3 338.0,371.8 350.8,370.2 352.0,368.7 358.0,342.6 356.2,336.5 354.4,332.1" fill="#ecff50" stroke="#ecff50" stroke-width="0.8"/>
<polygon points="350.8,370.2 350.8,385.3 338.0,387.5 338.0,371.8" fill="#77b1ff" stroke="#77b1ff" stroke-width="0.8"/>
<polygon points="369.4,372.5 371.5,362.2 369.1,356.8 358.0,342.6 352.0,368.7 363.7,375.7" fill="#ecff50" stroke="#ecff50" stroke-width="0.8"/>
<polygon points="359.9,389.1 357.8,389.4 350.8,385.3 350.8,370.2 352.0,368.7 363.7,375.7" fill="#ffff3d" stroke="#ffff3d" stroke-width="0.8"/>
<polygon points="356.2,336.5 392.6,353.9 391.8,356.8 369.1,356.8 358.0,342.6" fill="#ff6402" stroke="#ff6402" stroke-width="0.8"/>
<polygon points="385.2,369.1 392.2,359.2 391.8,356.8 369.1,356.8 371.5,362.2" fill="#2916ff" stroke="#2916ff" stroke-width="0.8"/>
<polygon points="374.3,378.3 383.6,380.6 386.8,374.9 385.2,369.1 371.5,362.2 369.4,372.5" fill="#29ecff" stroke="#29ecff" stroke-width="0.8"/>
<polygon points="364.8,390.9 373.6,398.1 384.9,393.6 385.4,392.4 383.6,380.6 374.3,378.3" fill="#ff0000" stroke="#ff0000" stroke-width="0.8"/>
<polygon points="359.9,389.1 363.7,375.7 369.4,372.5 374.3,378.3 364.8,390.9" fill="#ff0202" stroke="#ff0202" stroke-width="0.8"/>
<polygon points="400.1,364.8 392.2,359.2 385.2,369.1 386.8,374.9 400.6,374.9 402.7,372.8" fill="#50ff29" stroke="#50ff29" stroke-width="0.8"/>
<polygon points="386.8,374.9 400.6,374.9 400.6,387.9 385.4,392.4 383.6,380.6" fill="#b1ffb1" stroke="#b1ffb1" stroke-width="0.8"/>
<polygon points="419.1,367.0 429.2,371.7 429.1,384.7 414.5,388.4 408.2,372.7" fill="#ff299e" stroke="#ff299e" stroke-width="0.8"/>
<polygon points="408.2,372.7 414.5,388.4 408.9,392.8 400.6,387.9 400.6,374.9 402.7,372.8" fill="#ff50c5" stroke="#ff50c5" stroke-width="0.8"/>
<polygon points="353.2,399.7 338.0,407.3 338.0,387.5 350.8,385.3 357.8,389.4" fill="#ff6477" stroke="#ff6477" stroke-width="0.8"/>
<polygon points="358.9,406.9 372.5,402.4 373.6,398.1 364.8,390.9 359.9,389.1 357.8,389.4 353.2,399.7" fill="#ff3d8a" stroke="#ff3d8a" stroke-width="0.8"/>
<polygon points="355.8,417.7 338.0,411.2 338.0,407.3 353.2,399.7 358.9,406.9" fill="#c550ff" stroke="#c550ff" stroke-width="0.8"/>
<polygon points="362.5,425.6 362.3,425.7 355.8,417.7 358.9,406.9 372.5,402.4 373.4,408.2" fill="#ff77d8" stroke="#ff77d8" stroke-width="0.8"/>
<polygon points="398.4,408.9 408.9,396.9 408.9,392.8 400.6,387.9 385.4,392.4 384.9,393.6 389.0,399.5" fill="#02ff02" stroke="#02ff02" stroke-width="0.8"/>
<polygon points="414.5,388.4 408.9,392.8 408.9,396.9 423.7,409.5 432.7,389.6 429.1,384.7" fill="#ff3dff" stroke="#ff3dff" stroke-width="0.8"/>
<polygon points="420.8,416.4 423.7,409.8 423.7,409.5 408.9,396.9 398.4,408.9 398.5,410.8 414.2,418.6" fill="#ff299e" stroke="#ff299e" stroke-width="0.8"/>
<polygon points="443.8,411.5 438.0,391.1 432.7,389.6 423.7,409.5 423.7,409.8 443.7,412.0" fill="#ff0216" stroke="#ff0216" stroke-width="0.8"/>
<polygon points="443.8,411.5 438.0,391.1 441.5,390.6 451.1,403.1" fill="#ff6429" stroke="#ff6429" stroke-width="0.8"/>
<polygon points="355.8,417.7 362.3,425.7 358.9,433.8 353.4,436.8 338.0,433.6 338.0,411.2" fill="#ffc516" stroke="#ffc516" stroke-width="0.8"/>
<polygon points="367.2,426.0 387.0,420.4 381.7,414.2 373.4,408.2 362.5,425.6" fill="#ff9e16" stroke="#ff9e16" stroke-width="0.8"/>
<polygon points="367.2,426.0 382.8,436.0 391.7,428.8 389.8,421.5 387.0,420.4" fill="#ff9e16" stroke="#ff9e16" stroke-width="0.8"/>
<polygon points="387.0,420.4 389.8,421.5 398.5,410.8 398.4,408.9 389.0,399.5 381.7,414.2" fill="#163dff" stroke="#163dff" stroke-width="0.8"/>
<polygon points="373.4,408.2 372.5,402.4 373.6,398.1 384.9,393.6 389.0,399.5 381.7,414.2" fill="#ffff77" stroke="#ffff77" stroke-width="0.8"/>
<polygon points="414.2,418.6 398.5,410.8 389.8,421.5 391.7,428.8 400.6,435.2 408.9,429.2" fill="#ffff3d" stroke="#ffff3d" stroke-width="0.8"/>
<polygon points="434.4,425.7 446.0,416.1 443.7,412.0 423.7,409.8 420.8,416.4 426.4,424.1" fill="#29ff8a" stroke="#29ff8a" stroke-width="0.8"/>
<polygon points="439.7,434.9 446.9,439.9 448.8,439.1 450.4,436.3 452.9,420.1 446.0,416.1 434.4,425.7" fill="#50ff64" stroke="#50ff64" stroke-width="0.8"/>
<polygon points="423.2,438.3 408.9,429.2 414.2,418.6 420.8,416.4 426.4,424.1" fill="#ffff29" stroke="#ffff29" stroke-width="0.8"/>
<polygon points="423.2,438.3 426.4,424.1 434.4,425.7 439.7,434.9 423.3,438.4" fill="#16ffec" stroke="#16ffec" stroke-width="0.8"/>
<polygon points="490.2,368.4 487.3,371.6 481.1,374.5 467.5,359.2 478.7,349.0 479.0,348.8 492.7,360.8" fill="#ffd8ff" stroke="#ffd8ff" stroke-width="0.8"/>
<polygon points="465.5,386.5 477.9,384.1 481.1,374.5 467.5,359.2 464.9,359.4 461.9,365.5" fill="#ffd8ff" stroke="#ffd8ff" stroke-width="0.8"/>
<polygon points="490.2,368.4 509.1,376.0 509.3,362.7 508.2,359.6 506.2,357.6 501.9,356.8 492.7,360.8" fill="#c5ff50" stroke="#c5ff50" stroke-width="0.8"/>
<polygon points="490.2,368.4 487.3,371.6 500.8,385.2 511.1,383.6 511.5,382.9 509.1,376.0" fill="#ffb116" stroke="#ffb116" stroke-width="0.8"/>
<polygon points="481.1,374.5 487.3,371.6 500.8,385.2 489.4,392.7 482.4,389.5 477.9,384.1" fill="#ffec02" stroke="#ffec02" stroke-width="0.8"/>
<polygon points="530.7,363.0 526.4,366.1 518.3,381.1 531.6,384.4 538.9,381.6 539.9,378.9 534.3,363.2" fill="#ffec8a" stroke="#ffec8a" stroke-width="0.8"/>
<polygon points="468.2,411.0 472.4,409.6 482.4,389.5 477.9,384.1 465.5,386.5 461.3,389.5 462.0,399.5" fill="#9eff29" stroke="#9eff29" stroke-width="0.8"/>
<polygon points="486.1,410.7 472.4,409.6 482.4,389.5 489.4,392.7 491.4,398.8" fill="#1650ff" stroke="#1650ff" stroke-width="0.8"/>
<polygon points="491.4,398.8 489.4,392.7 500.8,385.2 511.1,383.6 513.5,402.6 506.0,404.3" fill="#16ff3d" stroke="#16ff3d" stroke-width="0.8"/>
<polygon points="511.1,383.6 511.5,382.9 518.3,381.1 531.6,384.4 529.3,402.3 515.5,404.3 513.5,402.6" fill="#ff64c5" stroke="#ff64c5" stroke-width="0.8"/>
<polygon points="538.9,381.6 549.3,394.6 536.7,405.7 529.3,402.3 531.6,384.4" fill="#1650ff" stroke="#1650ff" stroke-width="0.8"/>
<polygon points="466.1,415.7 452.9,420.1 446.0,416.1 443.7,412.0 443.8,411.5 451.1,403.1 462.0,399.5 468.2,411.0" fill="#ff3d3d" stroke="#ff3d3d" stroke-width="0.8"/>
<polygon points="462.0,399.5 461.3,389.5 452.7,386.5 441.5,390.6 451.1,403.1" fill="#16ff29" stroke="#16ff29" stroke-width="0.8"/>
<polygon points="492.1,418.2 486.1,410.7 491.4,398.8 506.0,404.3 494.5,418.0" fill="#ff3dc5" stroke="#ff3dc5" stroke-width="0.8"/>
<polygon points="494.5,418.0 504.8,423.8 516.4,417.4 515.5,404.3 513.5,402.6 506.0,404.3" fill="#29ff29" stroke="#29ff29" stroke-width="0.8"/>
<polygon points="516.4,417.4 515.5,404.3 529.3,402.3 536.7,405.7 538.7,412.6 537.0,420.2 523.7,424.7" fill="#b1ffff" stroke="#b1ffff" stroke-width="0.8"/>
<polygon points="550.7,433.5 560.5,412.6 560.5,412.6 538.7,412.6 537.0,420.2 549.0,433.5" fill="#ff0216" stroke="#ff0216" stroke-width="0.8"/>
<polygon points="560.5,412.6 538.7,412.6 536.7,405.7 549.3,394.6 551.6,394.8 561.2,410.8" fill="#9ec5ff" stroke="#9ec5ff" stroke-width="0.8"/>
<polygon points="478.8,435.8 482.6,435.8 492.1,418.2 486.1,410.7 472.4,409.6 468.2,411.0 466.1,415.7 474.8,432.0" fill="#7729ff" stroke="#7729ff" stroke-width="0.8"/>
<polygon points="450.4,436.3 452.9,420.1 466.1,415.7 474.8,432.0" fill="#50ffff" stroke="#50ffff" stroke-width="0.8"/>
<polygon points="504.8,431.7 504.8,423.8 494.5,418.0 492.1,418.2 482.6,435.8 485.2,437.6" fill="#ff0229" stroke="#ff0229" stroke-width="0.8"/>
<polygon points="510.8,438.8 520.5,438.8 522.3,434.2 523.7,424.7 516.4,417.4 504.8,423.8 504.8,431.7" fill="#29ff29" stroke="#29ff29" stroke-width="0.8"/>
<polygon points="549.0,433.5 537.0,420.2 523.7,424.7 522.3,434.2 548.1,434.2" fill="#b1b1ff" stroke="#b1b1ff" stroke-width="0.8"/>
<polygon points="569.0,393.3 558.2,389.6 551.6,394.8 561.2,410.8 572.1,405.3 573.7,395.7" fill="#ff2902" stroke="#ff2902" stroke-width="0.8"/>
<polygon points="569.8,421.9 560.5,412.6 560.5,412.6 561.2,410.8 572.1,405.3 586.9,414.2 588.0,418.9 578.1,422.9" fill="#d89eff" stroke="#d89eff" stroke-width="0.8"/>
<polygon points="578.4,391.9 591.5,393.0 591.9,393.8 593.1,401.9 586.9,414.2 572.1,405.3 573.7,395.7" fill="#ffc59e" stroke="#ffc59e" stroke-width="0.8"/>
<polygon points="563.7,436.9 552.5,434.6 550.7,433.5 560.5,412.6 569.8,421.9" fill="#ecc5ff" stroke="#ecc5ff" stroke-width="0.8"/>
<polygon points="586.9,414.2 593.1,401.9 608.3,405.7 607.4,415.1 591.3,422.2 588.0,418.9" fill="#ffffff" stroke="#ffffff" stroke-width="0.8"/>
<polygon points="613.1,393.8 591.9,393.8 593.1,401.9 608.3,405.7 613.1,401.5" fill="#ffecec" stroke="#ffecec" stroke-width="0.8"/>
<polygon points="618.6,404.5 613.1,401.5 613.1,393.8 614.4,390.7 629.9,389.3 631.7,399.5 631.2,400.3" fill="#ffd8ec" stroke="#ffd8ec" stroke-width="0.8"/>
<polygon points="641.0,401.8 649.4,397.6 650.4,394.4 635.8,381.0 629.9,389.3 631.7,399.5" fill="#77ff29" stroke="#77ff29" stroke-width="0.8"/>
<polygon points="649.4,397.6 653.4,406.5 664.5,407.9 664.5,387.1 650.4,394.4" fill="#ff023d" stroke="#ff023d" stroke-width="0.8"/>
<polygon points="651.2,410.9 652.4,420.8 655.2,422.1 664.5,419.3 664.5,407.9 653.4,406.5" fill="#0216ff" stroke="#0216ff" stroke-width="0.8"/>
<polygon points="641.0,410.9 651.2,410.9 653.4,406.5 649.4,397.6 641.0,401.8" fill="#ff7729" stroke="#ff7729" stroke-width="0.8"/>
<polygon points="637.1,415.5 638.5,423.0 640.5,424.4 652.4,420.8 651.2,410.9 641.0,410.9" fill="#7716ff" stroke="#7716ff" stroke-width="0.8"/>
<polygon points="631.2,400.3 631.7,399.5 641.0,401.8 641.0,410.9 637.1,415.5 631.2,411.3" fill="#299eff" stroke="#299eff" stroke-width="0.8"/>
<polygon points="618.6,404.5 613.1,401.5 608.3,405.7 607.4,415.1 612.3,418.8 621.3,416.5 622.5,413.8" fill="#50ff29" stroke="#50ff29" stroke-width="0.8"/>
<polygon points="592.8,427.8 612.3,432.2 612.3,418.8 607.4,415.1 591.3,422.2" fill="#77ff29" stroke="#77ff29" stroke-width="0.8"/>
<polygon points="621.3,416.5 612.3,418.8 612.3,432.2 619.1,439.6 627.0,426.5" fill="#50ffc5" stroke="#50ffc5" stroke-width="0.8"/>
<polygon points="618.6,404.5 631.2,400.3 631.2,411.3 622.5,413.8" fill="#ffffff" stroke="#ffffff" stroke-width="0.8"/>
<polygon points="622.5,413.8 621.3,416.5 627.0,426.5 638.5,423.0 637.1,415.5 631.2,411.3" fill="#ff8ad8" stroke="#ff8ad8" stroke-width="0.8"/>
<polygon points="570.8,441.2 571.3,441.8 590.1,438.7 592.8,427.8 591.3,422.2 588.0,418.9 578.1,422.9" fill="#ff1664" stroke="#ff1664" stroke-width="0.8"/>
<polygon points="563.7,436.9 569.8,421.9 578.1,422.9 570.8,441.2" fill="#29ffc5" stroke="#29ffc5" stroke-width="0.8"/>
<polygon points="619.1,440.1 619.1,439.6 612.3,432.2 592.8,427.8 590.1,438.7 590.6,439.7 603.4,448.6 611.9,448.6" fill="#ffb1d8" stroke="#ffb1d8" stroke-width="0.8"/>
<polygon points="642.9,437.8 640.5,424.4 638.5,423.0 627.0,426.5 619.1,439.6 619.1,440.1 623.8,442.0" fill="#ff643d" stroke="#ff643d" stroke-width="0.8"/>
<polygon points="648.1,442.0 657.2,437.5 655.2,422.1 652.4,420.8 640.5,424.4 642.9,437.8" fill="#9effb1" stroke="#9effb1" stroke-width="0.8"/>
<polygon points="657.2,437.5 664.5,438.6 664.5,419.3 655.2,422.1" fill="#2929ff" stroke="#2929ff" stroke-width="0.8"/>
<polygon points="563.7,436.9 552.5,434.6 555.5,461.3 556.3,461.5 557.3,461.2 571.1,445.0 571.3,441.8 570.8,441.2" fill="#50ff50" stroke="#50ff50" stroke-width="0.8"/>
<polygon points="557.3,461.2 576.4,465.4 579.1,457.9 571.1,445.0" fill="#8ab1ff" stroke="#8ab1ff" stroke-width="0.8"/>
<polygon points="557.3,461.2 576.4,465.4 578.5,471.0 578.0,472.1 564.7,479.1 560.4,476.4 556.3,461.5" fill="#b1b1ff" stroke="#b1b1ff" stroke-width="0.8"/>
<polygon points="576.4,465.4 578.5,471.0 592.1,471.0 595.6,465.1 594.8,460.6 586.1,455.6 579.1,457.9" fill="#16b1ff" stroke="#16b1ff" stroke-width="0.8"/>
<polygon points="571.1,445.0 579.1,457.9 586.1,455.6 590.6,439.7 590.1,438.7 571.3,441.8" fill="#5029ff" stroke="#5029ff" stroke-width="0.8"/>
<polygon points="590.6,439.7 586.1,455.6 594.8,460.6 603.4,448.6" fill="#ff168a" stroke="#ff168a" stroke-width="0.8"/>
<polygon points="611.9,448.6 603.4,448.6 594.8,460.6 595.6,465.1 608.9,466.7 614.3,459.7" fill="#16ff16" stroke="#16ff16" stroke-width="0.8"/>
<polygon points="610.0,478.1 604.4,481.8 593.3,473.5 592.1,471.0 595.6,465.1 608.9,466.7" fill="#16ff16" stroke="#16ff16" stroke-width="0.8"/>
<polygon points="635.3,457.3 634.4,460.5 628.2,466.7 614.3,459.7 611.9,448.6 619.1,440.1 623.8,442.0" fill="#ec8aff" stroke="#ec8aff" stroke-width="0.8"/>
<polygon points="648.1,442.0 647.6,449.9 635.3,457.3 623.8,442.0 642.9,437.8" fill="#ff0229" stroke="#ff0229" stroke-width="0.8"/>
<polygon points="648.1,442.0 657.2,437.5 664.5,438.6 664.5,460.3 657.5,459.8 647.6,449.9" fill="#ff6429" stroke="#ff6429" stroke-width="0.8"/>
<polygon points="647.6,449.9 657.5,459.8 648.6,470.0 634.4,460.5 635.3,457.3" fill="#163dff" stroke="#163dff" stroke-width="0.8"/>
<polygon points="628.2,466.7 628.2,473.4 618.6,480.3 610.0,478.1 608.9,466.7 614.3,459.7" fill="#ff773d" stroke="#ff773d" stroke-width="0.8"/>
<polygon points="647.9,479.1 639.5,482.8 628.2,473.4 628.2,466.7 634.4,460.5 648.6,470.0" fill="#ffd802" stroke="#ffd802" stroke-width="0.8"/>
<polygon points="649.2,479.7 664.5,473.2 664.5,460.3 657.5,459.8 648.6,470.0 647.9,479.1" fill="#5029ff" stroke="#5029ff" stroke-width="0.8"/>
<polygon points="338.0,456.8 350.4,454.9 353.4,436.8 338.0,433.6" fill="#29ff29" stroke="#29ff29" stroke-width="0.8"/>
<polygon points="372.5,447.4 358.9,433.8 353.4,436.8 350.4,454.9 360.2,463.8 366.9,462.0" fill="#163dff" stroke="#163dff" stroke-width="0.8"/>
<polygon points="395.5,455.5 402.0,442.6 400.6,435.2 391.7,428.8 382.8,436.0 378.9,445.6" fill="#c5ff9e" stroke="#c5ff9e" stroke-width="0.8"/>
<polygon points="423.2,438.3 408.9,429.2 400.6,435.2 402.0,442.6 422.0,446.6 423.3,438.4" fill="#ffec16" stroke="#ffec16" stroke-width="0.8"/>
<polygon points="372.5,447.4 358.9,433.8 362.3,425.7 362.5,425.6 367.2,426.0 382.8,436.0 378.9,445.6" fill="#ff9e16" stroke="#ff9e16" stroke-width="0.8"/>
<polygon points="423.3,438.4 422.0,446.6 422.1,446.8 442.9,446.8 446.9,439.9 439.7,434.9" fill="#29ffec" stroke="#29ffec" stroke-width="0.8"/>
<polygon points="421.5,456.8 422.1,446.8 442.9,446.8 444.1,464.1 435.3,468.2 426.6,464.9 426.4,464.9" fill="#7729ff" stroke="#7729ff" stroke-width="0.8"/>
<polygon points="381.4,470.8 366.9,462.0 372.5,447.4 378.9,445.6 395.5,455.5 396.4,461.2" fill="#16ff29" stroke="#16ff29" stroke-width="0.8"/>
<polygon points="354.3,476.5 360.2,463.8 350.4,454.9 338.0,456.8 338.0,479.6" fill="#ff0216" stroke="#ff0216" stroke-width="0.8"/>
<polygon points="396.4,461.2 395.5,455.5 402.0,442.6 422.0,446.6 422.1,446.8 421.5,456.8 397.7,462.1" fill="#ff3d3d" stroke="#ff3d3d" stroke-width="0.8"/>
<polygon points="401.8,468.7 397.7,462.1 421.5,456.8 426.4,464.9 406.8,472.7" fill="#ff9ed8" stroke="#ff9ed8" stroke-width="0.8"/>
<polygon points="381.4,470.8 366.9,462.0 360.2,463.8 354.3,476.5 361.7,486.4 380.8,480.7" fill="#16ff77" stroke="#16ff77" stroke-width="0.8"/>
<polygon points="391.5,494.6 389.2,493.8 380.8,480.7 381.4,470.8 396.4,461.2 397.7,462.1 401.8,468.7" fill="#ff1677" stroke="#ff1677" stroke-width="0.8"/>
<polygon points="391.5,494.6 401.8,468.7 406.8,472.7 413.6,486.5 414.9,495.7 411.3,507.1" fill="#0216ff" stroke="#0216ff" stroke-width="0.8"/>
<polygon points="414.9,495.7 434.4,480.6 435.3,468.2 426.6,464.9 413.6,486.5" fill="#ff8a29" stroke="#ff8a29" stroke-width="0.8"/>
<polygon points="413.6,486.5 426.6,464.9 426.4,464.9 406.8,472.7" fill="#ff8329" stroke="#ff8329" stroke-width="0.8"/>
<polygon points="435.3,468.2 444.1,464.1 453.1,466.9 453.1,481.5 443.9,488.9 434.4,480.6" fill="#29ff9e" stroke="#29ff9e" stroke-width="0.8"/>
<polygon points="350.3,501.3 361.1,494.4 361.7,486.4 354.3,476.5 338.0,479.6 338.0,497.8" fill="#ff023d" stroke="#ff023d" stroke-width="0.8"/>
<polygon points="372.5,503.6 389.2,493.8 380.8,480.7 361.7,486.4 361.1,494.4" fill="#ec29ff" stroke="#ec29ff" stroke-width="0.8"/>
<polygon points="414.9,495.7 434.4,480.6 443.9,488.9 445.2,505.6 425.7,511.4 411.8,508.7 411.3,507.1" fill="#ff2902" stroke="#ff2902" stroke-width="0.8"/>
<polygon points="353.7,513.8 372.0,507.7 372.5,503.6 361.1,494.4 350.3,501.3" fill="#ff503d" stroke="#ff503d" stroke-width="0.8"/>
<polygon points="352.9,517.3 338.0,517.9 338.0,497.8 350.3,501.3 353.7,513.8" fill="#29d8ff" stroke="#29d8ff" stroke-width="0.8"/>
<polygon points="353.7,513.8 372.0,507.7 375.0,517.5 362.7,538.2 352.9,517.3" fill="#5064ff" stroke="#5064ff" stroke-width="0.8"/>
<polygon points="391.5,494.6 389.2,493.8 372.5,503.6 372.0,507.7 375.0,517.5 405.9,519.5 411.8,508.7 411.3,507.1" fill="#ff8a29" stroke="#ff8a29" stroke-width="0.8"/>
<polygon points="450.4,436.3 474.8,432.0 478.8,435.8 467.1,451.4 448.8,439.1" fill="#ecff77" stroke="#ecff77" stroke-width="0.8"/>
<polygon points="498.9,452.3 510.8,438.8 504.8,431.7 485.2,437.6 493.3,449.3" fill="#ff0229" stroke="#ff0229" stroke-width="0.8"/>
<polygon points="548.1,434.2 522.3,434.2 520.5,438.8 525.9,448.2 538.5,446.3" fill="#9eb1ff" stroke="#9eb1ff" stroke-width="0.8"/>
<polygon points="448.8,439.1 446.9,439.9 442.9,446.8 444.1,464.1 453.1,466.9 455.5,466.2 467.1,457.3 467.1,451.4" fill="#ff169e" stroke="#ff169e" stroke-width="0.8"/>
<polygon points="480.2,469.6 472.2,482.8 455.5,466.2 467.1,457.3 476.7,463.1" fill="#29ff8a" stroke="#29ff8a" stroke-width="0.8"/>
<polygon points="493.3,449.3 476.7,463.1 467.1,457.3 467.1,451.4 478.8,435.8 482.6,435.8 485.2,437.6" fill="#77ff3d" stroke="#77ff3d" stroke-width="0.8"/>
<polygon points="472.2,482.8 455.5,466.2 453.1,466.9 453.1,481.5 468.8,492.8 471.8,489.1" fill="#29ff9e" stroke="#29ff9e" stroke-width="0.8"/>
<polygon points="498.9,452.3 500.9,456.3 494.0,472.8 480.2,469.6 476.7,463.1 493.3,449.3" fill="#29ff8a" stroke="#29ff8a" stroke-width="0.8"/>
<polygon points="498.9,452.3 500.9,456.3 514.3,460.4 518.4,460.4 522.8,458.0 525.9,448.2 520.5,438.8 510.8,438.8" fill="#77ff29" stroke="#77ff29" stroke-width="0.8"/>
<polygon points="494.0,472.8 495.2,475.0 505.3,478.4 514.3,460.4 500.9,456.3" fill="#b164ff" stroke="#b164ff" stroke-width="0.8"/>
<polygon points="518.4,460.4 518.4,484.0 516.2,485.5 512.8,484.4 505.3,478.4 514.3,460.4" fill="#6450ff" stroke="#6450ff" stroke-width="0.8"/>
<polygon points="538.5,446.3 525.9,448.2 522.8,458.0 536.3,468.8 542.2,467.2 548.3,462.1" fill="#29ff8a" stroke="#29ff8a" stroke-width="0.8"/>
<polygon points="518.4,460.4 518.4,484.0 530.6,482.4 536.3,468.8 522.8,458.0" fill="#77ff29" stroke="#77ff29" stroke-width="0.8"/>
<polygon points="552.5,434.6 555.5,461.3 548.3,462.1 538.5,446.3 548.1,434.2 549.0,433.5 550.7,433.5" fill="#3dff8a" stroke="#3dff8a" stroke-width="0.8"/>
<polygon points="480.2,469.6 472.2,482.8 471.8,489.1 489.8,489.1 490.2,488.7 495.2,475.0 494.0,472.8" fill="#ff0202" stroke="#ff0202" stroke-width="0.8"/>
<polygon points="495.2,475.0 505.3,478.4 512.8,484.4 499.2,492.6 490.2,488.7" fill="#0216ff" stroke="#0216ff" stroke-width="0.8"/>
<polygon points="547.9,488.5 539.8,491.6 530.6,482.4 536.3,468.8 542.2,467.2 550.0,482.9" fill="#ff0202" stroke="#ff0202" stroke-width="0.8"/>
<polygon points="555.5,461.3 556.3,461.5 560.4,476.4 550.0,482.9 542.2,467.2 548.3,462.1" fill="#ff0202" stroke="#ff0202" stroke-width="0.8"/>
<polygon points="539.8,491.6 537.5,502.9 520.9,507.7 516.2,501.7 516.2,485.5 518.4,484.0 530.6,482.4" fill="#169eff" stroke="#169eff" stroke-width="0.8"/>
<polygon points="489.8,489.1 489.8,503.8 473.0,512.2 465.4,506.5 468.8,492.8 471.8,489.1" fill="#16d8ff" stroke="#16d8ff" stroke-width="0.8"/>
<polygon points="512.8,484.4 499.2,492.6 502.7,502.9 516.2,501.7 516.2,485.5" fill="#ffffc5" stroke="#ffffc5" stroke-width="0.8"/>
<polygon points="490.2,488.7 499.2,492.6 502.7,502.9 498.3,506.3 489.8,503.8 489.8,489.1" fill="#ff5029" stroke="#ff5029" stroke-width="0.8"/>
<polygon points="500.7,530.5 516.2,527.5 518.1,524.5 520.9,507.7 516.2,501.7 502.7,502.9 498.3,506.3" fill="#ff2929" stroke="#ff2929" stroke-width="0.8"/>
<polygon points="500.7,530.5 498.3,506.3 489.8,503.8 473.0,512.2 483.7,534.4 491.9,536.2" fill="#ff1629" stroke="#ff1629" stroke-width="0.8"/>
<polygon points="547.9,488.5 539.8,491.6 537.5,502.9 549.5,514.9 556.6,511.5 556.2,493.2" fill="#9eb1ff" stroke="#9eb1ff" stroke-width="0.8"/>
<polygon points="549.5,514.9 547.9,520.2 518.1,524.5 520.9,507.7 537.5,502.9" fill="#9eff29" stroke="#9eff29" stroke-width="0.8"/>
<polygon points="456.0,508.6 465.4,506.5 468.8,492.8 453.1,481.5 443.9,488.9 445.2,505.6" fill="#ff1616" stroke="#ff1616" stroke-width="0.8"/>
<polygon points="581.4,487.2 578.0,472.1 564.7,479.1 566.8,489.7 575.1,495.0" fill="#b1b1ff" stroke="#b1b1ff" stroke-width="0.8"/>
<polygon points="566.8,489.7 556.2,493.2 547.9,488.5 550.0,482.9 560.4,476.4 564.7,479.1" fill="#9ed8ff" stroke="#9ed8ff" stroke-width="0.8"/>
<polygon points="581.4,487.2 588.1,486.5 593.3,473.5 592.1,471.0 578.5,471.0 578.0,472.1" fill="#1677ff" stroke="#1677ff" stroke-width="0.8"/>
<polygon points="604.4,481.8 600.7,492.8 588.1,486.5 593.3,473.5" fill="#ff3d77" stroke="#ff3d77" stroke-width="0.8"/>
<polygon points="581.4,487.2 588.1,486.5 600.7,492.8 602.3,499.4 602.3,499.5 588.2,504.2 576.0,500.1 575.1,495.0" fill="#3dff29" stroke="#3dff29" stroke-width="0.8"/>
<polygon points="575.1,495.0 576.0,500.1 568.2,511.5 556.6,511.5 556.2,493.2 566.8,489.7" fill="#29ff9e" stroke="#29ff9e" stroke-width="0.8"/>
<polygon points="637.2,502.4 637.2,513.0 632.8,517.4 610.6,498.8 620.8,491.2 635.4,497.0" fill="#77ff9e" stroke="#77ff9e" stroke-width="0.8"/>
<polygon points="620.8,491.2 618.6,480.3 610.0,478.1 604.4,481.8 600.7,492.8 602.3,499.4 610.6,498.8" fill="#77ff50" stroke="#77ff50" stroke-width="0.8"/>
<polygon points="635.4,497.0 620.8,491.2 618.6,480.3 628.2,473.4 639.5,482.8" fill="#50ff9e" stroke="#50ff9e" stroke-width="0.8"/>
<polygon points="631.5,519.8 632.8,517.4 610.6,498.8 602.3,499.4 602.3,499.5 605.1,517.6" fill="#ff6416" stroke="#ff6416" stroke-width="0.8"/>
<polygon points="660.4,490.8 637.2,502.4 635.4,497.0 639.5,482.8 647.9,479.1 649.2,479.7" fill="#d8ff50" stroke="#d8ff50" stroke-width="0.8"/>
<polygon points="660.4,490.8 664.5,492.3 664.5,511.6 653.4,514.7 637.2,513.0 637.2,502.4" fill="#ffec3d" stroke="#ffec3d" stroke-width="0.8"/>
<polygon points="660.4,490.8 649.2,479.7 664.5,473.2 664.5,492.3" fill="#5029ff" stroke="#5029ff" stroke-width="0.8"/>
<polygon points="574.4,521.6 588.2,518.8 588.2,504.2 576.0,500.1 568.2,511.5" fill="#29ff77" stroke="#29ff77" stroke-width="0.8"/>
<polygon points="602.8,520.3 594.8,522.8 588.2,518.8 588.2,504.2 602.3,499.5 605.1,517.6" fill="#ff9e16" stroke="#ff9e16" stroke-width="0.8"/>
<polygon points="569.5,531.3 549.3,528.8 547.9,520.2 549.5,514.9 556.6,511.5 568.2,511.5 574.4,521.6 573.4,529.1" fill="#29ff3d" stroke="#29ff3d" stroke-width="0.8"/>
<polygon points="631.4,523.2 622.6,536.4 608.8,536.4 602.8,520.3 605.1,517.6 631.5,519.8" fill="#ffd8e2" stroke="#ffd8e2" stroke-width="0.8"/>
<polygon points="608.8,536.4 600.1,544.1 599.6,544.2 592.0,532.0 594.8,522.8 602.8,520.3" fill="#ffc5d8" stroke="#ffc5d8" stroke-width="0.8"/>
<polygon points="631.4,523.2 641.5,534.5 656.9,539.1 653.4,514.7 637.2,513.0 632.8,517.4 631.5,519.8" fill="#ff6402" stroke="#ff6402" stroke-width="0.8"/>
<polygon points="656.9,539.1 641.5,534.5 638.7,553.7 641.5,562.0 664.5,562.0 664.5,546.0" fill="#ff7702" stroke="#ff7702" stroke-width="0.8"/>
<polygon points="656.9,539.1 664.5,546.0 664.5,511.6 653.4,514.7" fill="#3d16ff" stroke="#3d16ff" stroke-width="0.8"/>
<polygon points="569.5,531.3 549.3,528.8 545.7,541.2 548.5,542.6 563.4,545.4" fill="#ff1616" stroke="#ff1616" stroke-width="0.8"/>
<polygon points="569.5,531.3 563.4,545.4 570.1,552.9 580.3,545.0 579.4,535.1 573.4,529.1" fill="#2929ff" stroke="#2929ff" stroke-width="0.8"/>
<polygon points="573.4,529.1 574.4,521.6 588.2,518.8 594.8,522.8 592.0,532.0 579.4,535.1" fill="#29ff29" stroke="#29ff29" stroke-width="0.8"/>
<polygon points="579.4,535.1 592.0,532.0 599.6,544.2 593.1,550.1 580.3,545.0" fill="#ff8a16" stroke="#ff8a16" stroke-width="0.8"/>
<polygon points="622.6,536.4 622.8,537.8 616.7,558.3 600.1,544.1 608.8,536.4" fill="#ff298a" stroke="#ff298a" stroke-width="0.8"/>
<polygon points="638.7,553.7 622.8,537.8 616.7,558.3 617.6,562.0 641.5,562.0" fill="#ffec02" stroke="#ffec02" stroke-width="0.8"/>
<polygon points="631.4,523.2 641.5,534.5 638.7,553.7 622.8,537.8 622.6,536.4" fill="#ffff16" stroke="#ffff16" stroke-width="0.8"/>
<polygon points="580.3,545.0 593.1,550.1 592.2,562.0 569.6,562.0 570.1,552.9" fill="#29ff9e" stroke="#29ff9e" stroke-width="0.8"/>
<polygon points="599.6,544.2 593.1,550.1 592.2,562.0 617.6,562.0 616.7,558.3 600.1,544.1" fill="#29ff29" stroke="#29ff29" stroke-width="0.8"/>
<polygon points="563.4,545.4 548.5,542.6 558.0,562.0 569.6,562.0 570.1,552.9" fill="#ffc58a" stroke="#ffc58a" stroke-width="0.8"/>
<polygon points="352.9,517.3 362.7,538.2 362.6,538.9 338.0,542.2 338.0,517.9" fill="#ff29ec" stroke="#ff29ec" stroke-width="0.8"/>
<polygon points="362.7,538.2 375.0,517.5 405.9,519.5 403.3,536.5 371.2,548.0 362.6,538.9" fill="#ff8a16" stroke="#ff8a16" stroke-width="0.8"/>
<polygon points="449.7,542.2 456.0,508.6 445.2,505.6 425.7,511.4 442.3,540.7" fill="#ff8a29" stroke="#ff8a29" stroke-width="0.8"/>
<polygon points="405.9,519.5 403.3,536.5 415.4,553.0 442.3,540.7 425.7,511.4 411.8,508.7" fill="#ec77ec" stroke="#ec77ec" stroke-width="0.8"/>
<polygon points="459.6,549.9 483.7,534.4 473.0,512.2 465.4,506.5 456.0,508.6 449.7,542.2" fill="#50ff50" stroke="#50ff50" stroke-width="0.8"/>
<polygon points="362.6,538.9 338.0,542.2 338.0,562.0 371.2,562.0 371.2,548.0" fill="#d8ff29" stroke="#d8ff29" stroke-width="0.8"/>
<polygon points="459.6,562.0 415.4,562.0 415.4,553.0 442.3,540.7 449.7,542.2 459.6,549.9" fill="#ff7729" stroke="#ff7729" stroke-width="0.8"/>
<polygon points="415.4,553.0 403.3,536.5 371.2,548.0 371.2,562.0 415.4,562.0" fill="#ff77c5" stroke="#ff77c5" stroke-width="0.8"/>
<polygon points="459.6,549.9 483.7,534.4 491.9,536.2 501.0,562.0 459.6,562.0" fill="#50ff50" stroke="#50ff50" stroke-width="0.8"/>
<polygon points="545.7,541.2 543.1,542.6 528.4,542.6 516.2,527.5 518.1,524.5 547.9,520.2 549.3,528.8" fill="#9eff29" stroke="#9eff29" stroke-width="0.8"/>
<polygon points="543.1,542.6 543.1,562.0 519.6,562.0 528.4,542.6" fill="#77ff50" stroke="#77ff50" stroke-width="0.8"/>
<polygon points="545.7,541.2 543.1,542.6 543.1,562.0 558.0,562.0 548.5,542.6" fill="#ffb18a" stroke="#ffb18a" stroke-width="0.8"/>
<polygon points="500.7,530.5 516.2,527.5 528.4,542.6 519.6,562.0 501.0,562.0 491.9,536.2" fill="#ff1629" stroke="#ff1629" stroke-width="0.8"/>
<path d="M507.2,319.2L504.1,308.0M507.2,319.2L519.4,314.6M519.4,314.6L522.9,308.2M522.9,308.2L522.9,308.0M600.7,492.8L588.1,486.5M600.7,492.8L604.4,481.8M588.1,486.5L593.3,473.5M593.3,473.5L604.4,481.8M586.1,455.6L590.6,439.7M586.1,455.6L594.8,460.6M594.8,460.6L603.4,448.6M603.4,448.6L590.6,439.7M595.6,465.1L592.1,471.0M592.1,471.0L593.3,473.5M604.4,481.8L610.0,478.1M608.9,466.7L610.0,478.1M486.1,331.1L484.5,339.1M484.5,339.1L496.5,342.4M486.1,331.1L504.6,325.8M504.6,337.3L504.6,325.8M496.5,342.4L504.6,337.3M519.2,330.0L504.6,325.8M504.6,323.6L504.6,325.8M504.6,323.6L507.2,319.2M522.1,325.4L519.2,330.0M482.8,320.7L486.1,331.1M504.6,323.6L494.9,317.1M482.8,320.7L482.9,320.6M482.9,320.6L494.9,317.1M482.9,320.6L481.8,308.0M494.9,317.1L496.4,308.0M522.1,325.4L532.8,325.4M522.9,308.2L536.9,322.2M532.8,325.4L536.9,322.2M612.3,432.2L592.8,427.8M612.3,432.2L612.3,418.8M612.3,418.8L607.4,415.1M607.4,415.1L591.3,422.2M591.3,422.2L592.8,427.8M612.3,418.8L621.3,416.5M619.1,439.6L612.3,432.2M619.1,439.6L627.0,426.5M627.0,426.5L621.3,416.5M602.3,499.4L610.6,498.8M600.7,492.8L602.3,499.4M618.6,480.3L610.0,478.1M504.6,337.3L509.8,340.6M519.2,330.0L519.4,330.9M509.8,340.6L519.4,330.9M520.9,507.7L537.5,502.9M520.9,507.7L518.1,524.5M547.9,520.2L549.5,514.9M537.5,502.9L549.5,514.9M502.7,502.9L499.2,492.6M499.2,492.6L512.8,484.4M516.2,501.7L516.2,485.5M516.2,501.7L502.7,502.9M516.2,485.5L512.8,484.4M516.2,501.7L520.9,507.7M516.2,485.5L518.4,484.0M518.4,484.0L530.6,482.4M537.5,502.9L539.8,491.6M530.6,482.4L539.8,491.6M529.3,402.3L536.7,405.7M529.3,402.3L531.6,384.4M536.7,405.7L549.3,394.6M549.3,394.6L538.9,381.6M531.6,384.4L538.9,381.6M555.1,372.1L539.9,378.9M555.1,372.1L561.3,378.3M539.9,378.9L538.9,381.6M551.6,394.8L549.3,394.6M551.6,394.8L558.2,389.6M561.3,378.3L558.2,389.6M518.3,381.1L531.6,384.4M515.5,404.3L529.3,402.3M515.5,404.3L513.5,402.6M511.5,382.9L511.1,383.6M518.3,381.1L511.5,382.9M513.5,402.6L511.1,383.6M407.5,318.8L395.5,336.9M395.5,336.9L395.8,337.3M417.2,327.3L407.5,318.8M417.2,327.3L413.1,338.7M413.1,338.7L395.8,337.3M482.8,320.7L460.9,322.9M484.2,339.4L484.5,339.1M460.9,322.9L464.5,329.5M457.2,308.0L456.8,317.0M456.8,317.0L459.4,322.0M460.9,322.9L459.4,322.0M484.2,339.4L479.0,348.8M479.0,348.8L478.7,349.0M478.7,349.0L464.5,338.4M464.5,329.5L464.5,338.4M453.9,351.5L464.9,359.4M478.7,349.0L467.5,359.2M467.5,359.2L464.9,359.4M482.4,389.5L489.4,392.7M482.4,389.5L477.9,384.1M500.8,385.2L489.4,392.7M487.3,371.6L481.1,374.5M477.9,384.1L481.1,374.5M473.0,512.2L483.7,534.4M473.0,512.2L489.8,503.8M498.3,506.3L489.8,503.8M483.7,534.4L491.9,536.2M502.7,502.9L498.3,506.3M518.1,524.5L516.2,527.5M443.9,488.9L453.1,481.5M468.8,492.8L453.1,481.5M465.4,506.5L456.0,508.6M465.4,506.5L468.8,492.8M445.2,505.6L456.0,508.6M453.1,466.9L444.1,464.1M444.1,464.1L435.3,468.2M443.9,488.9L434.4,480.6M434.4,480.6L435.3,468.2M536.9,322.2L538.5,322.1M576.0,500.1L588.2,504.2M576.0,500.1L568.2,511.5M588.2,504.2L588.2,518.8M588.2,518.8L574.4,521.6M568.2,511.5L574.4,521.6M616.7,558.3L617.6,562.0M593.1,550.1L592.2,562.0M616.7,558.3L600.1,544.1M593.1,550.1L599.6,544.2M600.1,544.1L599.6,544.2M536.7,405.7L538.7,412.6M537.0,420.2L538.7,412.6M515.5,404.3L516.4,417.4M537.0,420.2L523.7,424.7M523.7,424.7L516.4,417.4M593.1,401.9L591.9,393.8M608.3,405.7L613.1,401.5M628.2,473.4L628.2,466.7M618.6,480.3L628.2,473.4M608.9,466.7L614.3,459.7M614.3,459.7L628.2,466.7M603.4,448.6L611.9,448.6M594.8,460.6L595.6,465.1M614.3,459.7L611.9,448.6M590.1,438.7L592.8,427.8M619.1,439.6L619.1,440.1M590.1,438.7L590.6,439.7M611.9,448.6L619.1,440.1M653.4,406.5L664.5,407.9M655.2,422.1L664.5,419.3M655.2,422.1L652.4,420.8M651.2,410.9L652.4,420.8M651.2,410.9L653.4,406.5M653.4,406.5L649.4,397.6M650.4,394.4L664.5,387.1M650.4,394.4L649.4,397.6M657.2,437.5L664.5,438.6M655.2,422.1L657.2,437.5M501.9,356.8L506.2,357.6M501.9,356.8L492.7,360.8M506.2,357.6L508.2,359.6M508.2,359.6L509.3,362.7M509.1,376.0L509.3,362.7M492.7,360.8L490.2,368.4M509.8,340.6L512.5,345.0M512.5,345.0L506.2,357.6M496.5,342.4L501.9,356.8M511.5,382.9L509.1,376.0M511.1,383.6L500.8,385.2M487.3,371.6L490.2,368.4M518.3,381.1L526.4,366.1M526.4,366.1L509.3,362.7M467.5,359.2L481.1,374.5M539.9,378.9L534.3,363.2M526.4,366.1L530.7,363.0M534.3,363.2L530.7,363.0M508.2,359.6L523.5,354.5M530.7,363.0L523.5,354.5M512.5,345.0L523.5,345.0M523.5,354.5L523.5,345.0M519.4,330.9L527.0,341.4M530.2,341.0L527.0,341.4M523.5,345.0L527.0,341.4M468.8,492.8L471.8,489.1M455.5,466.2L453.1,466.9M471.8,489.1L472.2,482.8M489.8,503.8L489.8,489.1M465.4,506.5L473.0,512.2M471.8,489.1L489.8,489.1M499.2,492.6L490.2,488.7M489.8,489.1L490.2,488.7M512.8,484.4L505.3,478.4M505.3,478.4L495.2,475.0M490.2,488.7L495.2,475.0M539.8,491.6L547.9,488.5M556.6,511.5L549.5,514.9M556.6,511.5L556.2,493.2M556.2,493.2L547.9,488.5M530.6,482.4L536.3,468.8M542.2,467.2L536.3,468.8M550.0,482.9L547.9,488.5M592.1,471.0L578.5,471.0M586.1,455.6L579.1,457.9M578.5,471.0L576.4,465.4M579.1,457.9L576.4,465.4M551.6,394.8L561.2,410.8M538.7,412.6L560.5,412.6M561.2,410.8L560.5,412.6M591.3,422.2L588.0,418.9M607.4,415.1L608.3,405.7M593.1,401.9L586.9,414.2M588.0,418.9L586.9,414.2M573.7,395.7L578.4,391.9M578.4,391.9L574.7,375.4M591.5,393.0L591.9,393.8M591.5,393.0L578.4,391.9M572.1,405.3L573.7,395.7M561.2,410.8L572.1,405.3M506.0,404.3L491.4,398.8M506.0,404.3L494.5,418.0M491.4,398.8L486.1,410.7M486.1,410.7L492.1,418.2M494.5,418.0L492.1,418.2M513.5,402.6L506.0,404.3M489.4,392.7L491.4,398.8M504.8,423.8L516.4,417.4M504.8,423.8L494.5,418.0M472.4,409.6L486.1,410.7M482.4,389.5L472.4,409.6M391.8,356.8L369.1,356.8M369.1,356.8L371.5,362.2M392.2,359.2L391.8,356.8M392.2,359.2L385.2,369.1M371.5,362.2L385.2,369.1M385.4,392.4L383.6,380.6M400.6,387.9L385.4,392.4M400.6,387.9L400.6,374.9M400.6,374.9L386.8,374.9M383.6,380.6L386.8,374.9M405.6,353.5L413.7,350.0M395.8,349.3L405.6,353.5M395.8,337.3L395.8,349.3M413.1,338.7L415.2,341.9M415.2,341.9L413.7,350.0M456.8,317.0L432.5,323.6M432.5,323.6L430.6,308.0M459.4,322.0L446.0,342.1M453.9,351.5L450.6,350.6M450.6,350.6L446.0,342.1M408.9,396.9L408.9,392.8M408.9,392.8L414.5,388.4M432.7,389.6L423.7,409.5M432.7,389.6L429.1,384.7M429.1,384.7L414.5,388.4M402.7,372.8L400.1,364.8M402.7,372.8L408.2,372.7M408.2,372.7L419.1,367.0M418.6,365.8L419.1,367.0M400.6,374.9L402.7,372.8M392.2,359.2L400.1,364.8M385.2,369.1L386.8,374.9M400.6,387.9L408.9,392.8M429.2,371.7L429.1,384.7M429.2,371.7L419.1,367.0M417.6,356.3L413.7,350.0M417.6,356.3L418.6,365.8M395.8,349.3L392.6,353.9M392.6,353.9L391.8,356.8M436.9,364.3L429.0,350.6M436.2,366.1L436.9,364.3M436.2,366.1L429.2,371.7M436.9,364.3L450.6,350.6M464.9,359.4L461.9,365.5M477.9,384.1L465.5,386.5M461.9,365.5L465.5,386.5M501.0,562.0L491.9,536.2M528.4,542.6L519.6,562.0M516.2,527.5L528.4,542.6M567.9,321.9L567.4,318.2M585.1,323.3L567.9,321.9M585.1,323.3L580.2,308.0M567.4,318.2L576.6,308.0M638.7,553.7L641.5,562.0M638.7,553.7L641.5,534.5M656.9,539.1L664.5,546.0M622.8,537.8L616.7,558.3M653.4,514.7L664.5,511.6M653.4,514.7L656.9,539.1M605.1,517.6L602.8,520.3M605.1,517.6L631.5,519.8M608.8,536.4L622.6,536.4M622.6,536.4L631.4,523.2M631.5,519.8L631.4,523.2M602.3,499.5L605.1,517.6M602.3,499.5L588.2,504.2M588.2,518.8L594.8,522.8M594.8,522.8L602.8,520.3M602.3,499.4L602.3,499.5M632.8,517.4L610.6,498.8M632.8,517.4L631.5,519.8M594.8,522.8L592.0,532.0M592.0,532.0L599.6,544.2M600.1,544.1L608.8,536.4M622.8,537.8L622.6,536.4M641.5,534.5L631.4,523.2M632.8,517.4L637.2,513.0M653.4,514.7L637.2,513.0M518.4,484.0L518.4,460.4M514.3,460.4L518.4,460.4M522.8,458.0L518.4,460.4M555.1,370.6L564.2,356.1M564.2,356.1L568.3,353.9M555.1,372.1L555.1,370.6M576.6,373.1L574.7,375.4M576.6,373.1L576.6,359.7M576.6,373.1L589.9,377.1M576.6,359.7L588.3,355.7M588.3,355.7L600.5,364.6M600.5,364.6L589.9,377.1M591.5,393.0L593.5,386.2M614.4,390.7L610.0,380.1M610.0,380.1L593.5,386.2M593.5,386.2L589.9,377.1M616.1,331.0L626.6,325.8M625.6,308.0L626.6,325.8M603.3,319.5L603.3,308.0M616.1,331.0L603.3,319.5M635.8,381.0L629.9,389.3M635.8,381.0L650.4,394.4M649.4,397.6L641.0,401.8M629.9,389.3L631.7,399.5M631.7,399.5L641.0,401.8M651.2,410.9L641.0,410.9M641.0,401.8L641.0,410.9M638.5,423.0L637.1,415.5M640.5,424.4L638.5,423.0M652.4,420.8L640.5,424.4M641.0,410.9L637.1,415.5M628.2,473.4L639.5,482.8M639.5,482.8L635.4,497.0M637.2,513.0L637.2,502.4M635.4,497.0L637.2,502.4M639.5,482.8L647.9,479.1M628.2,466.7L634.4,460.5M634.4,460.5L648.6,470.0M648.6,470.0L647.9,479.1M623.8,442.0L635.3,457.3M623.8,442.0L642.9,437.8M635.3,457.3L647.6,449.9M647.6,449.9L648.1,442.0M642.9,437.8L648.1,442.0M619.1,440.1L623.8,442.0M634.4,460.5L635.3,457.3M627.0,426.5L638.5,423.0M640.5,424.4L642.9,437.8M648.6,470.0L657.5,459.8M657.5,459.8L647.6,449.9M657.5,459.8L664.5,460.3M657.2,437.5L648.1,442.0M543.8,359.3L550.7,354.4M543.8,359.3L538.6,359.3M538.6,359.3L537.0,343.1M537.0,343.1L547.8,337.7M547.9,337.7L547.8,337.7M555.1,370.6L543.8,359.3M564.2,356.1L550.7,354.4M534.3,363.2L538.6,359.3M530.2,341.0L537.0,343.1M568.3,353.9L567.4,346.4M567.4,346.4L547.9,337.7M538.5,322.1L548.7,325.2M549.3,326.4L548.7,325.2M549.3,326.4L547.8,337.7M549.3,326.4L564.4,327.9M564.4,327.9L571.9,337.9M567.4,346.4L571.9,337.9M465.5,386.5L461.3,389.5M461.3,389.5L452.7,386.5M432.7,389.6L438.0,391.1M438.0,391.1L441.5,390.6M441.5,390.6L452.7,386.5M452.9,420.1L466.1,415.7M452.9,420.1L446.0,416.1M446.0,416.1L443.7,412.0M451.1,403.1L462.0,399.5M451.1,403.1L443.8,411.5M443.7,412.0L443.8,411.5M462.0,399.5L468.2,411.0M468.2,411.0L466.1,415.7M441.5,390.6L451.1,403.1M461.3,389.5L462.0,399.5M438.0,391.1L443.8,411.5M423.7,409.8L423.7,409.5M423.7,409.8L443.7,412.0M472.4,409.6L468.2,411.0M442.9,446.8L422.1,446.8M422.1,446.8L421.5,456.8M444.1,464.1L442.9,446.8M426.6,464.9L435.3,468.2M426.6,464.9L426.4,464.9M426.4,464.9L421.5,456.8M474.8,432.0L478.8,435.8M474.8,432.0L450.4,436.3M478.8,435.8L467.1,451.4M467.1,451.4L448.8,439.1M448.8,439.1L450.4,436.3M482.6,435.8L492.1,418.2M482.6,435.8L478.8,435.8M466.1,415.7L474.8,432.0M452.9,420.1L450.4,436.3M446.9,439.9L442.9,446.8M455.5,466.2L467.1,457.3M446.9,439.9L448.8,439.1M467.1,457.3L467.1,451.4M578.0,472.1L581.4,487.2M564.7,479.1L566.8,489.7M566.8,489.7L575.1,495.0M575.1,495.0L581.4,487.2M588.1,486.5L581.4,487.2M578.5,471.0L578.0,472.1M556.2,493.2L566.8,489.7M560.4,476.4L564.7,479.1M560.4,476.4L550.0,482.9M556.6,511.5L568.2,511.5M576.0,500.1L575.1,495.0M590.1,438.7L571.3,441.8M579.1,457.9L571.1,445.0M571.3,441.8L571.1,445.0M571.1,445.0L557.3,461.2M560.4,476.4L556.3,461.5M556.3,461.5L557.3,461.2M350.8,370.2L338.0,371.8M358.0,342.6L356.2,336.5M358.0,342.6L352.0,368.7M352.0,368.7L350.8,370.2M356.2,336.5L354.4,332.1M354.4,332.1L338.0,317.3M350.8,385.3L350.8,370.2M338.0,387.5L350.8,385.3M369.1,356.8L358.0,342.6M386.0,332.1L395.5,336.9M386.0,332.1L354.4,332.1M386.0,332.1L398.1,308.0M363.7,375.7L359.9,389.1M363.7,375.7L369.4,372.5M369.4,372.5L374.3,378.3M364.8,390.9L359.9,389.1M350.8,385.3L357.8,389.4M357.8,389.4L359.9,389.1M371.5,362.2L369.4,372.5M383.6,380.6L374.3,378.3M373.6,398.1L384.9,393.6M373.6,398.1L364.8,390.9M385.4,392.4L384.9,393.6M384.9,393.6L389.0,399.5M408.9,396.9L398.4,408.9M389.0,399.5L398.4,408.9M407.5,318.8L404.2,308.0M417.2,327.3L424.5,324.9M424.5,324.9L432.1,324.3M432.5,323.6L432.1,324.3M432.4,325.4L441.2,340.0M441.2,340.0L429.0,346.1M423.7,342.8L429.0,346.1M432.1,324.3L432.4,325.4M446.0,342.1L441.2,340.0M415.2,341.9L423.7,342.8M429.0,350.6L429.0,346.1M543.1,542.6L543.1,562.0M528.4,542.6L543.1,542.6M547.9,520.2L549.3,528.8M543.1,542.6L545.7,541.2M549.3,528.8L545.7,541.2M548.5,542.6L545.7,541.2M391.7,428.8L389.8,421.5M400.6,435.2L391.7,428.8M389.8,421.5L398.5,410.8M398.5,410.8L414.2,418.6M400.6,435.2L408.9,429.2M408.9,429.2L414.2,418.6M398.4,408.9L398.5,410.8M423.7,409.8L420.8,416.4M414.2,418.6L420.8,416.4M548.7,325.2L553.2,313.5M564.4,327.9L567.9,321.9M567.4,318.2L565.3,316.9M553.2,313.5L565.3,316.9M514.3,460.4L500.9,456.3M495.2,475.0L494.0,472.8M500.9,456.3L494.0,472.8M472.2,482.8L480.2,469.6M494.0,472.8L480.2,469.6M485.2,437.6L493.3,449.3M504.8,431.7L510.8,438.8M510.8,438.8L498.9,452.3M493.3,449.3L498.9,452.3M482.6,435.8L485.2,437.6M504.8,423.8L504.8,431.7M522.3,434.2L520.5,438.8M522.3,434.2L523.7,424.7M520.5,438.8L510.8,438.8M520.5,438.8L525.9,448.2M525.9,448.2L522.8,458.0M500.9,456.3L498.9,452.3M649.3,320.9L648.2,308.0M626.6,325.8L635.2,329.0M635.2,329.0L649.3,320.9M600.5,364.6L609.6,365.2M610.0,380.1L611.9,370.4M611.9,370.4L609.6,365.2M631.2,411.3L631.2,400.3M631.2,411.3L622.5,413.8M631.2,400.3L618.6,404.5M622.5,413.8L618.6,404.5M631.7,399.5L631.2,400.3M637.1,415.5L631.2,411.3M621.3,416.5L622.5,413.8M629.9,389.3L614.4,390.7M613.1,401.5L618.6,404.5M649.2,479.7L660.4,490.8M660.4,490.8L664.5,492.3M647.9,479.1L649.2,479.7M548.3,462.1L555.5,461.3M555.5,461.3L552.5,434.6M538.5,446.3L548.1,434.2M548.1,434.2L549.0,433.5M549.0,433.5L550.7,433.5M550.7,433.5L552.5,434.6M542.2,467.2L548.3,462.1M556.3,461.5L555.5,461.3M525.9,448.2L538.5,446.3M537.0,420.2L549.0,433.5M560.5,412.6L550.7,433.5M560.5,412.6L560.5,412.6M355.8,417.7L338.0,411.2M353.4,436.8L338.0,433.6M362.3,425.7L355.8,417.7M362.3,425.7L358.9,433.8M353.4,436.8L358.9,433.8M373.6,398.1L372.5,402.4M381.7,414.2L387.0,420.4M381.7,414.2L373.4,408.2M373.4,408.2L362.5,425.6M389.8,421.5L387.0,420.4M389.0,399.5L381.7,414.2M372.5,402.4L373.4,408.2M391.7,428.8L382.8,436.0M362.3,425.7L362.5,425.6M350.4,454.9L353.4,436.8M350.4,454.9L338.0,456.8M570.1,552.9L563.4,545.4M570.1,552.9L580.3,545.0M563.4,545.4L569.5,531.3M580.3,545.0L579.4,535.1M579.4,535.1L573.4,529.1M573.4,529.1L569.5,531.3M569.6,562.0L570.1,552.9M548.5,542.6L563.4,545.4M593.1,550.1L580.3,545.0M549.3,528.8L569.5,531.3M592.0,532.0L579.4,535.1M574.4,521.6L573.4,529.1M415.4,553.0L415.4,562.0M415.4,553.0L442.3,540.7M442.3,540.7L449.7,542.2M449.7,542.2L459.6,549.9M459.6,549.9L459.6,562.0M371.2,548.0L403.3,536.5M403.3,536.5L415.4,553.0M371.2,562.0L371.2,548.0M425.7,511.4L445.2,505.6M425.7,511.4L442.3,540.7M456.0,508.6L449.7,542.2M483.7,534.4L459.6,549.9M426.4,424.1L423.2,438.3M426.4,424.1L434.4,425.7M434.4,425.7L439.7,434.9M423.3,438.4L423.2,438.3M420.8,416.4L426.4,424.1M446.0,416.1L434.4,425.7M446.9,439.9L439.7,434.9M422.0,446.6L422.1,446.8M422.0,446.6L423.3,438.4M400.6,435.2L402.0,442.6M402.0,442.6L422.0,446.6M553.2,313.5L553.2,308.0M595.1,338.5L592.6,344.3M595.1,338.5L587.2,324.4M574.3,336.9L585.3,323.6M591.5,345.5L592.6,344.3M587.2,324.4L585.7,323.8M585.7,323.8L585.3,323.6M615.4,353.4L615.4,332.4M615.4,332.4L595.1,338.5M603.3,319.5L587.2,324.4M616.1,331.0L615.4,332.4M588.3,355.7L591.5,345.5M571.9,337.9L574.3,336.9M585.1,323.3L585.3,323.6M615.5,354.0L609.6,365.2M615.4,353.4L615.5,354.0M635.2,329.0L638.8,337.4M615.5,354.0L621.7,354.4M661.9,324.3L650.4,347.3M650.4,347.3L647.2,348.3M649.3,320.9L661.9,324.3M638.8,337.4L647.2,348.3M578.1,422.9L569.8,421.9M578.1,422.9L570.8,441.2M569.8,421.9L563.7,436.9M570.8,441.2L563.7,436.9M588.0,418.9L578.1,422.9M571.3,441.8L570.8,441.2M552.5,434.6L563.7,436.9M403.3,536.5L405.9,519.5M425.7,511.4L411.8,508.7M411.8,508.7L405.9,519.5M661.9,324.3L664.5,324.0M650.4,347.3L664.5,348.3M631.2,357.9L645.3,354.0M645.3,354.0L648.3,363.1M648.3,363.1L647.2,371.5M647.2,371.5L635.9,379.9M635.9,379.9L631.2,375.7M647.2,348.3L645.3,354.0M621.7,354.4L631.2,357.9M611.9,370.4L631.2,375.7M664.5,363.1L648.3,363.1M664.5,381.8L647.2,371.5M635.8,381.0L635.9,379.9M360.2,463.8L366.9,462.0M350.4,454.9L360.2,463.8M358.9,433.8L372.5,447.4M366.9,462.0L372.5,447.4M382.8,436.0L378.9,445.6M378.9,445.6L372.5,447.4M402.0,442.6L395.5,455.5M378.9,445.6L395.5,455.5M362.6,538.9L338.0,542.2M371.2,548.0L362.6,538.9M375.0,517.5L362.7,538.2M362.6,538.9L362.7,538.2M421.5,456.8L397.7,462.1M395.5,455.5L396.4,461.2M397.7,462.1L396.4,461.2M366.9,462.0L381.4,470.8M396.4,461.2L381.4,470.8M360.2,463.8L354.3,476.5M354.3,476.5L361.7,486.4M361.7,486.4L380.8,480.7M380.8,480.7L381.4,470.8M354.3,476.5L338.0,479.6M380.8,480.7L389.2,493.8M389.2,493.8L372.5,503.6M361.7,486.4L361.1,494.4M361.1,494.4L372.5,503.6M406.8,472.7L401.8,468.7M406.8,472.7L413.6,486.5M401.8,468.7L391.5,494.6M413.6,486.5L414.9,495.7M411.3,507.1L391.5,494.6M411.3,507.1L414.9,495.7M426.4,464.9L406.8,472.7M397.7,462.1L401.8,468.7M389.2,493.8L391.5,494.6M434.4,480.6L414.9,495.7M411.8,508.7L411.3,507.1M375.0,517.5L372.0,507.7M372.0,507.7L372.5,503.6M372.0,507.7L353.7,513.8M361.1,494.4L350.3,501.3M350.3,501.3L353.7,513.8M362.7,538.2L352.9,517.3M352.9,517.3L353.7,513.8M352.9,517.3L338.0,517.9M350.3,501.3L338.0,497.8" fill="none" stroke="#000" stroke-width="2.5" stroke-linecap="round"/>
</g><rect x="0" y="44" width="44" height="39.5" fill="#fff"/>
<text x="10" y="76.3" font-family="Liberation Sans, sans-serif" font-weight="bold" font-size="35" fill="#000">a</text>
<rect x="338" y="44.9" width="44.19999999999999" height="44.00000000000001" fill="#fff"/>
<text x="349" y="76.2" font-family="Liberation Sans, sans-serif" font-weight="bold" font-size="35" fill="#000">b</text>
<rect x="0" y="308" width="45.3" height="43.39999999999998" fill="#fff"/>
<text x="12.3" y="337.4" font-family="Liberation Sans, sans-serif" font-weight="bold" font-size="35" fill="#000">c</text>
<rect x="338" y="308" width="44.19999999999999" height="44.19999999999999" fill="#fff"/>
<text x="346.5" y="337.1" font-family="Liberation Sans, sans-serif" font-weight="bold" font-size="35" fill="#000">d</text>
<rect x="6" y="274.7" width="168.5" height="17.400000000000034" fill="#fff"/>
<rect x="11" y="280.5" width="159" height="5.600000000000023" fill="#333"/>
<rect x="342.5" y="274.4" width="169.60000000000002" height="17.200000000000045" fill="#fff"/>
<rect x="347.7" y="280.4" width="159.5" height="5.900000000000034" fill="#333"/>
<rect x="5.3" y="537.7" width="169.89999999999998" height="16.899999999999977" fill="#fff"/>
<rect x="10.8" y="543" width="159.6" height="6.7999999999999545" fill="#333"/>
<rect x="342.5" y="537.7" width="169.60000000000002" height="16.899999999999977" fill="#fff"/>
<rect x="347.7" y="543" width="159.5" height="6.7999999999999545" fill="#333"/>
<text x="45" y="253.8" font-family="Liberation Sans, sans-serif" font-weight="bold" font-size="31" textLength="89" lengthAdjust="spacingAndGlyphs" fill="#000" stroke="#fff" stroke-width="8" stroke-linejoin="round" paint-order="stroke">20 µm</text>
<text x="381.5" y="254" font-family="Liberation Sans, sans-serif" font-weight="bold" font-size="31" textLength="89" lengthAdjust="spacingAndGlyphs" fill="#000" stroke="#fff" stroke-width="8" stroke-linejoin="round" paint-order="stroke">20 µm</text>
<text x="43.7" y="517.3" font-family="Liberation Sans, sans-serif" font-weight="bold" font-size="31" textLength="89" lengthAdjust="spacingAndGlyphs" fill="#000" stroke="#fff" stroke-width="8" stroke-linejoin="round" paint-order="stroke">20 µm</text>
<text x="381.5" y="517.3" font-family="Liberation Sans, sans-serif" font-weight="bold" font-size="31" textLength="89" lengthAdjust="spacingAndGlyphs" fill="#000" stroke="#fff" stroke-width="8" stroke-linejoin="round" paint-order="stroke">20 µm</text>
<text transform="translate(254,79.4) scale(0.92,1)" font-family="Liberation Sans, sans-serif" font-weight="bold" font-size="30.6" fill="#000" stroke="#fff" stroke-width="8" stroke-linejoin="round" paint-order="stroke">SiO<tspan font-size="19" dy="9.2">2</tspan></text>
<text transform="translate(621,81.8) scale(0.86,1)" font-family="Liberation Sans, sans-serif" font-weight="bold" font-size="31.6" fill="#000" stroke="#fff" stroke-width="9" stroke-linejoin="round" paint-order="stroke">Si</text>
<text transform="translate(248.4,347.4) scale(0.8,1)" font-family="Liberation Sans, sans-serif" font-weight="bold" font-size="32.9" fill="#000" stroke="#fff" stroke-width="9.5" stroke-linejoin="round" paint-order="stroke">CaF<tspan font-size="20.5" dy="7.4" dx="0.5" transform="scale(1.2,1)">2</tspan></text>
<text transform="translate(618.5,344.8) scale(0.92,1)" font-family="Liberation Sans, sans-serif" font-weight="bold" font-size="31.2" fill="#000" stroke="#fff" stroke-width="8" stroke-linejoin="round" paint-order="stroke">PI</text>
<rect x="211.4" y="178.3" width="117.6" height="120.7" fill="#fff"/>
<defs>
<linearGradient id="gR" gradientUnits="userSpaceOnUse" x1="239.1" y1="269.5" x2="309.6" y2="257.1"><stop offset="0" stop-color="#f00"/><stop offset="0.62" stop-color="#f00"/><stop offset="1" stop-color="#f00" stop-opacity="0"/></linearGradient>
<linearGradient id="gG" gradientUnits="userSpaceOnUse" x1="311.8" y1="269.5" x2="277.3" y2="233.2"><stop offset="0" stop-color="#0f0"/><stop offset="0.62" stop-color="#0f0"/><stop offset="1" stop-color="#0f0" stop-opacity="0"/></linearGradient>
<linearGradient id="gB" gradientUnits="userSpaceOnUse" x1="301.4" y1="210.3" x2="301.4" y2="269.5"><stop offset="0" stop-color="#00f"/><stop offset="0.62" stop-color="#00f"/><stop offset="1" stop-color="#00f" stop-opacity="0"/></linearGradient>
</defs>
<g style="isolation:isolate"><path d="M239.1,269.5 L311.8,269.5 Q309,236 301.4,210.3 Z" fill="#000"/><path d="M239.1,269.5 L311.8,269.5 Q309,236 301.4,210.3 Z" fill="url(#gR)" style="mix-blend-mode:screen"/><path d="M239.1,269.5 L311.8,269.5 Q309,236 301.4,210.3 Z" fill="url(#gG)" style="mix-blend-mode:screen"/><path d="M239.1,269.5 L311.8,269.5 Q309,236 301.4,210.3 Z" fill="url(#gB)" style="mix-blend-mode:screen"/></g>
<text x="276" y="202" font-family="Liberation Sans, sans-serif" font-size="25" textLength="45" lengthAdjust="spacingAndGlyphs" fill="#000">111</text>
<text x="217.5" y="295.5" font-family="Liberation Sans, sans-serif" font-size="25" textLength="46" lengthAdjust="spacingAndGlyphs" fill="#000">001</text>
<text x="281.5" y="295.5" font-family="Liberation Sans, sans-serif" font-size="25" textLength="43" lengthAdjust="spacingAndGlyphs" fill="#000">101</text>
<line x1="767" y1="66.6" x2="1144.5" y2="66.6" stroke="#333333" stroke-width="2.8"/>
<line x1="767" y1="491.3" x2="1144.5" y2="491.3" stroke="#333333" stroke-width="2.8"/>
<line x1="767" y1="65.2" x2="767" y2="492.7" stroke="#333333" stroke-width="2.8"/>
<polyline points="1144,66.6 1166.3,66.6 1166.3,491.3 1144,491.3" fill="none" stroke="#3563db" stroke-width="2.8" stroke-linejoin="miter"/>
<line x1="798.1" y1="66.6" x2="798.1" y2="81.5" stroke="#333333" stroke-width="2.8"/>
<line x1="798.1" y1="491.3" x2="798.1" y2="476" stroke="#333333" stroke-width="2.8"/>
<line x1="859.4" y1="66.6" x2="859.4" y2="81.5" stroke="#333333" stroke-width="2.8"/>
<line x1="859.4" y1="491.3" x2="859.4" y2="476" stroke="#333333" stroke-width="2.8"/>
<line x1="920.6" y1="66.6" x2="920.6" y2="81.5" stroke="#333333" stroke-width="2.8"/>
<line x1="920.6" y1="491.3" x2="920.6" y2="476" stroke="#333333" stroke-width="2.8"/>
<line x1="981.9" y1="66.6" x2="981.9" y2="81.5" stroke="#333333" stroke-width="2.8"/>
<line x1="981.9" y1="491.3" x2="981.9" y2="476" stroke="#333333" stroke-width="2.8"/>
<line x1="1043.2" y1="66.6" x2="1043.2" y2="81.5" stroke="#333333" stroke-width="2.8"/>
<line x1="1043.2" y1="491.3" x2="1043.2" y2="476" stroke="#333333" stroke-width="2.8"/>
<line x1="1104.4" y1="66.6" x2="1104.4" y2="81.5" stroke="#333333" stroke-width="2.8"/>
<line x1="1104.4" y1="491.3" x2="1104.4" y2="476" stroke="#333333" stroke-width="2.8"/>
<line x1="767" y1="208.2" x2="785.8" y2="208.2" stroke="#333333" stroke-width="2.8"/>
<line x1="1144.2" y1="208.2" x2="1166.3" y2="208.2" stroke="#3563db" stroke-width="2.8"/>
<line x1="767" y1="349.7" x2="785.8" y2="349.7" stroke="#333333" stroke-width="2.8"/>
<line x1="1144.2" y1="349.7" x2="1166.3" y2="349.7" stroke="#3563db" stroke-width="2.8"/>
<polyline points="1275.4,66.7 1298.2,66.7 1298.2,491.3 1275.4,491.3" fill="none" stroke="#ff4a4a" stroke-width="2.8"/>
<line x1="1275.4" y1="172.8" x2="1298.2" y2="172.8" stroke="#ff4a4a" stroke-width="2.8"/>
<line x1="1275.4" y1="278.9" x2="1298.2" y2="278.9" stroke="#ff4a4a" stroke-width="2.8"/>
<line x1="1275.4" y1="385.1" x2="1298.2" y2="385.1" stroke="#ff4a4a" stroke-width="2.8"/>
<text x="753" y="78" font-family="Liberation Sans, sans-serif" font-size="30.5" text-anchor="end" fill="#000">3</text>
<text x="753" y="218.6" font-family="Liberation Sans, sans-serif" font-size="30.5" text-anchor="end" fill="#000">2</text>
<text x="753" y="360" font-family="Liberation Sans, sans-serif" font-size="30.5" text-anchor="end" fill="#000">1</text>
<text x="753" y="501.6" font-family="Liberation Sans, sans-serif" font-size="30.5" text-anchor="end" fill="#000">0</text>
<text x="798.1" y="525.4" font-family="Liberation Sans, sans-serif" font-size="30.5" text-anchor="middle" fill="#000">−5</text>
<text x="859.4" y="525.4" font-family="Liberation Sans, sans-serif" font-size="30.5" text-anchor="middle" fill="#000">0</text>
<text x="920.6" y="525.4" font-family="Liberation Sans, sans-serif" font-size="30.5" text-anchor="middle" fill="#000">5</text>
<text x="981.9" y="525.4" font-family="Liberation Sans, sans-serif" font-size="30.5" text-anchor="middle" fill="#000">10</text>
<text x="1043.2" y="525.4" font-family="Liberation Sans, sans-serif" font-size="30.5" text-anchor="middle" fill="#000">15</text>
<text x="1104.4" y="525.4" font-family="Liberation Sans, sans-serif" font-size="30.5" text-anchor="middle" fill="#000">20</text>
<text x="1178" y="75.9" font-family="Liberation Sans, sans-serif" font-size="30.5" fill="#3563db">15</text>
<text x="1178" y="217.6" font-family="Liberation Sans, sans-serif" font-size="30.5" fill="#3563db">10</text>
<text x="1178" y="359.2" font-family="Liberation Sans, sans-serif" font-size="30.5" fill="#3563db">5</text>
<text x="1178" y="501" font-family="Liberation Sans, sans-serif" font-size="30.5" fill="#3563db">0</text>
<text x="1308.5" y="79.2" font-family="Liberation Sans, sans-serif" font-size="30.5" textLength="62.5" fill="#ff4a4a">0.17</text>
<text x="1308.5" y="185.1" font-family="Liberation Sans, sans-serif" font-size="30.5" textLength="62.5" fill="#ff4a4a">0.16</text>
<text x="1308.5" y="291" font-family="Liberation Sans, sans-serif" font-size="30.5" textLength="62.5" fill="#ff4a4a">0.15</text>
<text x="1308.5" y="396.5" font-family="Liberation Sans, sans-serif" font-size="30.5" textLength="62.5" fill="#ff4a4a">0.14</text>
<text x="1308.5" y="501.9" font-family="Liberation Sans, sans-serif" font-size="30.5" textLength="62.5" fill="#ff4a4a">0.13</text>
<text transform="translate(718,279) rotate(-90)" font-family="Liberation Sans, sans-serif" font-size="31.4" text-anchor="middle" fill="#000">RMS [nm]</text>
<text transform="translate(1240,264) rotate(-90)" font-family="Liberation Sans, sans-serif" font-size="31" text-anchor="middle" fill="#3563db">Average grain size [µm]</text>
<text transform="translate(1406,276) rotate(-90)" font-family="Liberation Sans, sans-serif" font-size="32" text-anchor="middle" fill="#ff4a4a">Twin boundary density [µm<tspan font-size="20" dy="-11.5">−1</tspan><tspan dy="11.5">]</tspan></text>
<text x="964" y="562" font-family="Liberation Sans, sans-serif" font-size="30.5" text-anchor="middle" fill="#000"><tspan font-style="italic">Δα</tspan> [10<tspan font-size="19" dy="-11">−6</tspan><tspan dy="11"> K</tspan><tspan font-size="19" dy="-11">−1</tspan><tspan dy="11">]</tspan></text>
<text x="837" y="24.2" font-family="Liberation Sans, sans-serif" font-size="31" text-anchor="middle" fill="#ff6600">Tensile</text>
<text x="1053" y="25" font-family="Liberation Sans, sans-serif" font-size="31" text-anchor="middle" fill="#ff6600">Compressive</text>
<line x1="805" y1="45.5" x2="903.5" y2="45.5" stroke="#ff6600" stroke-width="2.8"/>
<polygon points="784.1,45.7 807,34.3 807,57.1" fill="#ff6600"/>
<line x1="929.7" y1="45.4" x2="1125" y2="45.4" stroke="#ff6600" stroke-width="2.8"/>
<polygon points="1145.9,45.3 1123.1,34.5 1123.1,56.8" fill="#ff6600"/>
<text x="788.8" y="123" font-family="Liberation Sans, sans-serif" font-size="33.5" font-weight="bold" fill="#000">e</text>
<line x1="797.9" y1="205.2" x2="829.7" y2="335.8" stroke="#ff4a4a" stroke-width="3.1"/>
<line x1="854.3" y1="366.6" x2="999.3" y2="438.2" stroke="#ff4a4a" stroke-width="3.1"/>
<line x1="1029.2" y1="428.2" x2="1110.7" y2="262.8" stroke="#ff4a4a" stroke-width="3.1"/>
<line x1="852.5" y1="292.3" x2="1001.1" y2="186.0" stroke="#3563db" stroke-width="3.1"/>
<line x1="1028.9" y1="192.9" x2="1110.5" y2="360.4" stroke="#3563db" stroke-width="3.1"/>
<line x1="856.5" y1="353.4" x2="997.1" y2="368.9" stroke="#333333" stroke-width="3.1"/>
<line x1="1027.0" y1="350.8" x2="1112.5" y2="112.3" stroke="#333333" stroke-width="3.1"/>
<polyline points="939.4,213.7 939.9,211.2 940.4,208.9 940.9,206.7 941.5,204.6 942.2,202.8 942.8,201.1 943.5,199.6 944.2,198.3 944.9,197.3 945.7,196.4 946.4,195.7 947.2,195.3 948.0,195.0 948.7,195.0 949.5,195.2 950.3,195.6 951.0,196.3 951.8,197.1 952.5,198.2 953.2,199.5 953.9,200.9 954.6,202.6 955.2,204.4 955.8,206.4 956.3,208.6 956.9,210.9 957.4,213.4 957.8,216.0 958.2,218.7 958.5,221.5 958.8,224.4 959.1,227.4 959.3,230.5 959.5,233.6 959.6,236.7 959.6,239.9 959.6,243.1 959.5,246.2 959.4,249.4 959.2,252.5 959.0,255.5 958.8,258.5 958.4,261.4 958.1,264.2 957.7,266.9 957.2,269.4 956.7,271.8 956.2,274.1 955.6,276.2 955.0,278.2 954.3,280.0 953.7,281.6 953.0,283.0 952.3,284.2 951.5,285.2 950.8,285.9 950.0,286.5 949.3,286.9 948.5,287.0 947.7,286.9 947.0,286.6 946.2,286.1 945.4,285.4 944.7,284.4 944.0,283.3 943.3,281.9 942.6,280.4 942.0,278.6 941.3,276.7 940.8,274.6 940.2,272.4 939.7,270.0 939.2,267.5 938.8,264.8 938.4,262.1 938.1,259.2 937.8,256.2 937.6,253.2 937.4,250.1 937.3,247.0" fill="none" stroke="#3563db" stroke-width="3"/>
<line x1="959" y1="272.6" x2="982" y2="272.6" stroke="#3563db" stroke-width="3"/>
<polygon points="1002.5,272.6 980,262 980,284.6" fill="#3563db"/>
<polyline points="975.0,381.7 974.4,383.8 973.8,385.7 973.2,387.4 972.5,388.9 971.8,390.2 971.1,391.4 970.4,392.3 969.6,393.1 968.9,393.6 968.1,393.9 967.4,394.0 966.6,393.9 965.8,393.5 965.1,393.0 964.3,392.2 963.6,391.3 962.9,390.1 962.2,388.8 961.5,387.2 960.9,385.5 960.3,383.6 959.7,381.5 959.2,379.3 958.7,376.9 958.2,374.4 957.8,371.7 957.4,369.0 957.1,366.1 956.8,363.2 956.6,360.2 956.4,357.1 956.3,354.0 956.2,350.9 956.2,347.8 956.2,344.6 956.3,341.5 956.4,338.4 956.6,335.3 956.9,332.4 957.2,329.4 957.5,326.6 957.9,323.9 958.3,321.3 958.8,318.8 959.3,316.4 959.8,314.2 960.4,312.1 961.0,310.3 961.6,308.5 962.3,307.0 963.0,305.7 963.7,304.6 964.4,303.6 965.2,302.9 966.0,302.4 966.7,302.1 967.5,302.0 968.2,302.1 969.0,302.5 969.8,303.0 970.5,303.8 971.2,304.8 971.9,305.9 972.6,307.3 973.3,308.9 973.9,310.6 974.5,312.5 975.1,314.6 975.6,316.9 976.1,319.3 976.6,321.8 977.0,324.4 977.4,327.2 977.7,330.0 978.0,333.0 978.2,336.0 978.4,339.0 978.5,342.1 978.6,345.3 978.6,348.4" fill="none" stroke="#000" stroke-width="3"/>
<line x1="956" y1="315.8" x2="934" y2="315.8" stroke="#000" stroke-width="3"/>
<polygon points="913,315.8 935.8,304.8 935.8,326.7" fill="#000"/>
<polyline points="1053.5,365.8 1054.0,363.3 1054.5,360.9 1055.1,358.7 1055.7,356.7 1056.3,354.8 1056.9,353.1 1057.6,351.6 1058.3,350.3 1059.1,349.2 1059.8,348.3 1060.5,347.6 1061.3,347.1 1062.1,346.8 1062.9,346.8 1063.6,347.0 1064.4,347.4 1065.1,348.0 1065.9,348.8 1066.6,349.9 1067.3,351.1 1068.0,352.6 1068.7,354.2 1069.3,356.0 1069.9,358.0 1070.5,360.2 1071.0,362.5 1071.5,364.9 1072.0,367.5 1072.4,370.2 1072.7,373.0 1073.0,376.0 1073.3,378.9 1073.5,382.0 1073.6,385.1 1073.7,388.3 1073.8,391.4 1073.8,394.6 1073.7,397.8 1073.6,400.9 1073.5,404.0 1073.2,407.1 1073.0,410.0 1072.7,412.9 1072.3,415.7 1071.9,418.4 1071.4,421.0 1071.0,423.4 1070.4,425.7 1069.8,427.9 1069.2,429.8 1068.6,431.6 1067.9,433.2 1067.2,434.7 1066.5,435.9 1065.8,436.9 1065.1,437.7 1064.3,438.3 1063.5,438.6 1062.8,438.8 1062.0,438.7 1061.2,438.4 1060.4,437.9 1059.7,437.2 1059.0,436.3 1058.2,435.2 1057.5,433.8 1056.9,432.3 1056.2,430.6 1055.6,428.7 1055.0,426.6 1054.5,424.4 1053.9,422.0 1053.5,419.5 1053.0,416.8 1052.7,414.1 1052.3,411.2 1052.0,408.2 1051.8,405.2 1051.6,402.1 1051.5,399.0" fill="none" stroke="#ff4a4a" stroke-width="3"/>
<line x1="1073" y1="425.8" x2="1095" y2="425.8" stroke="#ff4a4a" stroke-width="3"/>
<polygon points="1116.3,425.8 1093.2,414.2 1093.2,437" fill="#ff4a4a"/>
<rect x="780.2" y="350.3" width="25.4" height="21.4" fill="#000" stroke="#333333" stroke-width="2.6"/>
<rect x="822.1" y="340.3" width="25.4" height="21.4" fill="#000" stroke="#333333" stroke-width="2.6"/>
<rect x="1006.1" y="360.6" width="25.4" height="21.4" fill="#000" stroke="#333333" stroke-width="2.6"/>
<rect x="1105.7" y="81.1" width="25.4" height="21.4" fill="#000" stroke="#333333" stroke-width="2.6"/>
<rect x="778.8" y="308.8" width="28" height="24" fill="#3563db"/>
<rect x="820.8" y="293.0" width="28" height="24" fill="#3563db"/>
<rect x="1004.8" y="161.3" width="28" height="24" fill="#3563db"/>
<rect x="1104.3" y="368.0" width="28" height="24" fill="#3563db"/>
<rect x="778.8" y="172.0" width="28" height="24" fill="#ff4a4a"/>
<rect x="820.8" y="345.0" width="28" height="24" fill="#ff4a4a"/>
<rect x="1004.8" y="435.8" width="28" height="24" fill="#ff4a4a"/>
<rect x="1104.3" y="231.2" width="28" height="24" fill="#ff4a4a"/>
</svg>
</body></html>
